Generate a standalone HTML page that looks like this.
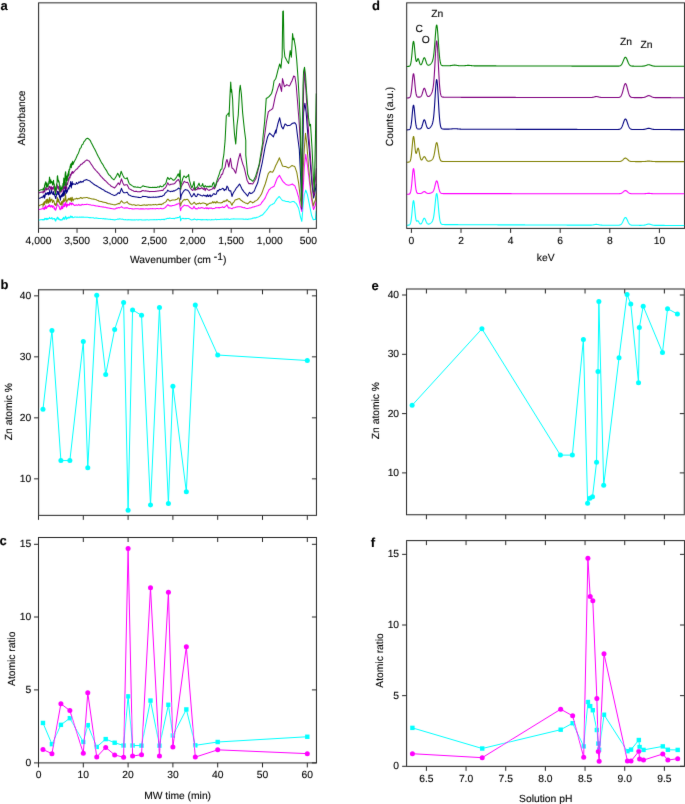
<!DOCTYPE html>
<html><head><meta charset="utf-8"><title>Figure</title>
<style>
html,body{margin:0;padding:0;background:#fff;}
svg{display:block;will-change:transform;font-family:"Liberation Sans",sans-serif;fill:#000;text-rendering:geometricPrecision;}
text{stroke:#000;stroke-width:0.12px;}
</style></head><body>
<svg width="685" height="804" viewBox="0 0 685 804">
<defs><filter id="blur" x="0" y="0" width="685" height="804" filterUnits="userSpaceOnUse"><feConvolveMatrix order="3" kernelMatrix="0.0052 0.0619 0.0052 0.0619 0.7314 0.0619 0.0052 0.0619 0.0052" divisor="1" edgeMode="none" preserveAlpha="false"/></filter></defs>
<rect x="0" y="0" width="685" height="804" fill="#ffffff"/>
<g filter="url(#blur)">
<clipPath id="ca"><rect x="38.5" y="2.5" width="278.3" height="226"/></clipPath>
<path d="M38.50,220.23 L39.40,220.08 L40.30,219.79 L41.20,219.76 L42.10,219.59 L43.00,219.55 L43.00,220.17 L43.27,219.50 L43.54,219.77 L43.81,219.70 L44.08,219.18 L44.35,219.10 L44.62,219.77 L44.89,218.19 L45.16,218.97 L45.43,218.45 L45.70,218.88 L45.97,218.57 L46.24,219.65 L46.51,218.53 L46.78,218.32 L47.05,219.32 L47.32,219.18 L47.59,219.48 L47.86,218.32 L48.13,219.07 L48.40,218.95 L48.67,218.83 L48.94,218.38 L49.21,218.42 L49.48,217.33 L49.75,218.14 L50.02,218.49 L50.29,218.59 L50.56,218.38 L50.83,218.51 L51.10,218.77 L51.37,218.12 L51.64,218.32 L51.91,217.47 L52.18,218.30 L52.45,219.20 L52.72,218.95 L52.99,219.07 L53.26,218.81 L53.53,218.58 L53.80,218.42 L54.07,218.77 L54.34,218.87 L54.61,218.46 L54.88,220.14 L55.15,220.11 L55.42,219.18 L55.69,221.24 L55.96,220.21 L56.23,219.71 L56.50,219.28 L56.77,218.52 L57.04,218.32 L57.31,217.22 L57.58,217.23 L57.85,217.28 L58.12,219.47 L58.39,218.87 L58.66,218.29 L58.93,218.60 L59.20,219.09 L59.47,219.08 L59.74,219.94 L60.01,219.68 L60.28,219.97 L60.55,220.18 L60.82,219.60 L61.09,219.43 L61.36,220.02 L61.63,219.97 L61.90,220.14 L62.17,219.85 L62.44,219.11 L62.71,218.38 L62.98,219.16 L63.25,218.80 L63.52,217.38 L63.79,217.94 L64.06,218.57 L64.33,219.34 L64.60,218.08 L64.87,218.17 L65.14,217.00 L65.41,216.86 L65.68,216.32 L65.95,217.65 L66.22,219.49 L66.49,218.04 L66.76,217.78 L67.03,218.71 L67.30,217.88 L67.57,218.24 L67.84,217.75 L68.11,217.37 L68.38,218.00 L68.65,217.41 L68.92,217.03 L69.19,217.90 L69.46,217.96 L69.73,217.75 L70.00,217.54 L70.27,216.88 L70.54,216.00 L70.81,216.83 L71.08,217.21 L71.35,216.32 L71.62,217.27 L71.89,216.83 L72.16,216.46 L72.43,216.72 L72.70,217.58 L72.97,217.70 L73.78,217.51 L74.61,217.03 L75.43,217.05 L76.25,217.23 L77.08,216.99 L77.90,217.25 L78.73,217.27 L79.55,217.14 L80.37,217.28 L81.20,216.95 L82.02,217.33 L82.84,216.97 L83.67,217.11 L84.49,217.18 L85.32,217.20 L86.14,217.33 L86.96,217.26 L87.78,217.29 L88.59,217.46 L89.40,217.64 L90.21,217.55 L91.03,217.66 L91.84,217.82 L92.65,217.80 L93.46,217.72 L94.28,218.17 L95.09,218.22 L95.90,217.87 L96.71,218.14 L97.53,218.26 L98.34,218.39 L99.15,218.43 L99.96,218.41 L100.77,218.41 L101.59,218.60 L102.40,218.76 L103.21,218.62 L104.02,218.70 L104.84,218.88 L105.65,218.76 L106.46,219.00 L107.27,219.06 L108.09,219.22 L108.90,219.18 L109.71,219.24 L110.52,219.36 L111.34,219.47 L112.15,219.48 L112.96,219.62 L113.77,219.77 L114.59,219.89 L115.42,219.79 L116.26,219.40 L117.10,219.29 L117.93,218.93 L118.77,219.23 L119.61,218.82 L120.65,219.01 L121.70,219.19 L122.75,219.13 L124.00,219.81 L124.81,219.77 L125.62,219.59 L126.43,219.81 L127.24,219.90 L128.05,219.60 L128.86,219.87 L129.67,219.82 L130.48,219.85 L131.29,219.85 L132.10,219.94 L132.91,219.79 L133.72,219.90 L134.53,219.78 L135.34,219.90 L136.15,219.75 L136.96,219.82 L137.77,220.01 L138.58,219.89 L139.39,219.83 L140.20,219.73 L141.01,219.77 L141.82,219.88 L142.63,219.95 L143.44,219.91 L144.25,219.92 L145.06,219.87 L145.87,220.01 L146.68,219.84 L147.49,219.83 L148.30,219.98 L149.11,219.90 L149.95,219.84 L150.78,219.78 L151.62,219.78 L152.46,219.84 L153.29,219.79 L154.13,219.60 L154.97,219.74 L155.81,219.69 L156.64,219.54 L157.48,219.69 L158.32,219.56 L159.15,219.52 L159.99,219.61 L160.83,219.69 L161.66,219.38 L162.50,219.51 L163.34,219.29 L164.18,219.72 L165.12,219.04 L166.06,219.00 L167.00,218.45 L167.94,218.38 L168.84,218.61 L169.74,217.97 L170.63,218.31 L171.53,218.48 L172.43,218.43 L173.32,218.38 L174.22,218.82 L175.06,218.31 L175.89,217.86 L176.73,218.01 L177.57,217.43 L178.40,217.63 L179.24,217.17 L180.12,216.02 L180.62,220.83 L181.25,218.91 L182.13,218.50 L183.01,218.27 L183.85,218.68 L184.68,218.62 L185.52,218.40 L186.36,218.63 L187.19,218.58 L188.03,218.60 L189.08,218.61 L190.12,219.31 L191.17,219.90 L192.22,219.75 L193.26,219.64 L194.31,218.85 L195.14,219.46 L195.98,219.56 L196.82,220.05 L197.66,219.31 L198.49,219.48 L199.33,219.59 L200.17,219.81 L201.00,219.54 L201.84,219.93 L202.68,219.53 L203.51,219.80 L204.35,219.65 L205.16,219.80 L205.97,219.62 L206.77,219.42 L207.58,220.01 L208.39,219.83 L209.19,219.64 L210.00,219.81 L210.82,219.96 L211.64,219.50 L212.46,219.66 L213.28,219.78 L214.09,219.75 L214.91,219.53 L215.73,219.11 L216.55,219.82 L217.37,219.59 L218.19,219.50 L219.01,219.41 L219.83,219.50 L220.64,219.32 L221.46,219.16 L222.28,219.20 L223.10,219.20 L223.92,219.17 L224.74,219.02 L225.56,219.39 L226.38,218.93 L227.19,219.34 L228.01,218.94 L228.83,219.22 L229.67,219.42 L230.51,219.14 L231.34,218.92 L232.18,219.06 L233.02,219.05 L233.85,218.84 L234.69,218.93 L235.53,218.99 L236.37,218.90 L237.20,218.94 L238.04,218.98 L238.88,218.97 L239.76,219.03 L240.63,219.05 L241.51,219.01 L242.39,219.09 L243.27,219.11 L244.15,219.16 L245.03,219.22 L245.91,219.12 L246.79,219.31 L247.66,219.39 L248.50,219.12 L249.34,219.03 L250.18,218.91 L251.01,218.66 L251.85,218.71 L252.69,218.06 L253.52,218.13 L254.36,217.79 L255.20,217.89 L256.03,217.88 L256.87,217.18 L257.71,217.27 L258.55,216.89 L259.38,216.39 L260.22,216.06 L261.06,215.36 L261.89,215.25 L262.73,214.78 L263.67,213.65 L264.61,212.49 L265.56,211.51 L266.50,210.30 L267.44,209.12 L268.38,207.79 L269.32,206.36 L270.26,205.33 L271.21,204.88 L272.15,204.46 L273.09,203.83 L274.03,203.44 L275.08,201.83 L276.12,200.11 L277.17,198.55 L278.11,197.68 L279.05,196.45 L279.91,197.29 L280.78,198.51 L281.64,199.51 L282.50,200.39 L283.43,200.68 L284.35,200.84 L285.27,201.13 L286.20,201.59 L287.15,201.56 L288.10,201.62 L289.05,201.85 L290.00,202.35 L290.93,202.14 L291.85,201.73 L292.77,201.58 L293.70,201.52 L294.53,202.06 L295.37,202.90 L296.20,203.39 L297.03,204.96 L297.87,206.86 L298.70,208.34 L299.60,212.77 L300.50,217.10 L301.80,221.37 L303.00,207.13 L304.30,194.63 L305.70,190.12 L306.55,192.28 L307.40,194.57 L308.23,198.76 L309.07,202.96 L309.90,207.11 L310.80,211.51 L311.70,215.81 L312.50,217.72 L313.30,219.73 L314.35,219.49 L315.40,219.58 L316.30,210.85" fill="none" stroke="#00ffff" stroke-width="1.05" stroke-linejoin="round" clip-path="url(#ca)"/>
<path d="M38.50,209.66 L39.40,209.39 L40.30,209.18 L41.20,209.11 L42.10,208.80 L43.00,208.69 L43.00,207.57 L43.27,208.40 L43.54,207.96 L43.81,209.12 L44.08,208.48 L44.35,209.55 L44.62,207.27 L44.89,206.94 L45.16,208.65 L45.43,206.53 L45.70,205.60 L45.97,207.74 L46.24,208.39 L46.51,208.45 L46.78,207.40 L47.05,207.65 L47.32,206.32 L47.59,206.55 L47.86,206.37 L48.13,206.48 L48.40,205.64 L48.67,205.39 L48.94,206.73 L49.21,205.46 L49.48,204.69 L49.75,205.20 L50.02,206.19 L50.29,206.86 L50.56,205.95 L50.83,207.01 L51.10,206.66 L51.37,205.67 L51.64,205.48 L51.91,205.82 L52.18,206.22 L52.45,207.53 L52.72,206.03 L52.99,205.84 L53.26,206.18 L53.53,206.21 L53.80,206.18 L54.07,208.82 L54.34,208.04 L54.61,207.86 L54.88,209.63 L55.15,208.93 L55.42,209.26 L55.69,210.25 L55.96,208.76 L56.23,208.82 L56.50,207.08 L56.77,205.84 L57.04,205.11 L57.31,204.83 L57.58,203.80 L57.85,205.08 L58.12,205.72 L58.39,205.91 L58.66,206.08 L58.93,206.00 L59.20,206.82 L59.47,208.15 L59.74,208.96 L60.01,208.97 L60.28,209.77 L60.55,209.11 L60.82,208.08 L61.09,208.10 L61.36,205.97 L61.63,208.91 L61.90,208.79 L62.17,208.29 L62.44,206.27 L62.71,208.45 L62.98,207.56 L63.25,206.84 L63.52,205.18 L63.79,203.22 L64.06,205.82 L64.33,206.71 L64.60,206.35 L64.87,205.06 L65.14,203.78 L65.41,202.82 L65.68,202.21 L65.95,205.58 L66.22,206.15 L66.49,207.16 L66.76,205.35 L67.03,203.72 L67.30,206.06 L67.57,205.80 L67.84,204.20 L68.11,204.55 L68.38,205.12 L68.65,204.43 L68.92,204.53 L69.19,204.33 L69.46,205.25 L69.73,203.08 L70.00,202.73 L70.27,203.58 L70.54,203.19 L70.81,204.32 L71.08,203.26 L71.35,204.90 L71.62,203.38 L71.89,203.69 L72.16,203.93 L72.43,203.36 L72.70,203.16 L72.97,204.25 L73.78,204.79 L74.61,205.48 L75.43,205.24 L76.25,204.71 L77.08,205.36 L77.90,205.17 L78.73,204.36 L79.55,205.32 L80.37,204.98 L81.20,205.27 L82.02,204.32 L82.84,204.74 L83.67,204.66 L84.49,204.51 L85.32,204.46 L86.14,204.51 L86.96,204.15 L87.78,204.31 L88.59,204.42 L89.40,204.66 L90.21,204.78 L91.03,205.03 L91.84,205.15 L92.65,205.26 L93.46,205.31 L94.28,205.47 L95.09,205.77 L95.90,205.88 L96.71,205.93 L97.53,206.01 L98.34,206.37 L99.15,206.25 L99.96,206.53 L100.77,206.72 L101.59,206.70 L102.40,206.98 L103.21,206.89 L104.02,207.30 L104.84,207.35 L105.65,207.28 L106.46,207.70 L107.27,207.66 L108.09,208.07 L108.90,207.98 L109.71,208.19 L110.52,208.39 L111.34,208.47 L112.15,208.68 L112.96,208.73 L113.77,209.03 L114.59,209.10 L115.53,208.74 L116.47,208.01 L117.41,208.11 L118.35,207.59 L119.61,207.88 L120.55,207.35 L121.49,206.64 L122.75,207.72 L124.00,207.96 L125.05,208.11 L126.09,207.74 L127.14,207.88 L128.08,208.07 L129.02,208.68 L129.86,208.59 L130.70,208.54 L131.53,208.85 L132.37,208.87 L133.21,208.99 L134.04,208.95 L134.88,208.78 L135.72,208.65 L136.55,208.77 L137.39,208.76 L138.23,208.75 L139.07,208.91 L139.90,208.88 L140.74,208.81 L141.58,208.87 L142.41,208.83 L143.25,208.87 L144.09,208.94 L144.92,208.96 L145.76,208.76 L146.60,208.66 L147.44,209.02 L148.27,208.86 L149.11,208.98 L149.95,208.63 L150.78,208.76 L151.62,208.79 L152.46,208.59 L153.29,208.68 L154.13,208.81 L154.97,208.83 L155.81,208.87 L156.64,208.55 L157.48,208.47 L158.32,208.68 L159.15,208.71 L159.99,208.60 L160.83,208.26 L161.66,208.71 L162.50,208.69 L163.34,208.61 L164.18,208.36 L165.12,207.60 L166.06,206.76 L167.00,205.71 L167.94,204.66 L168.88,205.59 L169.83,206.07 L170.70,205.83 L171.58,205.91 L172.46,205.45 L173.34,205.44 L174.22,205.26 L175.06,205.04 L175.89,204.85 L176.73,204.02 L177.57,204.12 L178.40,203.58 L179.24,203.00 L180.62,210.73 L181.12,208.49 L182.00,207.17 L183.13,206.25 L184.26,205.09 L185.21,205.50 L186.15,205.76 L187.09,205.64 L188.03,205.68 L188.87,206.37 L189.70,207.29 L190.54,207.77 L191.67,208.70 L192.80,208.75 L194.06,206.37 L195.31,208.78 L196.12,208.50 L196.92,208.95 L197.72,208.79 L198.53,207.52 L199.33,208.23 L200.17,208.32 L201.00,207.81 L201.84,207.53 L202.68,207.95 L203.51,208.10 L204.35,208.61 L205.16,208.32 L205.97,207.62 L206.77,208.57 L207.58,207.82 L208.39,208.85 L209.19,207.96 L210.00,208.18 L210.84,208.05 L211.67,208.12 L212.51,208.84 L213.35,208.59 L214.18,208.43 L215.02,208.25 L215.86,207.41 L216.70,207.78 L217.53,207.71 L218.37,207.47 L219.21,208.04 L220.04,207.45 L220.88,207.41 L221.72,207.21 L222.55,206.73 L223.43,207.51 L224.31,207.50 L225.19,206.68 L226.07,205.87 L226.95,204.82 L227.89,206.85 L228.83,208.10 L229.88,207.88 L230.92,208.31 L231.97,208.71 L232.81,208.06 L233.65,207.70 L234.48,207.72 L235.32,207.52 L236.16,207.07 L236.99,207.04 L237.83,206.75 L238.67,206.74 L239.50,206.65 L240.32,206.65 L241.14,206.72 L241.95,207.31 L242.77,207.38 L243.58,207.70 L244.40,207.56 L245.22,208.03 L246.03,208.34 L246.85,208.52 L247.66,208.44 L248.56,208.27 L249.46,207.98 L250.36,207.89 L251.25,207.66 L252.15,207.31 L253.05,206.91 L253.94,206.93 L254.84,206.47 L255.74,206.30 L256.63,205.95 L257.53,205.81 L258.43,205.45 L259.32,204.95 L260.22,204.74 L261.06,203.76 L261.89,202.34 L262.73,201.30 L263.57,200.24 L264.40,199.10 L265.24,197.86 L266.18,195.60 L267.12,193.56 L268.07,191.71 L269.01,189.68 L269.85,189.23 L270.68,188.11 L271.52,187.64 L272.36,187.26 L273.19,186.63 L274.03,186.40 L275.08,183.80 L276.12,181.00 L277.17,178.32 L278.30,176.95 L279.43,175.35 L280.45,177.36 L281.48,179.07 L282.50,180.93 L283.53,182.10 L284.57,183.00 L285.60,184.13 L286.63,184.69 L287.67,184.90 L288.70,185.28 L289.62,185.09 L290.55,184.66 L291.47,184.53 L292.40,183.95 L293.23,184.81 L294.07,185.31 L294.90,185.90 L295.85,188.66 L296.80,190.80 L297.75,194.26 L298.70,197.28 L299.60,202.32 L300.50,206.98 L301.80,211.64 L303.00,192.37 L304.30,167.29 L305.70,154.28 L306.55,159.84 L307.40,164.82 L308.23,171.82 L309.07,178.86 L309.90,186.05 L310.80,193.49 L311.70,200.92 L312.65,205.46 L313.60,209.56 L314.50,207.16 L315.40,204.78 L316.30,199.58" fill="none" stroke="#ff00ff" stroke-width="1.05" stroke-linejoin="round" clip-path="url(#ca)"/>
<path d="M38.50,205.86 L39.40,205.67 L40.30,204.90 L41.20,204.64 L42.10,204.34 L43.00,203.92 L43.00,206.81 L43.27,203.01 L43.54,203.98 L43.81,205.09 L44.08,202.22 L44.35,201.72 L44.62,204.62 L44.89,203.53 L45.16,201.56 L45.43,201.06 L45.70,201.08 L45.97,202.13 L46.24,199.50 L46.51,201.62 L46.78,203.40 L47.05,203.07 L47.32,199.00 L47.59,200.37 L47.86,199.56 L48.13,201.29 L48.40,203.12 L48.67,200.91 L48.94,202.61 L49.21,199.94 L49.48,197.65 L49.75,197.51 L50.02,201.19 L50.29,201.98 L50.56,200.65 L50.83,200.08 L51.10,199.37 L51.37,199.53 L51.64,200.20 L51.91,199.06 L52.18,200.75 L52.45,202.60 L52.72,202.06 L52.99,201.19 L53.26,200.62 L53.53,200.36 L53.80,200.84 L54.07,201.52 L54.34,202.78 L54.61,204.68 L54.88,203.53 L55.15,203.90 L55.42,204.87 L55.69,205.59 L55.96,203.93 L56.23,205.12 L56.50,204.90 L56.77,201.26 L57.04,200.45 L57.31,197.38 L57.58,198.83 L57.85,202.10 L58.12,202.26 L58.39,199.03 L58.66,200.28 L58.93,200.87 L59.20,201.66 L59.47,202.50 L59.74,203.34 L60.01,204.45 L60.28,204.00 L60.55,204.80 L60.82,204.33 L61.09,202.81 L61.36,201.51 L61.63,203.40 L61.90,204.92 L62.17,205.43 L62.44,202.84 L62.71,200.87 L62.98,202.82 L63.25,201.31 L63.52,199.80 L63.79,198.62 L64.06,201.98 L64.33,200.61 L64.60,201.10 L64.87,200.72 L65.14,198.71 L65.41,193.44 L65.68,196.17 L65.95,198.52 L66.22,201.82 L66.49,201.88 L66.76,202.32 L67.03,200.45 L67.30,200.69 L67.57,199.88 L67.84,199.63 L68.11,199.60 L68.38,198.35 L68.65,199.18 L68.92,200.02 L69.19,199.59 L69.46,199.70 L69.73,198.21 L70.00,199.94 L70.27,198.69 L70.54,197.84 L70.81,200.10 L71.08,199.55 L71.35,201.81 L71.62,199.35 L71.89,197.40 L72.16,197.20 L72.43,198.66 L72.70,199.82 L72.97,200.94 L73.78,199.12 L74.72,198.91 L75.66,198.99 L76.47,198.22 L77.28,199.00 L78.09,198.32 L78.89,198.84 L79.70,198.39 L80.51,197.47 L81.31,197.66 L82.12,198.53 L82.93,197.94 L83.74,197.75 L84.54,197.85 L85.35,197.66 L86.16,197.55 L86.96,197.56 L87.80,197.76 L88.64,198.16 L89.48,198.14 L90.31,198.61 L91.15,198.79 L91.99,198.97 L92.82,199.07 L93.66,199.13 L94.50,199.32 L95.39,199.60 L96.29,199.84 L97.19,200.26 L98.08,200.50 L98.98,201.16 L99.88,201.32 L100.77,201.50 L101.61,201.48 L102.45,201.97 L103.29,202.13 L104.12,202.24 L104.96,202.44 L105.80,202.48 L106.63,203.11 L107.47,203.23 L108.31,203.83 L109.20,203.66 L110.10,203.85 L111.00,204.31 L111.89,204.33 L112.79,204.55 L113.69,204.68 L114.59,204.86 L115.53,204.80 L116.47,204.35 L117.41,204.08 L118.35,203.39 L119.61,203.83 L120.55,202.06 L121.49,200.70 L122.75,202.36 L124.00,203.15 L125.05,202.82 L126.09,202.44 L127.14,201.67 L128.08,203.11 L129.02,203.97 L129.86,204.11 L130.70,204.17 L131.53,204.69 L132.37,204.91 L133.21,204.72 L134.04,204.84 L134.94,204.96 L135.84,205.44 L136.73,205.26 L137.63,205.09 L138.53,204.95 L139.42,205.17 L140.32,205.51 L141.20,205.57 L142.08,205.21 L142.96,205.11 L143.84,205.10 L144.72,204.86 L145.59,205.24 L146.47,204.90 L147.35,205.19 L148.23,204.73 L149.11,204.76 L149.92,204.96 L150.73,204.76 L151.55,204.96 L152.36,204.81 L153.17,204.59 L153.98,204.82 L154.80,204.82 L155.61,204.37 L156.42,204.89 L157.23,204.66 L158.05,204.66 L158.86,204.23 L159.67,204.36 L160.48,204.32 L161.30,204.75 L162.11,203.89 L162.92,204.04 L163.97,202.74 L165.01,202.41 L166.06,201.68 L167.00,199.89 L167.94,199.11 L168.88,200.10 L169.83,201.07 L170.70,200.72 L171.58,200.36 L172.46,200.03 L173.34,200.05 L174.22,200.09 L175.06,199.94 L175.89,199.45 L176.73,199.59 L177.57,198.73 L178.40,197.87 L179.24,198.30 L180.62,205.89 L181.12,203.48 L182.00,201.96 L183.13,200.33 L184.26,199.35 L185.21,199.98 L186.15,199.42 L187.09,199.25 L188.03,199.74 L188.87,201.01 L189.70,202.39 L190.54,203.66 L191.67,204.22 L192.80,203.80 L194.06,202.20 L195.31,203.68 L196.12,204.47 L196.92,203.84 L197.72,203.58 L198.53,203.75 L199.33,202.81 L200.17,203.67 L201.00,203.64 L201.84,203.28 L202.68,202.95 L203.51,202.96 L204.35,203.23 L205.16,203.48 L205.97,203.63 L206.77,205.62 L207.58,204.13 L208.39,204.25 L209.19,203.23 L210.00,203.36 L210.94,203.11 L211.88,202.94 L212.82,201.64 L213.77,202.86 L214.81,201.78 L215.86,203.18 L216.91,201.30 L217.95,202.73 L219.00,202.83 L220.04,202.69 L220.88,202.90 L221.72,202.62 L222.55,202.48 L223.39,201.09 L224.23,201.79 L225.07,200.67 L226.01,201.16 L226.95,199.50 L227.89,200.62 L228.83,201.66 L229.77,201.50 L230.72,202.76 L231.97,205.20 L233.02,202.81 L234.06,201.76 L235.11,200.07 L235.99,199.64 L236.87,199.48 L237.75,199.05 L238.63,198.72 L239.50,198.45 L240.55,199.92 L241.60,200.42 L242.64,201.57 L243.48,201.98 L244.32,202.31 L245.15,202.83 L245.99,203.34 L246.83,203.26 L247.66,203.85 L248.50,203.03 L249.34,202.37 L250.18,201.33 L251.01,201.72 L251.85,202.05 L252.69,202.90 L253.52,202.32 L254.36,201.78 L255.20,200.89 L256.03,200.67 L256.87,200.09 L257.71,199.47 L258.65,198.13 L259.59,196.96 L260.53,195.52 L261.48,194.03 L262.42,191.60 L263.36,188.92 L264.30,186.51 L265.24,183.99 L266.29,180.51 L267.33,176.86 L268.38,173.29 L269.32,172.35 L270.26,171.33 L271.10,171.98 L271.94,171.93 L272.77,172.12 L273.72,170.36 L274.66,168.19 L275.60,165.71 L276.54,164.00 L277.50,161.93 L278.47,160.00 L279.43,157.82 L280.45,160.56 L281.48,163.10 L282.50,165.97 L283.53,166.34 L284.57,166.58 L285.60,166.55 L286.63,167.04 L287.67,167.44 L288.70,167.91 L289.62,167.33 L290.55,166.61 L291.47,165.84 L292.40,165.59 L293.23,166.07 L294.07,166.25 L294.90,166.85 L295.85,169.57 L296.80,172.40 L297.75,177.97 L298.70,183.39 L299.60,191.69 L300.50,199.85 L301.50,206.97 L303.00,173.79 L304.30,149.01 L305.50,133.37 L306.70,142.70 L307.65,154.96 L308.60,167.25 L309.43,175.51 L310.27,183.78 L311.10,192.22 L312.20,199.05 L313.30,206.00 L314.35,202.50 L315.40,200.05 L316.30,192.54" fill="none" stroke="#808000" stroke-width="1.05" stroke-linejoin="round" clip-path="url(#ca)"/>
<path d="M38.50,198.60 L39.40,198.32 L40.30,197.91 L41.20,197.50 L42.10,197.05 L43.00,196.68 L43.00,197.66 L43.27,195.79 L43.54,196.55 L43.81,196.43 L44.08,194.72 L44.35,196.47 L44.62,198.24 L44.89,195.65 L45.16,196.28 L45.43,193.02 L45.70,193.00 L45.97,194.23 L46.24,194.32 L46.51,194.23 L46.78,194.48 L47.05,192.73 L47.32,193.81 L47.59,192.77 L47.86,192.59 L48.13,192.99 L48.40,194.99 L48.67,192.52 L48.94,194.71 L49.21,192.67 L49.48,192.42 L49.75,189.51 L50.02,194.02 L50.29,194.13 L50.56,193.44 L50.83,192.89 L51.10,193.23 L51.37,192.00 L51.64,189.93 L51.91,192.16 L52.18,192.60 L52.45,193.20 L52.72,193.87 L52.99,194.55 L53.26,193.25 L53.53,191.63 L53.80,194.79 L54.07,194.73 L54.34,193.69 L54.61,194.88 L54.88,196.18 L55.15,196.16 L55.42,197.62 L55.69,198.52 L55.96,198.50 L56.23,196.77 L56.50,194.13 L56.77,194.22 L57.04,192.90 L57.31,191.16 L57.58,191.69 L57.85,191.97 L58.12,194.75 L58.39,192.95 L58.66,194.54 L58.93,191.29 L59.20,194.42 L59.47,197.18 L59.74,195.63 L60.01,197.60 L60.28,200.29 L60.55,198.66 L60.82,196.11 L61.09,195.67 L61.36,194.70 L61.63,195.76 L61.90,196.92 L62.17,195.76 L62.44,192.95 L62.71,192.95 L62.98,193.70 L63.25,196.33 L63.52,191.40 L63.79,189.99 L64.06,193.44 L64.33,195.39 L64.60,191.86 L64.87,194.18 L65.14,189.61 L65.41,185.18 L65.68,188.30 L65.95,190.12 L66.22,191.95 L66.49,193.28 L66.76,190.90 L67.03,190.12 L67.30,192.02 L67.57,190.69 L67.84,189.36 L68.11,187.66 L68.38,187.89 L68.65,188.00 L68.92,189.06 L69.19,187.49 L69.46,185.56 L69.73,186.09 L70.00,186.55 L70.27,185.80 L70.54,181.56 L70.81,183.81 L71.08,184.24 L71.35,187.98 L71.62,183.89 L71.89,183.11 L72.16,181.56 L72.43,183.47 L72.70,184.97 L72.97,184.08 L73.78,183.83 L74.72,184.14 L75.66,184.39 L76.50,182.51 L77.34,183.86 L78.18,183.38 L79.01,181.79 L79.85,182.76 L80.69,181.30 L81.49,182.26 L82.30,181.56 L83.11,182.04 L83.92,180.39 L84.72,180.31 L85.53,180.11 L86.34,179.50 L87.38,179.90 L88.43,180.37 L89.48,180.84 L90.31,181.31 L91.15,182.18 L91.99,182.81 L92.82,183.37 L93.66,184.24 L94.50,184.56 L95.30,185.30 L96.11,185.52 L96.92,186.21 L97.73,186.30 L98.53,187.11 L99.34,187.55 L100.15,187.99 L100.95,188.47 L101.76,189.00 L102.57,189.44 L103.38,189.71 L104.18,190.44 L104.99,190.94 L105.80,191.44 L106.68,191.76 L107.55,192.30 L108.43,192.84 L109.31,193.09 L110.19,193.45 L111.07,194.13 L111.95,194.48 L112.83,194.87 L113.71,195.31 L114.59,195.49 L115.53,195.08 L116.47,194.82 L117.41,193.63 L118.35,192.76 L119.61,193.46 L120.55,190.95 L121.49,188.34 L122.75,191.67 L124.00,192.75 L125.05,192.67 L126.09,192.52 L127.14,192.25 L128.08,193.83 L129.02,195.11 L129.86,195.34 L130.70,195.70 L131.53,196.11 L132.37,196.52 L133.21,196.36 L134.04,196.84 L134.94,196.77 L135.84,196.90 L136.73,197.07 L137.63,197.33 L138.53,197.36 L139.42,197.61 L140.32,197.40 L141.16,197.26 L142.00,196.85 L142.83,196.30 L143.73,196.49 L144.63,196.46 L145.52,196.50 L146.42,196.73 L147.32,196.82 L148.21,197.48 L149.11,197.10 L149.95,197.42 L150.78,197.20 L151.62,197.22 L152.46,197.28 L153.29,197.05 L154.13,197.31 L154.97,197.23 L155.81,196.94 L156.64,197.26 L157.54,197.07 L158.44,196.88 L159.33,196.87 L160.23,196.30 L161.13,196.46 L162.02,196.36 L162.92,195.59 L163.97,195.30 L165.01,193.30 L166.06,192.31 L166.88,191.83 L167.69,190.12 L168.76,191.10 L169.83,191.18 L170.77,191.67 L171.71,191.11 L172.65,191.52 L173.59,190.72 L174.64,190.89 L175.68,190.08 L176.73,189.66 L177.80,188.80 L178.87,188.05 L180.12,189.16 L180.62,199.38 L181.12,195.93 L182.00,193.69 L183.13,191.98 L184.26,190.42 L185.31,189.55 L186.36,189.99 L187.40,190.04 L188.34,190.82 L189.29,192.26 L190.42,194.61 L191.55,196.87 L192.80,195.56 L194.06,193.38 L195.31,196.05 L196.12,196.60 L196.92,196.12 L197.72,193.99 L198.53,194.22 L199.33,194.66 L200.17,195.06 L201.00,195.54 L201.84,195.70 L202.68,196.02 L203.51,195.11 L204.35,195.38 L205.16,196.23 L205.97,195.43 L206.77,196.65 L207.58,194.78 L208.39,196.56 L209.19,196.05 L210.00,194.81 L210.84,196.69 L211.67,195.85 L212.51,195.30 L213.35,193.85 L214.18,193.68 L215.02,194.54 L216.28,194.04 L217.32,190.59 L218.37,191.09 L219.42,189.36 L220.46,189.75 L221.51,189.13 L222.55,188.32 L223.39,188.80 L224.23,190.63 L225.07,189.18 L226.01,189.85 L226.95,186.09 L227.89,187.25 L228.83,190.23 L229.77,191.00 L230.72,190.74 L231.97,196.47 L232.91,193.75 L233.85,192.01 L234.80,190.75 L235.74,188.97 L236.68,187.56 L237.62,186.57 L238.56,185.38 L239.50,183.98 L240.34,185.39 L241.18,187.28 L242.02,189.07 L242.96,190.38 L243.90,191.80 L244.84,192.74 L245.78,193.96 L246.72,194.97 L247.66,196.09 L248.61,193.89 L249.55,192.34 L250.80,193.62 L251.85,193.31 L252.90,192.25 L253.94,191.59 L254.88,189.43 L255.83,186.95 L256.77,184.91 L257.71,182.77 L258.65,178.74 L259.59,174.43 L260.53,170.34 L261.48,166.12 L262.42,161.77 L263.36,156.34 L264.30,151.31 L265.24,146.10 L266.08,143.11 L266.92,139.55 L267.75,136.49 L268.69,134.84 L269.64,133.14 L270.58,134.19 L271.52,134.86 L272.46,135.91 L273.40,136.82 L274.24,134.41 L275.08,132.30 L275.91,129.98 L275.96,133.12 L276.88,128.01 L277.80,124.02 L278.74,120.84 L279.68,117.77 L280.62,122.30 L281.56,126.69 L281.90,127.10 L283.10,128.93 L284.05,126.57 L285.00,124.05 L285.83,124.36 L286.67,125.23 L287.50,125.69 L288.33,125.49 L289.17,125.46 L290.00,125.21 L291.20,124.32 L292.40,123.27 L293.23,123.17 L294.07,122.86 L294.90,122.86 L296.20,124.70 L297.40,134.86 L298.35,142.24 L299.30,149.38 L300.15,167.18 L301.00,184.86 L301.70,209.05 L302.60,160.30 L303.60,112.31 L304.90,103.17 L306.10,112.01 L307.05,124.46 L308.00,137.18 L309.20,149.50 L310.13,161.38 L311.07,173.43 L312.00,184.88 L312.80,191.27 L313.60,198.09 L315.00,192.05 L316.30,183.88" fill="none" stroke="#000080" stroke-width="1.05" stroke-linejoin="round" clip-path="url(#ca)"/>
<path d="M38.50,193.10 L39.40,192.81 L40.30,192.31 L41.20,192.33 L42.10,191.97 L43.00,191.75 L43.00,193.04 L43.27,191.67 L43.54,191.53 L43.81,191.92 L44.08,189.67 L44.35,192.03 L44.62,189.59 L44.89,191.41 L45.16,190.24 L45.43,188.51 L45.70,187.54 L45.97,187.91 L46.24,189.08 L46.51,190.00 L46.78,189.38 L47.05,188.60 L47.32,188.83 L47.59,188.81 L47.86,189.03 L48.13,189.87 L48.40,188.57 L48.67,188.34 L48.94,186.32 L49.21,186.81 L49.48,186.26 L49.75,186.74 L50.02,188.07 L50.29,188.18 L50.56,189.04 L50.83,187.94 L51.10,186.27 L51.37,190.00 L51.64,188.41 L51.91,187.25 L52.18,187.77 L52.45,189.14 L52.72,189.32 L52.99,187.58 L53.26,187.73 L53.53,188.70 L53.80,185.77 L54.07,188.97 L54.34,190.41 L54.61,190.94 L54.88,191.14 L55.15,191.64 L55.42,194.54 L55.69,192.43 L55.96,190.53 L56.23,191.97 L56.50,190.14 L56.77,187.62 L57.04,186.45 L57.31,184.81 L57.58,187.12 L57.85,187.34 L58.12,188.88 L58.39,187.79 L58.66,186.46 L58.93,189.57 L59.20,187.66 L59.47,191.81 L59.74,190.23 L60.01,193.22 L60.28,192.12 L60.55,191.01 L60.82,191.24 L61.09,190.02 L61.36,189.65 L61.63,191.24 L61.90,191.95 L62.17,189.31 L62.44,188.24 L62.71,188.73 L62.98,186.10 L63.25,189.87 L63.52,186.01 L63.79,186.44 L64.06,187.50 L64.33,188.63 L64.60,188.29 L64.87,186.24 L65.14,186.21 L65.41,184.44 L65.68,182.09 L65.95,186.11 L66.22,189.20 L66.49,188.15 L66.76,184.44 L67.03,183.99 L67.30,183.14 L67.57,184.57 L67.84,182.28 L68.11,181.96 L68.38,179.14 L68.65,178.40 L68.92,180.22 L69.19,177.06 L69.46,176.88 L69.73,177.00 L70.00,177.93 L70.27,174.09 L70.54,175.15 L70.81,175.67 L71.08,174.59 L71.35,174.25 L71.62,172.49 L71.89,173.71 L72.16,171.52 L72.43,171.61 L72.70,171.73 L72.97,173.13 L73.78,172.06 L74.72,171.02 L75.66,169.99 L76.56,169.06 L77.46,168.69 L78.36,166.99 L79.25,166.52 L80.15,165.35 L81.05,164.17 L81.94,164.17 L82.78,163.20 L83.62,162.53 L84.45,161.96 L85.29,160.91 L86.13,160.44 L86.96,159.80 L87.80,160.42 L88.64,160.68 L89.48,161.49 L90.31,162.68 L91.15,164.10 L91.99,165.32 L92.82,166.49 L93.66,167.99 L94.50,168.92 L95.33,169.80 L96.17,170.75 L97.01,171.60 L97.85,172.68 L98.68,173.35 L99.52,174.56 L100.36,175.58 L101.19,176.60 L102.03,177.34 L102.87,178.54 L103.70,179.18 L104.54,180.20 L105.44,180.75 L106.33,181.72 L107.23,182.52 L108.13,183.67 L109.03,184.33 L109.92,184.90 L110.82,185.95 L111.76,186.47 L112.70,186.90 L113.64,187.47 L114.59,187.96 L115.53,186.86 L116.47,185.61 L117.41,184.29 L118.35,182.92 L119.61,184.82 L120.55,181.75 L121.49,178.85 L122.75,182.70 L124.00,185.12 L125.05,184.92 L126.09,184.65 L127.14,184.67 L128.08,186.66 L129.02,188.83 L129.86,189.12 L130.70,189.38 L131.53,190.02 L132.37,190.54 L133.21,190.69 L134.04,191.25 L134.94,191.47 L135.84,191.36 L136.73,191.39 L137.63,191.85 L138.53,191.75 L139.42,191.85 L140.32,191.63 L141.16,191.59 L142.00,190.69 L142.83,190.44 L143.73,190.77 L144.63,191.00 L145.52,190.81 L146.42,190.99 L147.32,191.26 L148.21,191.09 L149.11,191.61 L149.95,191.57 L150.78,191.40 L151.62,191.51 L152.46,191.52 L153.29,191.42 L154.13,191.43 L154.97,191.54 L155.81,191.23 L156.64,191.29 L157.54,191.01 L158.44,191.06 L159.33,190.67 L160.23,190.72 L161.13,190.42 L162.02,190.22 L162.92,190.61 L163.97,188.81 L165.01,188.16 L166.06,186.79 L166.88,185.07 L167.69,182.67 L169.20,184.94 L170.08,184.75 L170.96,184.15 L171.83,184.33 L172.71,184.07 L173.59,183.97 L174.64,183.60 L175.68,182.06 L176.73,180.89 L177.67,179.93 L178.61,179.43 L179.87,182.51 L180.62,189.64 L181.12,186.69 L181.75,185.85 L182.59,184.09 L183.43,182.89 L184.26,181.22 L185.10,181.89 L185.94,182.37 L186.77,182.57 L187.72,182.37 L188.66,184.30 L189.49,186.42 L190.33,188.04 L191.17,189.12 L191.98,189.84 L192.80,190.47 L194.06,187.43 L194.94,190.30 L195.98,189.29 L197.03,189.66 L198.07,187.04 L198.97,189.18 L199.87,188.31 L200.76,188.65 L201.66,187.61 L202.56,188.29 L203.45,189.36 L204.35,187.95 L205.16,190.65 L205.97,188.28 L206.77,188.56 L207.58,189.61 L208.39,190.07 L209.19,190.40 L210.00,189.74 L210.84,189.61 L211.67,189.34 L212.51,188.84 L213.35,186.90 L214.18,188.95 L215.02,187.93 L215.96,185.36 L216.91,182.28 L217.74,181.45 L218.58,179.79 L219.42,178.28 L220.46,177.67 L221.51,174.17 L222.55,174.12 L223.39,170.66 L224.23,168.69 L225.07,167.49 L226.01,162.18 L226.95,159.43 L227.89,162.53 L228.83,167.09 L229.65,162.25 L230.46,158.29 L231.97,168.04 L232.91,168.56 L233.85,169.50 L234.80,171.59 L235.74,173.19 L236.57,168.87 L237.41,164.55 L238.25,160.19 L239.19,156.60 L240.13,153.38 L241.07,157.63 L242.02,161.33 L242.85,164.17 L243.69,166.11 L244.53,169.12 L245.36,172.64 L246.20,176.47 L247.04,180.17 L247.98,182.01 L248.92,183.80 L249.86,183.62 L250.80,183.55 L251.75,183.84 L252.69,183.94 L253.73,182.24 L254.78,180.54 L255.83,178.79 L256.70,175.71 L257.58,172.03 L258.46,168.43 L259.34,164.83 L260.22,161.24 L261.16,156.24 L262.10,150.83 L263.04,145.24 L263.99,140.19 L263.99,139.90 L264.82,134.00 L265.66,127.62 L266.50,121.55 L267.44,116.66 L268.38,111.63 L269.22,111.08 L270.05,110.19 L270.89,109.91 L271.83,109.25 L272.77,108.42 L273.61,104.52 L274.45,100.36 L275.29,96.48 L276.12,93.59 L276.96,91.07 L277.80,88.37 L278.74,86.02 L279.68,83.45 L280.62,87.51 L281.56,91.42 L282.50,78.57 L283.45,82.60 L284.40,86.73 L285.20,85.79 L286.00,85.54 L286.80,84.57 L287.63,85.16 L288.47,85.67 L289.30,86.03 L290.13,84.67 L290.97,82.75 L291.80,81.33 L292.75,78.77 L293.70,76.03 L294.90,76.76 L296.20,84.99 L297.40,99.70 L298.35,112.19 L299.30,124.52 L300.20,142.31 L301.10,159.95 L301.70,208.01 L302.60,140.14 L303.60,90.20 L304.50,71.12 L305.30,82.33 L306.10,93.62 L307.05,109.01 L308.00,124.45 L308.95,137.21 L309.90,149.37 L310.77,161.47 L311.63,173.03 L312.50,185.26 L313.80,195.85 L315.00,185.12 L316.30,168.22" fill="none" stroke="#800080" stroke-width="1.05" stroke-linejoin="round" clip-path="url(#ca)"/>
<path d="M38.50,190.43 L39.40,190.64 L40.30,190.02 L41.20,189.64 L42.10,189.84 L43.00,189.62 L43.00,190.24 L43.27,188.04 L43.54,189.44 L43.81,189.18 L44.08,189.92 L44.35,188.23 L44.62,184.76 L44.89,184.99 L45.16,183.11 L45.43,183.43 L45.70,181.74 L45.97,182.62 L46.24,187.75 L46.51,184.67 L46.78,184.26 L47.05,182.96 L47.32,186.35 L47.59,187.12 L47.86,186.44 L48.13,186.30 L48.40,184.09 L48.67,183.73 L48.94,181.12 L49.21,181.36 L49.48,177.03 L49.75,178.02 L50.02,183.66 L50.29,181.02 L50.56,182.14 L50.83,179.78 L51.10,182.98 L51.37,182.67 L51.64,181.41 L51.91,181.55 L52.18,181.49 L52.45,184.31 L52.72,184.91 L52.99,184.53 L53.26,183.63 L53.53,180.35 L53.80,184.12 L54.07,183.63 L54.34,184.89 L54.61,189.88 L54.88,188.20 L55.15,186.70 L55.42,194.20 L55.69,190.36 L55.96,189.29 L56.23,189.54 L56.50,184.89 L56.77,183.53 L57.04,183.04 L57.31,176.33 L57.58,175.82 L57.85,178.24 L58.12,179.82 L58.39,181.82 L58.66,180.52 L58.93,182.31 L59.20,182.00 L59.47,187.12 L59.74,188.35 L60.01,191.26 L60.28,191.53 L60.55,190.99 L60.82,185.84 L61.09,190.12 L61.36,189.42 L61.63,188.21 L61.90,188.07 L62.17,187.13 L62.44,188.62 L62.71,188.68 L62.98,183.58 L63.25,185.99 L63.52,183.24 L63.79,177.99 L64.06,180.63 L64.33,185.69 L64.60,184.25 L64.87,180.19 L65.14,174.56 L65.41,172.54 L65.68,171.70 L65.95,177.10 L66.22,185.68 L66.49,177.68 L66.76,176.59 L67.03,175.89 L67.30,180.81 L67.57,178.53 L67.84,173.82 L68.11,176.82 L68.38,172.85 L68.65,170.92 L68.92,175.39 L69.19,169.22 L69.46,169.98 L69.73,169.79 L70.00,167.22 L70.27,165.95 L70.54,165.16 L70.81,163.98 L71.08,167.81 L71.35,167.57 L71.62,162.95 L71.89,163.20 L72.16,164.97 L72.43,162.17 L72.70,161.34 L72.97,164.45 L73.78,162.45 L74.72,160.68 L75.66,158.98 L76.56,157.09 L77.46,154.77 L78.36,153.43 L79.25,150.88 L80.15,148.29 L81.05,147.53 L81.94,144.86 L82.88,144.33 L83.83,141.88 L84.77,140.93 L85.71,139.47 L86.65,138.51 L87.59,138.28 L88.53,138.78 L89.48,139.66 L90.31,140.55 L91.15,142.50 L91.99,144.00 L92.87,145.65 L93.74,147.44 L94.62,149.00 L95.50,150.84 L96.38,152.64 L97.26,154.43 L98.14,156.24 L99.02,157.84 L99.90,159.51 L100.77,161.29 L101.61,162.85 L102.45,163.89 L103.29,165.36 L104.12,166.90 L104.96,168.27 L105.80,169.71 L106.63,170.69 L107.47,172.49 L108.31,173.90 L109.25,175.17 L110.19,175.80 L111.13,177.19 L112.07,178.42 L113.02,179.05 L113.96,179.80 L114.90,178.52 L115.84,176.90 L116.78,175.31 L117.72,173.26 L118.67,175.06 L119.61,177.35 L121.11,171.32 L121.93,173.17 L122.75,175.13 L124.00,177.56 L124.94,178.39 L125.88,178.78 L127.14,177.70 L128.08,180.48 L129.02,183.25 L129.86,184.25 L130.70,184.67 L131.53,185.41 L132.37,185.88 L133.21,186.34 L134.04,186.96 L134.94,186.79 L135.84,187.10 L136.73,187.17 L137.63,187.10 L138.53,187.28 L139.42,187.57 L140.32,187.82 L141.16,187.18 L142.00,186.58 L142.83,185.88 L143.67,186.08 L144.51,186.53 L145.34,186.57 L146.28,186.70 L147.23,187.07 L148.17,187.07 L149.11,187.41 L149.95,187.37 L150.78,187.41 L151.62,187.49 L152.46,187.36 L153.29,187.43 L154.13,187.20 L154.97,187.53 L155.81,187.35 L156.64,187.57 L157.54,186.87 L158.44,187.08 L159.33,187.11 L160.23,185.85 L161.13,186.62 L162.02,186.68 L162.92,186.54 L163.86,184.89 L164.80,184.72 L166.06,182.80 L166.88,179.47 L167.69,177.41 L169.20,179.57 L170.45,177.97 L171.50,178.51 L172.55,179.71 L173.59,180.26 L174.64,179.68 L175.68,178.33 L176.73,176.81 L178.24,173.84 L179.24,176.86 L180.12,170.01 L180.62,189.18 L181.12,184.22 L181.75,182.65 L182.88,178.24 L184.01,175.88 L185.08,176.86 L186.15,177.77 L186.98,176.32 L187.82,176.15 L188.66,174.51 L189.29,179.94 L190.12,182.62 L190.96,185.82 L191.80,187.90 L192.80,186.05 L194.06,181.49 L194.94,189.62 L196.19,187.50 L197.13,186.85 L198.07,185.18 L199.02,183.17 L199.96,186.06 L200.90,186.26 L201.84,185.71 L202.68,183.60 L203.51,186.84 L204.35,187.16 L205.19,185.61 L206.03,186.41 L206.86,187.23 L207.91,186.21 L208.95,187.12 L210.00,185.95 L210.94,186.84 L211.88,186.58 L212.82,183.52 L213.77,182.41 L214.71,187.31 L215.65,185.51 L216.91,180.84 L217.85,177.85 L218.79,175.57 L220.04,171.33 L220.99,169.30 L221.93,168.94 L222.87,160.19 L223.81,154.93 L225.07,140.92 L226.32,115.79 L227.58,114.26 L228.58,112.97 L229.08,116.59 L229.84,98.13 L230.72,82.07 L231.34,92.20 L231.59,89.25 L232.60,99.10 L233.23,115.69 L234.48,133.96 L235.74,144.07 L236.99,125.45 L238.25,115.24 L239.50,90.60 L240.26,85.38 L241.39,93.97 L242.64,112.86 L243.58,121.98 L244.53,130.71 L245.78,140.46 L245.78,155.13 L246.72,164.70 L247.66,174.18 L248.61,176.54 L249.55,179.03 L250.80,179.56 L251.75,180.46 L252.69,181.26 L253.52,180.56 L254.36,178.89 L255.20,177.34 L256.14,174.62 L257.08,171.43 L258.02,168.32 L258.96,165.47 L259.91,159.49 L260.85,153.81 L261.79,148.07 L262.73,142.55 L262.73,139.99 L263.67,130.87 L264.61,122.15 L265.43,110.06 L266.25,98.23 L267.17,98.09 L268.09,97.28 L269.01,96.64 L269.85,95.58 L270.68,94.55 L271.52,93.48 L272.77,89.21 L274.03,80.98 L274.97,79.78 L275.91,78.20 L276.85,74.53 L277.80,70.63 L278.74,67.47 L279.68,64.00 L280.94,68.17 L281.81,58.93 L282.14,57.67 L282.76,11.41 L283.38,11.00 L284.00,48.49 L284.88,56.70 L285.81,58.45 L286.74,60.39 L287.67,62.08 L288.61,63.49 L289.42,56.71 L290.22,50.50 L291.34,57.20 L292.59,33.60 L293.33,39.70 L293.96,38.31 L295.45,47.05 L296.69,59.64 L297.94,76.93 L299.18,99.03 L300.20,120.20 L301.00,159.80 L301.60,206.87 L302.40,124.69 L303.00,86.88 L303.60,71.34 L304.50,67.27 L305.50,75.02 L306.70,93.42 L307.65,106.00 L308.60,118.42 L309.60,125.90 L310.50,124.28 L311.30,136.84 L312.10,149.49 L313.40,178.25 L314.20,191.90 L315.00,160.09 L316.30,93.53" fill="none" stroke="#008000" stroke-width="1.05" stroke-linejoin="round" clip-path="url(#ca)"/>
<rect x="38.60" y="2.85" width="277.75" height="225.50" fill="none" stroke="#262626" stroke-width="1"/>
<line x1="38.50" y1="228.35" x2="38.50" y2="232.85" stroke="#262626" stroke-width="1"/>
<text x="38.50" y="243.70" font-size="10.3" text-anchor="middle" font-weight="normal" >4,000</text>
<line x1="77.04" y1="228.35" x2="77.04" y2="232.85" stroke="#262626" stroke-width="1"/>
<text x="77.04" y="243.70" font-size="10.3" text-anchor="middle" font-weight="normal" >3,500</text>
<line x1="115.59" y1="228.35" x2="115.59" y2="232.85" stroke="#262626" stroke-width="1"/>
<text x="115.59" y="243.70" font-size="10.3" text-anchor="middle" font-weight="normal" >3,000</text>
<line x1="154.13" y1="228.35" x2="154.13" y2="232.85" stroke="#262626" stroke-width="1"/>
<text x="154.13" y="243.70" font-size="10.3" text-anchor="middle" font-weight="normal" >2,500</text>
<line x1="192.67" y1="228.35" x2="192.67" y2="232.85" stroke="#262626" stroke-width="1"/>
<text x="192.67" y="243.70" font-size="10.3" text-anchor="middle" font-weight="normal" >2,000</text>
<line x1="231.21" y1="228.35" x2="231.21" y2="232.85" stroke="#262626" stroke-width="1"/>
<text x="231.21" y="243.70" font-size="10.3" text-anchor="middle" font-weight="normal" >1,500</text>
<line x1="269.76" y1="228.35" x2="269.76" y2="232.85" stroke="#262626" stroke-width="1"/>
<text x="269.76" y="243.70" font-size="10.3" text-anchor="middle" font-weight="normal" >1,000</text>
<line x1="308.30" y1="228.35" x2="308.30" y2="232.85" stroke="#262626" stroke-width="1"/>
<text x="308.30" y="243.70" font-size="10.3" text-anchor="middle" font-weight="normal" >500</text>
<text transform="translate(24.60,117.90) rotate(-90)" font-size="10.3" text-anchor="middle">Absorbance</text>
<text x="130.0" y="263" font-size="10.3">Wavenumber (cm <tspan dy="-3.2">-1</tspan><tspan dy="3.2">)</tspan></text>
<text x="0.60" y="9.80" font-size="13" text-anchor="start" font-weight="bold" >a</text>
<path d="M406.70,225.20 L407.00,225.20 L407.30,225.19 L407.60,225.19 L407.90,225.18 L408.20,225.16 L408.50,225.14 L408.80,225.10 L409.10,225.03 L409.40,224.91 L409.70,224.71 L410.00,224.36 L410.30,223.79 L410.60,222.90 L410.90,221.60 L411.20,219.80 L411.50,217.44 L411.80,214.56 L412.10,211.31 L412.40,207.95 L412.70,204.83 L413.00,202.34 L413.30,200.85 L413.60,200.59 L413.90,201.59 L414.20,203.70 L414.50,206.57 L414.80,209.80 L415.10,213.00 L415.40,215.84 L415.70,218.11 L416.00,219.72 L416.30,220.69 L416.60,221.11 L416.90,221.14 L417.20,220.98 L417.50,220.79 L417.80,220.74 L418.10,220.89 L418.40,221.26 L418.70,221.78 L419.00,222.37 L419.30,222.93 L419.60,223.40 L419.90,223.74 L420.20,223.94 L420.50,224.01 L420.80,223.95 L421.10,223.77 L421.40,223.48 L421.70,223.07 L422.00,222.54 L422.30,221.90 L422.60,221.19 L422.90,220.43 L423.20,219.70 L423.50,219.05 L423.80,218.55 L424.10,218.27 L424.40,218.23 L424.70,218.44 L425.00,218.88 L425.30,219.49 L425.60,220.20 L425.90,220.96 L426.20,221.69 L426.50,222.35 L426.80,222.90 L427.10,223.35 L427.40,223.68 L427.70,223.91 L428.00,224.05 L428.30,224.12 L428.60,224.13 L428.90,224.09 L429.20,224.01 L429.50,223.90 L429.80,223.76 L430.10,223.59 L430.40,223.39 L430.70,223.16 L431.00,222.91 L431.30,222.62 L431.60,222.30 L431.90,221.92 L432.20,221.47 L432.50,220.91 L432.80,220.20 L433.10,219.28 L433.40,218.08 L433.70,216.55 L434.00,214.63 L434.30,212.30 L434.60,209.60 L434.90,206.60 L435.20,203.45 L435.50,200.37 L435.80,197.59 L436.10,195.38 L436.40,193.96 L436.70,193.51 L437.00,194.09 L437.30,195.66 L437.60,198.07 L437.90,201.09 L438.20,204.47 L438.50,207.93 L438.80,211.25 L439.10,214.27 L439.40,216.86 L439.70,218.99 L440.00,220.65 L440.30,221.91 L440.60,222.81 L440.90,223.44 L441.20,223.86 L441.50,224.13 L441.80,224.30 L442.10,224.40 L442.40,224.47 L442.70,224.51 L443.00,224.53 L443.30,224.55 L443.60,224.56 L443.90,224.56 L444.20,224.57 L444.50,224.58 L444.80,224.58 L445.10,224.59 L445.40,224.59 L445.70,224.59 L446.00,224.60 L446.30,224.60 L446.60,224.60 L446.90,224.61 L447.20,224.61 L447.50,224.61 L447.80,224.62 L448.10,224.62 L448.40,224.62 L448.70,224.62 L449.00,224.63 L449.30,224.63 L449.60,224.63 L449.90,224.63 L450.20,224.63 L450.50,224.64 L450.80,224.64 L451.10,224.64 L451.40,224.64 L451.70,224.64 L452.00,224.65 L452.30,224.65 L452.60,224.65 L452.90,224.65 L453.20,224.65 L453.50,224.65 L453.80,224.66 L454.10,224.66 L454.40,224.66 L454.70,224.66 L455.00,224.66 L455.30,224.66 L455.60,224.66 L455.90,224.67 L456.20,224.67 L456.50,224.67 L456.80,224.67 L457.10,224.67 L457.40,224.67 L457.70,224.67 L458.00,224.67 L458.30,224.68 L458.60,224.68 L458.90,224.68 L459.20,224.68 L459.50,224.68 L459.80,224.68 L460.10,224.68 L460.40,224.69 L460.70,224.69 L461.00,224.69 L461.30,224.69 L461.60,224.69 L461.90,224.69 L462.20,224.69 L462.50,224.69 L462.80,224.70 L463.10,224.70 L463.40,224.70 L463.70,224.70 L464.00,224.70 L464.30,224.70 L464.60,224.70 L464.90,224.70 L465.20,224.70 L465.50,224.71 L465.80,224.71 L466.10,224.71 L466.40,224.71 L466.70,224.71 L467.00,224.71 L467.30,224.71 L467.60,224.71 L467.90,224.72 L468.20,224.72 L468.50,224.72 L468.80,224.72 L469.10,224.72 L469.40,224.72 L469.70,224.72 L470.00,224.72 L470.30,224.72 L470.60,224.73 L470.90,224.73 L471.20,224.73 L471.50,224.73 L471.80,224.73 L472.10,224.73 L472.40,224.73 L472.70,224.73 L473.00,224.73 L473.30,224.74 L473.60,224.74 L473.90,224.74 L474.20,224.74 L474.50,224.74 L474.80,224.74 L475.10,224.74 L475.40,224.74 L475.70,224.74 L476.00,224.75 L476.30,224.75 L476.60,224.75 L476.90,224.75 L477.20,224.75 L477.50,224.75 L477.80,224.75 L478.10,224.75 L478.40,224.76 L478.70,224.76 L479.00,224.76 L479.30,224.76 L479.60,224.76 L479.90,224.76 L480.20,224.76 L480.50,224.76 L480.80,224.76 L481.10,224.77 L481.40,224.77 L481.70,224.77 L482.00,224.77 L482.30,224.77 L482.60,224.77 L482.90,224.77 L483.20,224.77 L483.50,224.77 L483.80,224.77 L484.10,224.78 L484.40,224.78 L484.70,224.78 L485.00,224.78 L485.30,224.78 L485.60,224.78 L485.90,224.78 L486.20,224.78 L486.50,224.78 L486.80,224.79 L487.10,224.79 L487.40,224.79 L487.70,224.79 L488.00,224.79 L488.30,224.79 L488.60,224.79 L488.90,224.79 L489.20,224.79 L489.50,224.80 L489.80,224.80 L490.10,224.80 L490.40,224.80 L490.70,224.80 L491.00,224.80 L491.30,224.80 L491.60,224.80 L491.90,224.80 L492.20,224.81 L492.50,224.81 L492.80,224.81 L493.10,224.81 L493.40,224.81 L493.70,224.81 L494.00,224.81 L494.30,224.81 L494.60,224.81 L494.90,224.82 L495.20,224.82 L495.50,224.82 L495.80,224.82 L496.10,224.82 L496.40,224.82 L496.70,224.82 L497.00,224.82 L497.30,224.82 L497.60,224.83 L497.90,224.83 L498.20,224.83 L498.50,224.83 L498.80,224.83 L499.10,224.83 L499.40,224.83 L499.70,224.83 L500.00,224.83 L500.30,224.84 L500.60,224.84 L500.90,224.84 L501.20,224.84 L501.50,224.84 L501.80,224.84 L502.10,224.84 L502.40,224.84 L502.70,224.84 L503.00,224.85 L503.30,224.85 L503.60,224.85 L503.90,224.85 L504.20,224.85 L504.50,224.85 L504.80,224.85 L505.10,224.85 L505.40,224.85 L505.70,224.85 L506.00,224.86 L506.30,224.86 L506.60,224.86 L506.90,224.86 L507.20,224.86 L507.50,224.86 L507.80,224.86 L508.10,224.86 L508.40,224.86 L508.70,224.87 L509.00,224.87 L509.30,224.87 L509.60,224.87 L509.90,224.87 L510.20,224.87 L510.50,224.87 L510.80,224.87 L511.10,224.87 L511.40,224.88 L511.70,224.88 L512.00,224.88 L512.30,224.88 L512.60,224.88 L512.90,224.88 L513.20,224.88 L513.50,224.88 L513.80,224.88 L514.10,224.89 L514.40,224.89 L514.70,224.89 L515.00,224.89 L515.30,224.89 L515.60,224.89 L515.90,224.89 L516.20,224.89 L516.50,224.89 L516.80,224.90 L517.10,224.90 L517.40,224.90 L517.70,224.90 L518.00,224.90 L518.30,224.90 L518.60,224.90 L518.90,224.90 L519.20,224.90 L519.50,224.90 L519.80,224.91 L520.10,224.91 L520.40,224.91 L520.70,224.91 L521.00,224.91 L521.30,224.91 L521.60,224.91 L521.90,224.91 L522.20,224.91 L522.50,224.92 L522.80,224.92 L523.10,224.92 L523.40,224.92 L523.70,224.92 L524.00,224.92 L524.30,224.92 L524.60,224.92 L524.90,224.92 L525.20,224.93 L525.50,224.93 L525.80,224.93 L526.10,224.93 L526.40,224.93 L526.70,224.93 L527.00,224.93 L527.30,224.93 L527.60,224.93 L527.90,224.94 L528.20,224.94 L528.50,224.94 L528.80,224.94 L529.10,224.94 L529.40,224.94 L529.70,224.94 L530.00,224.94 L530.30,224.94 L530.60,224.94 L530.90,224.95 L531.20,224.95 L531.50,224.95 L531.80,224.95 L532.10,224.95 L532.40,224.95 L532.70,224.95 L533.00,224.95 L533.30,224.95 L533.60,224.96 L533.90,224.96 L534.20,224.96 L534.50,224.96 L534.80,224.96 L535.10,224.96 L535.40,224.96 L535.70,224.96 L536.00,224.96 L536.30,224.97 L536.60,224.97 L536.90,224.97 L537.20,224.97 L537.50,224.97 L537.80,224.97 L538.10,224.97 L538.40,224.97 L538.70,224.97 L539.00,224.98 L539.30,224.98 L539.60,224.98 L539.90,224.98 L540.20,224.98 L540.50,224.98 L540.80,224.98 L541.10,224.98 L541.40,224.98 L541.70,224.98 L542.00,224.99 L542.30,224.99 L542.60,224.99 L542.90,224.99 L543.20,224.99 L543.50,224.99 L543.80,224.99 L544.10,224.99 L544.40,224.99 L544.70,225.00 L545.00,225.00 L545.30,225.00 L545.60,225.00 L545.90,225.00 L546.20,225.00 L546.50,225.00 L546.80,225.00 L547.10,225.00 L547.40,225.01 L547.70,225.01 L548.00,225.01 L548.30,225.01 L548.60,225.01 L548.90,225.01 L549.20,225.01 L549.50,225.01 L549.80,225.01 L550.10,225.02 L550.40,225.02 L550.70,225.02 L551.00,225.02 L551.30,225.02 L551.60,225.02 L551.90,225.02 L552.20,225.02 L552.50,225.02 L552.80,225.02 L553.10,225.03 L553.40,225.03 L553.70,225.03 L554.00,225.03 L554.30,225.03 L554.60,225.03 L554.90,225.03 L555.20,225.03 L555.50,225.03 L555.80,225.04 L556.10,225.04 L556.40,225.04 L556.70,225.04 L557.00,225.04 L557.30,225.04 L557.60,225.04 L557.90,225.04 L558.20,225.04 L558.50,225.05 L558.80,225.05 L559.10,225.05 L559.40,225.05 L559.70,225.05 L560.00,225.05 L560.30,225.05 L560.60,225.05 L560.90,225.05 L561.20,225.05 L561.50,225.06 L561.80,225.06 L562.10,225.06 L562.40,225.06 L562.70,225.06 L563.00,225.06 L563.30,225.06 L563.60,225.06 L563.90,225.06 L564.20,225.07 L564.50,225.07 L564.80,225.07 L565.10,225.07 L565.40,225.07 L565.70,225.07 L566.00,225.07 L566.30,225.07 L566.60,225.07 L566.90,225.08 L567.20,225.08 L567.50,225.08 L567.80,225.08 L568.10,225.08 L568.40,225.08 L568.70,225.08 L569.00,225.08 L569.30,225.08 L569.60,225.08 L569.90,225.09 L570.20,225.09 L570.50,225.09 L570.80,225.09 L571.10,225.09 L571.40,225.09 L571.70,225.09 L572.00,225.09 L572.30,225.09 L572.60,225.10 L572.90,225.10 L573.20,225.10 L573.50,225.10 L573.80,225.10 L574.10,225.10 L574.40,225.10 L574.70,225.10 L575.00,225.10 L575.30,225.11 L575.60,225.11 L575.90,225.11 L576.20,225.11 L576.50,225.11 L576.80,225.11 L577.10,225.11 L577.40,225.11 L577.70,225.11 L578.00,225.11 L578.30,225.12 L578.60,225.12 L578.90,225.12 L579.20,225.12 L579.50,225.12 L579.80,225.12 L580.10,225.12 L580.40,225.12 L580.70,225.12 L581.00,225.13 L581.30,225.13 L581.60,225.13 L581.90,225.13 L582.20,225.13 L582.50,225.13 L582.80,225.13 L583.10,225.13 L583.40,225.13 L583.70,225.13 L584.00,225.14 L584.30,225.14 L584.60,225.14 L584.90,225.14 L585.20,225.14 L585.50,225.14 L585.80,225.14 L586.10,225.14 L586.40,225.14 L586.70,225.14 L587.00,225.15 L587.30,225.15 L587.60,225.15 L587.90,225.15 L588.20,225.15 L588.50,225.15 L588.80,225.15 L589.10,225.15 L589.40,225.15 L589.70,225.15 L590.00,225.14 L590.30,225.14 L590.60,225.13 L590.90,225.12 L591.20,225.11 L591.50,225.09 L591.80,225.07 L592.10,225.04 L592.40,225.01 L592.70,224.97 L593.00,224.93 L593.30,224.87 L593.60,224.82 L593.90,224.75 L594.20,224.69 L594.50,224.63 L594.80,224.56 L595.10,224.51 L595.40,224.46 L595.70,224.42 L596.00,224.39 L596.30,224.38 L596.60,224.38 L596.90,224.40 L597.20,224.43 L597.50,224.48 L597.80,224.53 L598.10,224.59 L598.40,224.66 L598.70,224.72 L599.00,224.79 L599.30,224.85 L599.60,224.91 L599.90,224.96 L600.20,225.01 L600.50,225.05 L600.80,225.08 L601.10,225.11 L601.40,225.13 L601.70,225.15 L602.00,225.16 L602.30,225.18 L602.60,225.18 L602.90,225.19 L603.20,225.19 L603.50,225.20 L603.80,225.20 L604.10,225.20 L604.40,225.20 L604.70,225.21 L605.00,225.21 L605.30,225.21 L605.60,225.21 L605.90,225.21 L606.20,225.21 L606.50,225.21 L606.80,225.21 L607.10,225.21 L607.40,225.22 L607.70,225.22 L608.00,225.22 L608.30,225.22 L608.60,225.22 L608.90,225.22 L609.20,225.22 L609.50,225.22 L609.80,225.22 L610.10,225.22 L610.40,225.23 L610.70,225.23 L611.00,225.23 L611.30,225.23 L611.60,225.23 L611.90,225.23 L612.20,225.23 L612.50,225.23 L612.80,225.23 L613.10,225.23 L613.40,225.23 L613.70,225.23 L614.00,225.23 L614.30,225.23 L614.60,225.24 L614.90,225.24 L615.20,225.24 L615.50,225.24 L615.80,225.24 L616.10,225.24 L616.40,225.24 L616.70,225.24 L617.00,225.23 L617.30,225.23 L617.60,225.23 L617.90,225.22 L618.20,225.21 L618.50,225.20 L618.80,225.18 L619.10,225.15 L619.40,225.11 L619.70,225.04 L620.00,224.96 L620.30,224.84 L620.60,224.68 L620.90,224.47 L621.20,224.21 L621.50,223.88 L621.80,223.49 L622.10,223.03 L622.40,222.50 L622.70,221.91 L623.00,221.27 L623.30,220.61 L623.60,219.94 L623.90,219.30 L624.20,218.71 L624.50,218.21 L624.80,217.82 L625.10,217.58 L625.40,217.49 L625.70,217.55 L626.00,217.78 L626.30,218.15 L626.60,218.63 L626.90,219.21 L627.20,219.85 L627.50,220.51 L627.80,221.18 L628.10,221.83 L628.40,222.43 L628.70,222.97 L629.00,223.45 L629.30,223.85 L629.60,224.19 L629.90,224.47 L630.20,224.68 L630.50,224.85 L630.80,224.98 L631.10,225.07 L631.40,225.14 L631.70,225.19 L632.00,225.22 L632.30,225.25 L632.60,225.26 L632.90,225.28 L633.20,225.28 L633.50,225.29 L633.80,225.29 L634.10,225.30 L634.40,225.30 L634.70,225.30 L635.00,225.30 L635.30,225.31 L635.60,225.31 L635.90,225.31 L636.20,225.31 L636.50,225.31 L636.80,225.31 L637.10,225.32 L637.40,225.32 L637.70,225.32 L638.00,225.32 L638.30,225.32 L638.60,225.32 L638.90,225.32 L639.20,225.33 L639.50,225.33 L639.80,225.33 L640.10,225.33 L640.40,225.33 L640.70,225.33 L641.00,225.33 L641.30,225.33 L641.60,225.32 L641.90,225.32 L642.20,225.31 L642.50,225.31 L642.80,225.29 L643.10,225.28 L643.40,225.25 L643.70,225.22 L644.00,225.19 L644.30,225.14 L644.60,225.09 L644.90,225.03 L645.20,224.95 L645.50,224.87 L645.80,224.78 L646.10,224.68 L646.40,224.58 L646.70,224.48 L647.00,224.39 L647.30,224.29 L647.60,224.21 L647.90,224.15 L648.20,224.10 L648.50,224.07 L648.80,224.07 L649.10,224.09 L649.40,224.12 L649.70,224.18 L650.00,224.26 L650.30,224.34 L650.60,224.44 L650.90,224.54 L651.20,224.65 L651.50,224.75 L651.80,224.84 L652.10,224.93 L652.40,225.01 L652.70,225.08 L653.00,225.15 L653.30,225.20 L653.60,225.24 L653.90,225.28 L654.20,225.31 L654.50,225.33 L654.80,225.35 L655.10,225.36 L655.40,225.37 L655.70,225.38 L656.00,225.38 L656.30,225.39 L656.60,225.39 L656.90,225.39 L657.20,225.39 L657.50,225.40 L657.80,225.40 L658.10,225.40 L658.40,225.40 L658.70,225.40 L659.00,225.40 L659.30,225.40 L659.60,225.41 L659.90,225.41 L660.20,225.41 L660.50,225.41 L660.80,225.41 L661.10,225.41 L661.40,225.41 L661.70,225.41 L662.00,225.42 L662.30,225.42 L662.60,225.42 L662.90,225.42 L663.20,225.42 L663.50,225.42 L663.80,225.42 L664.10,225.42 L664.40,225.42 L664.70,225.43 L665.00,225.43 L665.30,225.43 L665.60,225.43 L665.90,225.43 L666.20,225.43 L666.50,225.43 L666.80,225.43 L667.10,225.43 L667.40,225.44 L667.70,225.44 L668.00,225.44 L668.30,225.44 L668.60,225.44 L668.90,225.44 L669.20,225.44 L669.50,225.44 L669.80,225.44 L670.10,225.45 L670.40,225.45 L670.70,225.45 L671.00,225.45 L671.30,225.45 L671.60,225.45 L671.90,225.45 L672.20,225.45 L672.50,225.45 L672.80,225.46 L673.10,225.46 L673.40,225.46 L673.70,225.46 L674.00,225.46 L674.30,225.46 L674.60,225.46 L674.90,225.46 L675.20,225.46 L675.50,225.47 L675.80,225.47 L676.10,225.47 L676.40,225.47 L676.70,225.47 L677.00,225.47 L677.30,225.47 L677.60,225.47 L677.90,225.47 L678.20,225.48 L678.50,225.48 L678.80,225.48 L679.10,225.48 L679.40,225.48 L679.70,225.48 L680.00,225.48 L680.30,225.48 L680.60,225.48 L680.90,225.49 L681.20,225.49 L681.50,225.49 L681.80,225.49 L682.10,225.49 L682.40,225.49 L682.70,225.49 L683.00,225.49 L683.30,225.49 L683.60,225.50 L683.90,225.50 L684.20,225.50 L684.50,225.50" fill="none" stroke="#00ffff" stroke-width="1.1" stroke-linejoin="round" />
<path d="M406.70,194.31 L407.00,194.30 L407.30,194.30 L407.60,194.29 L407.90,194.28 L408.20,194.26 L408.50,194.24 L408.80,194.20 L409.10,194.13 L409.40,194.00 L409.70,193.79 L410.00,193.43 L410.30,192.83 L410.60,191.92 L410.90,190.56 L411.20,188.68 L411.50,186.23 L411.80,183.24 L412.10,179.86 L412.40,176.35 L412.70,173.10 L413.00,170.51 L413.30,168.96 L413.60,168.69 L413.90,169.74 L414.20,171.94 L414.50,174.96 L414.80,178.37 L415.10,181.79 L415.40,184.90 L415.70,187.50 L416.00,189.53 L416.30,191.01 L416.60,192.02 L416.90,192.67 L417.20,193.06 L417.50,193.29 L417.80,193.41 L418.10,193.48 L418.40,193.51 L418.70,193.53 L419.00,193.54 L419.30,193.54 L419.60,193.54 L419.90,193.53 L420.20,193.51 L420.50,193.48 L420.80,193.43 L421.10,193.36 L421.40,193.26 L421.70,193.12 L422.00,192.96 L422.30,192.75 L422.60,192.53 L422.90,192.29 L423.20,192.06 L423.50,191.85 L423.80,191.69 L424.10,191.60 L424.40,191.59 L424.70,191.66 L425.00,191.80 L425.30,191.99 L425.60,192.22 L425.90,192.46 L426.20,192.69 L426.50,192.90 L426.80,193.07 L427.10,193.21 L427.40,193.31 L427.70,193.38 L428.00,193.43 L428.30,193.44 L428.60,193.44 L428.90,193.42 L429.20,193.38 L429.50,193.34 L429.80,193.28 L430.10,193.21 L430.40,193.13 L430.70,193.03 L431.00,192.93 L431.30,192.81 L431.60,192.68 L431.90,192.52 L432.20,192.34 L432.50,192.11 L432.80,191.81 L433.10,191.44 L433.40,190.94 L433.70,190.31 L434.00,189.53 L434.30,188.57 L434.60,187.46 L434.90,186.23 L435.20,184.94 L435.50,183.67 L435.80,182.53 L436.10,181.62 L436.40,181.04 L436.70,180.86 L437.00,181.09 L437.30,181.74 L437.60,182.73 L437.90,183.97 L438.20,185.35 L438.50,186.77 L438.80,188.14 L439.10,189.37 L439.40,190.44 L439.70,191.31 L440.00,191.99 L440.30,192.51 L440.60,192.88 L440.90,193.14 L441.20,193.31 L441.50,193.42 L441.80,193.49 L442.10,193.53 L442.40,193.56 L442.70,193.57 L443.00,193.58 L443.30,193.59 L443.60,193.59 L443.90,193.60 L444.20,193.60 L444.50,193.60 L444.80,193.60 L445.10,193.61 L445.40,193.61 L445.70,193.61 L446.00,193.61 L446.30,193.61 L446.60,193.61 L446.90,193.61 L447.20,193.61 L447.50,193.62 L447.80,193.62 L448.10,193.62 L448.40,193.62 L448.70,193.62 L449.00,193.62 L449.30,193.62 L449.60,193.62 L449.90,193.62 L450.20,193.62 L450.50,193.62 L450.80,193.62 L451.10,193.62 L451.40,193.62 L451.70,193.62 L452.00,193.62 L452.30,193.63 L452.60,193.63 L452.90,193.63 L453.20,193.63 L453.50,193.63 L453.80,193.63 L454.10,193.63 L454.40,193.63 L454.70,193.63 L455.00,193.63 L455.30,193.63 L455.60,193.63 L455.90,193.63 L456.20,193.63 L456.50,193.63 L456.80,193.63 L457.10,193.63 L457.40,193.63 L457.70,193.63 L458.00,193.63 L458.30,193.63 L458.60,193.63 L458.90,193.63 L459.20,193.63 L459.50,193.63 L459.80,193.63 L460.10,193.63 L460.40,193.63 L460.70,193.64 L461.00,193.64 L461.30,193.64 L461.60,193.64 L461.90,193.64 L462.20,193.64 L462.50,193.64 L462.80,193.64 L463.10,193.64 L463.40,193.64 L463.70,193.64 L464.00,193.64 L464.30,193.64 L464.60,193.64 L464.90,193.64 L465.20,193.64 L465.50,193.64 L465.80,193.64 L466.10,193.64 L466.40,193.64 L466.70,193.64 L467.00,193.64 L467.30,193.64 L467.60,193.64 L467.90,193.64 L468.20,193.64 L468.50,193.64 L468.80,193.64 L469.10,193.64 L469.40,193.64 L469.70,193.64 L470.00,193.64 L470.30,193.64 L470.60,193.64 L470.90,193.64 L471.20,193.64 L471.50,193.64 L471.80,193.64 L472.10,193.65 L472.40,193.65 L472.70,193.65 L473.00,193.65 L473.30,193.65 L473.60,193.65 L473.90,193.65 L474.20,193.65 L474.50,193.65 L474.80,193.65 L475.10,193.65 L475.40,193.65 L475.70,193.65 L476.00,193.65 L476.30,193.65 L476.60,193.65 L476.90,193.65 L477.20,193.65 L477.50,193.65 L477.80,193.65 L478.10,193.65 L478.40,193.65 L478.70,193.65 L479.00,193.65 L479.30,193.65 L479.60,193.65 L479.90,193.65 L480.20,193.65 L480.50,193.65 L480.80,193.65 L481.10,193.65 L481.40,193.65 L481.70,193.65 L482.00,193.65 L482.30,193.65 L482.60,193.65 L482.90,193.65 L483.20,193.65 L483.50,193.65 L483.80,193.65 L484.10,193.65 L484.40,193.65 L484.70,193.66 L485.00,193.66 L485.30,193.66 L485.60,193.66 L485.90,193.66 L486.20,193.66 L486.50,193.66 L486.80,193.66 L487.10,193.66 L487.40,193.66 L487.70,193.66 L488.00,193.66 L488.30,193.66 L488.60,193.66 L488.90,193.66 L489.20,193.66 L489.50,193.66 L489.80,193.66 L490.10,193.66 L490.40,193.66 L490.70,193.66 L491.00,193.66 L491.30,193.66 L491.60,193.66 L491.90,193.66 L492.20,193.66 L492.50,193.66 L492.80,193.66 L493.10,193.66 L493.40,193.66 L493.70,193.66 L494.00,193.66 L494.30,193.66 L494.60,193.66 L494.90,193.66 L495.20,193.66 L495.50,193.66 L495.80,193.66 L496.10,193.66 L496.40,193.66 L496.70,193.66 L497.00,193.66 L497.30,193.66 L497.60,193.66 L497.90,193.66 L498.20,193.67 L498.50,193.67 L498.80,193.67 L499.10,193.67 L499.40,193.67 L499.70,193.67 L500.00,193.67 L500.30,193.67 L500.60,193.67 L500.90,193.67 L501.20,193.67 L501.50,193.67 L501.80,193.67 L502.10,193.67 L502.40,193.67 L502.70,193.67 L503.00,193.67 L503.30,193.67 L503.60,193.67 L503.90,193.67 L504.20,193.67 L504.50,193.67 L504.80,193.67 L505.10,193.67 L505.40,193.67 L505.70,193.67 L506.00,193.67 L506.30,193.67 L506.60,193.67 L506.90,193.67 L507.20,193.67 L507.50,193.67 L507.80,193.67 L508.10,193.67 L508.40,193.67 L508.70,193.67 L509.00,193.67 L509.30,193.67 L509.60,193.67 L509.90,193.67 L510.20,193.67 L510.50,193.67 L510.80,193.67 L511.10,193.67 L511.40,193.67 L511.70,193.68 L512.00,193.68 L512.30,193.68 L512.60,193.68 L512.90,193.68 L513.20,193.68 L513.50,193.68 L513.80,193.68 L514.10,193.68 L514.40,193.68 L514.70,193.68 L515.00,193.68 L515.30,193.68 L515.60,193.68 L515.90,193.68 L516.20,193.68 L516.50,193.68 L516.80,193.68 L517.10,193.68 L517.40,193.68 L517.70,193.68 L518.00,193.68 L518.30,193.68 L518.60,193.68 L518.90,193.68 L519.20,193.68 L519.50,193.68 L519.80,193.68 L520.10,193.68 L520.40,193.68 L520.70,193.68 L521.00,193.68 L521.30,193.68 L521.60,193.68 L521.90,193.68 L522.20,193.68 L522.50,193.68 L522.80,193.68 L523.10,193.68 L523.40,193.68 L523.70,193.68 L524.00,193.68 L524.30,193.68 L524.60,193.68 L524.90,193.68 L525.20,193.68 L525.50,193.69 L525.80,193.69 L526.10,193.69 L526.40,193.69 L526.70,193.69 L527.00,193.69 L527.30,193.69 L527.60,193.69 L527.90,193.69 L528.20,193.69 L528.50,193.69 L528.80,193.69 L529.10,193.69 L529.40,193.69 L529.70,193.69 L530.00,193.69 L530.30,193.69 L530.60,193.69 L530.90,193.69 L531.20,193.69 L531.50,193.69 L531.80,193.69 L532.10,193.69 L532.40,193.69 L532.70,193.69 L533.00,193.69 L533.30,193.69 L533.60,193.69 L533.90,193.69 L534.20,193.69 L534.50,193.69 L534.80,193.69 L535.10,193.69 L535.40,193.69 L535.70,193.69 L536.00,193.69 L536.30,193.69 L536.60,193.69 L536.90,193.69 L537.20,193.69 L537.50,193.69 L537.80,193.69 L538.10,193.69 L538.40,193.69 L538.70,193.69 L539.00,193.69 L539.30,193.70 L539.60,193.70 L539.90,193.70 L540.20,193.70 L540.50,193.70 L540.80,193.70 L541.10,193.70 L541.40,193.70 L541.70,193.70 L542.00,193.70 L542.30,193.70 L542.60,193.70 L542.90,193.70 L543.20,193.70 L543.50,193.70 L543.80,193.70 L544.10,193.70 L544.40,193.70 L544.70,193.70 L545.00,193.70 L545.30,193.70 L545.60,193.70 L545.90,193.70 L546.20,193.70 L546.50,193.70 L546.80,193.70 L547.10,193.70 L547.40,193.70 L547.70,193.70 L548.00,193.70 L548.30,193.70 L548.60,193.70 L548.90,193.70 L549.20,193.70 L549.50,193.70 L549.80,193.70 L550.10,193.70 L550.40,193.70 L550.70,193.70 L551.00,193.70 L551.30,193.70 L551.60,193.70 L551.90,193.70 L552.20,193.70 L552.50,193.70 L552.80,193.70 L553.10,193.70 L553.40,193.71 L553.70,193.71 L554.00,193.71 L554.30,193.71 L554.60,193.71 L554.90,193.71 L555.20,193.71 L555.50,193.71 L555.80,193.71 L556.10,193.71 L556.40,193.71 L556.70,193.71 L557.00,193.71 L557.30,193.71 L557.60,193.71 L557.90,193.71 L558.20,193.71 L558.50,193.71 L558.80,193.71 L559.10,193.71 L559.40,193.71 L559.70,193.71 L560.00,193.71 L560.30,193.71 L560.60,193.71 L560.90,193.71 L561.20,193.71 L561.50,193.71 L561.80,193.71 L562.10,193.71 L562.40,193.71 L562.70,193.71 L563.00,193.71 L563.30,193.71 L563.60,193.71 L563.90,193.71 L564.20,193.71 L564.50,193.71 L564.80,193.71 L565.10,193.71 L565.40,193.71 L565.70,193.71 L566.00,193.71 L566.30,193.71 L566.60,193.71 L566.90,193.71 L567.20,193.72 L567.50,193.72 L567.80,193.72 L568.10,193.72 L568.40,193.72 L568.70,193.72 L569.00,193.72 L569.30,193.72 L569.60,193.72 L569.90,193.72 L570.20,193.72 L570.50,193.72 L570.80,193.72 L571.10,193.72 L571.40,193.72 L571.70,193.72 L572.00,193.72 L572.30,193.72 L572.60,193.72 L572.90,193.72 L573.20,193.72 L573.50,193.72 L573.80,193.72 L574.10,193.72 L574.40,193.72 L574.70,193.72 L575.00,193.72 L575.30,193.72 L575.60,193.72 L575.90,193.72 L576.20,193.72 L576.50,193.72 L576.80,193.72 L577.10,193.72 L577.40,193.72 L577.70,193.72 L578.00,193.72 L578.30,193.72 L578.60,193.72 L578.90,193.72 L579.20,193.72 L579.50,193.72 L579.80,193.72 L580.10,193.72 L580.40,193.72 L580.70,193.72 L581.00,193.72 L581.30,193.73 L581.60,193.73 L581.90,193.73 L582.20,193.73 L582.50,193.73 L582.80,193.73 L583.10,193.73 L583.40,193.73 L583.70,193.73 L584.00,193.73 L584.30,193.73 L584.60,193.73 L584.90,193.73 L585.20,193.73 L585.50,193.73 L585.80,193.73 L586.10,193.73 L586.40,193.73 L586.70,193.73 L587.00,193.73 L587.30,193.73 L587.60,193.73 L587.90,193.73 L588.20,193.73 L588.50,193.73 L588.80,193.73 L589.10,193.73 L589.40,193.73 L589.70,193.73 L590.00,193.73 L590.30,193.73 L590.60,193.73 L590.90,193.73 L591.20,193.73 L591.50,193.73 L591.80,193.73 L592.10,193.73 L592.40,193.73 L592.70,193.73 L593.00,193.73 L593.30,193.73 L593.60,193.73 L593.90,193.73 L594.20,193.73 L594.50,193.73 L594.80,193.73 L595.10,193.73 L595.40,193.73 L595.70,193.74 L596.00,193.74 L596.30,193.74 L596.60,193.74 L596.90,193.74 L597.20,193.74 L597.50,193.74 L597.80,193.74 L598.10,193.74 L598.40,193.74 L598.70,193.74 L599.00,193.74 L599.30,193.74 L599.60,193.74 L599.90,193.74 L600.20,193.74 L600.50,193.74 L600.80,193.74 L601.10,193.74 L601.40,193.74 L601.70,193.74 L602.00,193.74 L602.30,193.74 L602.60,193.74 L602.90,193.74 L603.20,193.74 L603.50,193.74 L603.80,193.74 L604.10,193.74 L604.40,193.74 L604.70,193.74 L605.00,193.74 L605.30,193.74 L605.60,193.74 L605.90,193.74 L606.20,193.74 L606.50,193.74 L606.80,193.74 L607.10,193.74 L607.40,193.74 L607.70,193.74 L608.00,193.74 L608.30,193.74 L608.60,193.74 L608.90,193.74 L609.20,193.74 L609.50,193.74 L609.80,193.74 L610.10,193.74 L610.40,193.74 L610.70,193.74 L611.00,193.74 L611.30,193.74 L611.60,193.74 L611.90,193.74 L612.20,193.74 L612.50,193.74 L612.80,193.74 L613.10,193.74 L613.40,193.74 L613.70,193.74 L614.00,193.74 L614.30,193.74 L614.60,193.74 L614.90,193.74 L615.20,193.74 L615.50,193.74 L615.80,193.74 L616.10,193.74 L616.40,193.74 L616.70,193.74 L617.00,193.74 L617.30,193.74 L617.60,193.74 L617.90,193.74 L618.20,193.73 L618.50,193.73 L618.80,193.72 L619.10,193.71 L619.40,193.69 L619.70,193.66 L620.00,193.63 L620.30,193.58 L620.60,193.51 L620.90,193.43 L621.20,193.32 L621.50,193.19 L621.80,193.02 L622.10,192.83 L622.40,192.62 L622.70,192.37 L623.00,192.11 L623.30,191.84 L623.60,191.56 L623.90,191.30 L624.20,191.06 L624.50,190.85 L624.80,190.70 L625.10,190.60 L625.40,190.56 L625.70,190.59 L626.00,190.68 L626.30,190.83 L626.60,191.03 L626.90,191.26 L627.20,191.52 L627.50,191.80 L627.80,192.07 L628.10,192.34 L628.40,192.58 L628.70,192.81 L629.00,193.00 L629.30,193.17 L629.60,193.31 L629.90,193.42 L630.20,193.51 L630.50,193.57 L630.80,193.63 L631.10,193.67 L631.40,193.69 L631.70,193.71 L632.00,193.73 L632.30,193.74 L632.60,193.74 L632.90,193.75 L633.20,193.75 L633.50,193.75 L633.80,193.75 L634.10,193.76 L634.40,193.76 L634.70,193.76 L635.00,193.76 L635.30,193.76 L635.60,193.76 L635.90,193.76 L636.20,193.76 L636.50,193.76 L636.80,193.76 L637.10,193.76 L637.40,193.76 L637.70,193.76 L638.00,193.76 L638.30,193.76 L638.60,193.76 L638.90,193.76 L639.20,193.76 L639.50,193.76 L639.80,193.76 L640.10,193.76 L640.40,193.76 L640.70,193.76 L641.00,193.76 L641.30,193.76 L641.60,193.76 L641.90,193.76 L642.20,193.76 L642.50,193.76 L642.80,193.75 L643.10,193.75 L643.40,193.74 L643.70,193.73 L644.00,193.72 L644.30,193.71 L644.60,193.69 L644.90,193.67 L645.20,193.65 L645.50,193.62 L645.80,193.59 L646.10,193.56 L646.40,193.53 L646.70,193.50 L647.00,193.47 L647.30,193.44 L647.60,193.42 L647.90,193.40 L648.20,193.38 L648.50,193.37 L648.80,193.37 L649.10,193.38 L649.40,193.39 L649.70,193.41 L650.00,193.43 L650.30,193.46 L650.60,193.49 L650.90,193.52 L651.20,193.55 L651.50,193.58 L651.80,193.61 L652.10,193.64 L652.40,193.66 L652.70,193.68 L653.00,193.70 L653.30,193.72 L653.60,193.73 L653.90,193.74 L654.20,193.75 L654.50,193.76 L654.80,193.76 L655.10,193.77 L655.40,193.77 L655.70,193.77 L656.00,193.77 L656.30,193.78 L656.60,193.78 L656.90,193.78 L657.20,193.78 L657.50,193.78 L657.80,193.78 L658.10,193.78 L658.40,193.78 L658.70,193.78 L659.00,193.78 L659.30,193.78 L659.60,193.78 L659.90,193.78 L660.20,193.78 L660.50,193.78 L660.80,193.78 L661.10,193.78 L661.40,193.78 L661.70,193.78 L662.00,193.78 L662.30,193.78 L662.60,193.78 L662.90,193.78 L663.20,193.78 L663.50,193.78 L663.80,193.78 L664.10,193.78 L664.40,193.78 L664.70,193.78 L665.00,193.79 L665.30,193.79 L665.60,193.79 L665.90,193.79 L666.20,193.79 L666.50,193.79 L666.80,193.79 L667.10,193.79 L667.40,193.79 L667.70,193.79 L668.00,193.79 L668.30,193.79 L668.60,193.79 L668.90,193.79 L669.20,193.79 L669.50,193.79 L669.80,193.79 L670.10,193.79 L670.40,193.79 L670.70,193.79 L671.00,193.79 L671.30,193.79 L671.60,193.79 L671.90,193.79 L672.20,193.79 L672.50,193.79 L672.80,193.79 L673.10,193.79 L673.40,193.79 L673.70,193.79 L674.00,193.79 L674.30,193.79 L674.60,193.79 L674.90,193.79 L675.20,193.79 L675.50,193.79 L675.80,193.79 L676.10,193.79 L676.40,193.79 L676.70,193.79 L677.00,193.79 L677.30,193.79 L677.60,193.79 L677.90,193.79 L678.20,193.79 L678.50,193.80 L678.80,193.80 L679.10,193.80 L679.40,193.80 L679.70,193.80 L680.00,193.80 L680.30,193.80 L680.60,193.80 L680.90,193.80 L681.20,193.80 L681.50,193.80 L681.80,193.80 L682.10,193.80 L682.40,193.80 L682.70,193.80 L683.00,193.80 L683.30,193.80 L683.60,193.80 L683.90,193.80 L684.20,193.80 L684.50,193.80" fill="none" stroke="#ff00ff" stroke-width="1.1" stroke-linejoin="round" />
<path d="M406.70,162.20 L407.00,162.19 L407.30,162.19 L407.60,162.18 L407.90,162.17 L408.20,162.15 L408.50,162.12 L408.80,162.08 L409.10,162.01 L409.40,161.89 L409.70,161.67 L410.00,161.31 L410.30,160.71 L410.60,159.80 L410.90,158.44 L411.20,156.56 L411.50,154.10 L411.80,151.11 L412.10,147.72 L412.40,144.22 L412.70,140.96 L413.00,138.36 L413.30,136.79 L413.60,136.49 L413.90,137.48 L414.20,139.58 L414.50,142.41 L414.80,145.53 L415.10,148.49 L415.40,150.93 L415.70,152.60 L416.00,153.41 L416.30,153.40 L416.60,152.72 L416.90,151.59 L417.20,150.30 L417.50,149.12 L417.80,148.32 L418.10,148.06 L418.40,148.43 L418.70,149.39 L419.00,150.80 L419.30,152.49 L419.60,154.25 L419.90,155.91 L420.20,157.35 L420.50,158.48 L420.80,159.29 L421.10,159.78 L421.40,159.99 L421.70,159.95 L422.00,159.72 L422.30,159.34 L422.60,158.85 L422.90,158.30 L423.20,157.76 L423.50,157.27 L423.80,156.90 L424.10,156.69 L424.40,156.66 L424.70,156.83 L425.00,157.16 L425.30,157.62 L425.60,158.17 L425.90,158.74 L426.20,159.30 L426.50,159.81 L426.80,160.23 L427.10,160.58 L427.40,160.83 L427.70,161.01 L428.00,161.12 L428.30,161.18 L428.60,161.20 L428.90,161.19 L429.20,161.14 L429.50,161.08 L429.80,160.99 L430.10,160.89 L430.40,160.77 L430.70,160.63 L431.00,160.48 L431.30,160.30 L431.60,160.10 L431.90,159.88 L432.20,159.60 L432.50,159.26 L432.80,158.83 L433.10,158.26 L433.40,157.54 L433.70,156.60 L434.00,155.43 L434.30,154.01 L434.60,152.36 L434.90,150.54 L435.20,148.62 L435.50,146.74 L435.80,145.05 L436.10,143.70 L436.40,142.84 L436.70,142.56 L437.00,142.91 L437.30,143.87 L437.60,145.34 L437.90,147.18 L438.20,149.23 L438.50,151.34 L438.80,153.37 L439.10,155.20 L439.40,156.78 L439.70,158.08 L440.00,159.09 L440.30,159.86 L440.60,160.41 L440.90,160.79 L441.20,161.04 L441.50,161.21 L441.80,161.31 L442.10,161.37 L442.40,161.41 L442.70,161.44 L443.00,161.45 L443.30,161.46 L443.60,161.46 L443.90,161.47 L444.20,161.47 L444.50,161.48 L444.80,161.48 L445.10,161.48 L445.40,161.48 L445.70,161.48 L446.00,161.49 L446.30,161.49 L446.60,161.49 L446.90,161.49 L447.20,161.49 L447.50,161.49 L447.80,161.49 L448.10,161.49 L448.40,161.50 L448.70,161.50 L449.00,161.50 L449.30,161.50 L449.60,161.50 L449.90,161.50 L450.20,161.50 L450.50,161.50 L450.80,161.50 L451.10,161.50 L451.40,161.50 L451.70,161.50 L452.00,161.50 L452.30,161.50 L452.60,161.51 L452.90,161.51 L453.20,161.51 L453.50,161.51 L453.80,161.51 L454.10,161.51 L454.40,161.51 L454.70,161.51 L455.00,161.51 L455.30,161.51 L455.60,161.51 L455.90,161.51 L456.20,161.51 L456.50,161.51 L456.80,161.51 L457.10,161.51 L457.40,161.51 L457.70,161.51 L458.00,161.51 L458.30,161.51 L458.60,161.51 L458.90,161.51 L459.20,161.51 L459.50,161.51 L459.80,161.51 L460.10,161.51 L460.40,161.51 L460.70,161.51 L461.00,161.51 L461.30,161.51 L461.60,161.51 L461.90,161.51 L462.20,161.51 L462.50,161.52 L462.80,161.52 L463.10,161.52 L463.40,161.52 L463.70,161.52 L464.00,161.52 L464.30,161.52 L464.60,161.52 L464.90,161.52 L465.20,161.52 L465.50,161.52 L465.80,161.52 L466.10,161.52 L466.40,161.52 L466.70,161.52 L467.00,161.52 L467.30,161.52 L467.60,161.52 L467.90,161.52 L468.20,161.52 L468.50,161.52 L468.80,161.52 L469.10,161.52 L469.40,161.52 L469.70,161.52 L470.00,161.52 L470.30,161.52 L470.60,161.52 L470.90,161.52 L471.20,161.52 L471.50,161.52 L471.80,161.52 L472.10,161.52 L472.40,161.52 L472.70,161.52 L473.00,161.52 L473.30,161.52 L473.60,161.52 L473.90,161.52 L474.20,161.52 L474.50,161.52 L474.80,161.52 L475.10,161.52 L475.40,161.52 L475.70,161.52 L476.00,161.52 L476.30,161.52 L476.60,161.52 L476.90,161.52 L477.20,161.52 L477.50,161.52 L477.80,161.52 L478.10,161.52 L478.40,161.52 L478.70,161.52 L479.00,161.52 L479.30,161.52 L479.60,161.52 L479.90,161.52 L480.20,161.52 L480.50,161.52 L480.80,161.52 L481.10,161.52 L481.40,161.52 L481.70,161.53 L482.00,161.53 L482.30,161.53 L482.60,161.53 L482.90,161.53 L483.20,161.53 L483.50,161.53 L483.80,161.53 L484.10,161.53 L484.40,161.53 L484.70,161.53 L485.00,161.53 L485.30,161.53 L485.60,161.53 L485.90,161.53 L486.20,161.53 L486.50,161.53 L486.80,161.53 L487.10,161.53 L487.40,161.53 L487.70,161.53 L488.00,161.53 L488.30,161.53 L488.60,161.53 L488.90,161.53 L489.20,161.53 L489.50,161.53 L489.80,161.53 L490.10,161.53 L490.40,161.53 L490.70,161.53 L491.00,161.53 L491.30,161.53 L491.60,161.53 L491.90,161.53 L492.20,161.53 L492.50,161.53 L492.80,161.53 L493.10,161.53 L493.40,161.53 L493.70,161.53 L494.00,161.53 L494.30,161.53 L494.60,161.53 L494.90,161.53 L495.20,161.53 L495.50,161.53 L495.80,161.53 L496.10,161.53 L496.40,161.53 L496.70,161.53 L497.00,161.53 L497.30,161.53 L497.60,161.53 L497.90,161.53 L498.20,161.53 L498.50,161.53 L498.80,161.53 L499.10,161.53 L499.40,161.53 L499.70,161.53 L500.00,161.53 L500.30,161.53 L500.60,161.53 L500.90,161.53 L501.20,161.53 L501.50,161.53 L501.80,161.53 L502.10,161.53 L502.40,161.53 L502.70,161.53 L503.00,161.53 L503.30,161.53 L503.60,161.53 L503.90,161.53 L504.20,161.53 L504.50,161.53 L504.80,161.53 L505.10,161.53 L505.40,161.53 L505.70,161.53 L506.00,161.53 L506.30,161.53 L506.60,161.54 L506.90,161.54 L507.20,161.54 L507.50,161.54 L507.80,161.54 L508.10,161.54 L508.40,161.54 L508.70,161.54 L509.00,161.54 L509.30,161.54 L509.60,161.54 L509.90,161.54 L510.20,161.54 L510.50,161.54 L510.80,161.54 L511.10,161.54 L511.40,161.54 L511.70,161.54 L512.00,161.54 L512.30,161.54 L512.60,161.54 L512.90,161.54 L513.20,161.54 L513.50,161.54 L513.80,161.54 L514.10,161.54 L514.40,161.54 L514.70,161.54 L515.00,161.54 L515.30,161.54 L515.60,161.54 L515.90,161.54 L516.20,161.54 L516.50,161.54 L516.80,161.54 L517.10,161.54 L517.40,161.54 L517.70,161.54 L518.00,161.54 L518.30,161.54 L518.60,161.54 L518.90,161.54 L519.20,161.54 L519.50,161.54 L519.80,161.54 L520.10,161.54 L520.40,161.54 L520.70,161.54 L521.00,161.54 L521.30,161.54 L521.60,161.54 L521.90,161.54 L522.20,161.54 L522.50,161.54 L522.80,161.54 L523.10,161.54 L523.40,161.54 L523.70,161.54 L524.00,161.54 L524.30,161.54 L524.60,161.54 L524.90,161.54 L525.20,161.54 L525.50,161.54 L525.80,161.54 L526.10,161.54 L526.40,161.54 L526.70,161.54 L527.00,161.54 L527.30,161.54 L527.60,161.54 L527.90,161.54 L528.20,161.54 L528.50,161.54 L528.80,161.54 L529.10,161.54 L529.40,161.54 L529.70,161.54 L530.00,161.54 L530.30,161.54 L530.60,161.54 L530.90,161.54 L531.20,161.54 L531.50,161.54 L531.80,161.54 L532.10,161.54 L532.40,161.54 L532.70,161.54 L533.00,161.54 L533.30,161.54 L533.60,161.55 L533.90,161.55 L534.20,161.55 L534.50,161.55 L534.80,161.55 L535.10,161.55 L535.40,161.55 L535.70,161.55 L536.00,161.55 L536.30,161.55 L536.60,161.55 L536.90,161.55 L537.20,161.55 L537.50,161.55 L537.80,161.55 L538.10,161.55 L538.40,161.55 L538.70,161.55 L539.00,161.55 L539.30,161.55 L539.60,161.55 L539.90,161.55 L540.20,161.55 L540.50,161.55 L540.80,161.55 L541.10,161.55 L541.40,161.55 L541.70,161.55 L542.00,161.55 L542.30,161.55 L542.60,161.55 L542.90,161.55 L543.20,161.55 L543.50,161.55 L543.80,161.55 L544.10,161.55 L544.40,161.55 L544.70,161.55 L545.00,161.55 L545.30,161.55 L545.60,161.55 L545.90,161.55 L546.20,161.55 L546.50,161.55 L546.80,161.55 L547.10,161.55 L547.40,161.55 L547.70,161.55 L548.00,161.55 L548.30,161.55 L548.60,161.55 L548.90,161.55 L549.20,161.55 L549.50,161.55 L549.80,161.55 L550.10,161.55 L550.40,161.55 L550.70,161.55 L551.00,161.55 L551.30,161.55 L551.60,161.55 L551.90,161.55 L552.20,161.55 L552.50,161.55 L552.80,161.55 L553.10,161.55 L553.40,161.55 L553.70,161.55 L554.00,161.55 L554.30,161.55 L554.60,161.55 L554.90,161.55 L555.20,161.55 L555.50,161.55 L555.80,161.55 L556.10,161.55 L556.40,161.55 L556.70,161.55 L557.00,161.55 L557.30,161.55 L557.60,161.55 L557.90,161.55 L558.20,161.55 L558.50,161.55 L558.80,161.55 L559.10,161.55 L559.40,161.55 L559.70,161.55 L560.00,161.55 L560.30,161.55 L560.60,161.55 L560.90,161.55 L561.20,161.56 L561.50,161.56 L561.80,161.56 L562.10,161.56 L562.40,161.56 L562.70,161.56 L563.00,161.56 L563.30,161.56 L563.60,161.56 L563.90,161.56 L564.20,161.56 L564.50,161.56 L564.80,161.56 L565.10,161.56 L565.40,161.56 L565.70,161.56 L566.00,161.56 L566.30,161.56 L566.60,161.56 L566.90,161.56 L567.20,161.56 L567.50,161.56 L567.80,161.56 L568.10,161.56 L568.40,161.56 L568.70,161.56 L569.00,161.56 L569.30,161.56 L569.60,161.56 L569.90,161.56 L570.20,161.56 L570.50,161.56 L570.80,161.56 L571.10,161.56 L571.40,161.56 L571.70,161.56 L572.00,161.56 L572.30,161.56 L572.60,161.56 L572.90,161.56 L573.20,161.56 L573.50,161.56 L573.80,161.56 L574.10,161.56 L574.40,161.56 L574.70,161.56 L575.00,161.56 L575.30,161.56 L575.60,161.56 L575.90,161.56 L576.20,161.56 L576.50,161.56 L576.80,161.56 L577.10,161.56 L577.40,161.56 L577.70,161.56 L578.00,161.56 L578.30,161.56 L578.60,161.56 L578.90,161.56 L579.20,161.56 L579.50,161.56 L579.80,161.56 L580.10,161.56 L580.40,161.56 L580.70,161.56 L581.00,161.56 L581.30,161.56 L581.60,161.56 L581.90,161.56 L582.20,161.56 L582.50,161.56 L582.80,161.56 L583.10,161.56 L583.40,161.56 L583.70,161.56 L584.00,161.56 L584.30,161.56 L584.60,161.56 L584.90,161.56 L585.20,161.56 L585.50,161.56 L585.80,161.56 L586.10,161.56 L586.40,161.56 L586.70,161.56 L587.00,161.56 L587.30,161.56 L587.60,161.56 L587.90,161.56 L588.20,161.56 L588.50,161.56 L588.80,161.56 L589.10,161.56 L589.40,161.56 L589.70,161.57 L590.00,161.57 L590.30,161.57 L590.60,161.57 L590.90,161.57 L591.20,161.57 L591.50,161.57 L591.80,161.57 L592.10,161.57 L592.40,161.57 L592.70,161.57 L593.00,161.57 L593.30,161.57 L593.60,161.57 L593.90,161.57 L594.20,161.57 L594.50,161.57 L594.80,161.57 L595.10,161.57 L595.40,161.57 L595.70,161.57 L596.00,161.57 L596.30,161.57 L596.60,161.57 L596.90,161.57 L597.20,161.57 L597.50,161.57 L597.80,161.57 L598.10,161.57 L598.40,161.57 L598.70,161.57 L599.00,161.57 L599.30,161.57 L599.60,161.57 L599.90,161.57 L600.20,161.57 L600.50,161.57 L600.80,161.57 L601.10,161.57 L601.40,161.57 L601.70,161.57 L602.00,161.57 L602.30,161.57 L602.60,161.57 L602.90,161.57 L603.20,161.57 L603.50,161.57 L603.80,161.57 L604.10,161.57 L604.40,161.57 L604.70,161.57 L605.00,161.57 L605.30,161.57 L605.60,161.57 L605.90,161.57 L606.20,161.57 L606.50,161.57 L606.80,161.57 L607.10,161.57 L607.40,161.57 L607.70,161.57 L608.00,161.57 L608.30,161.57 L608.60,161.57 L608.90,161.57 L609.20,161.57 L609.50,161.57 L609.80,161.57 L610.10,161.57 L610.40,161.57 L610.70,161.57 L611.00,161.57 L611.30,161.57 L611.60,161.57 L611.90,161.57 L612.20,161.57 L612.50,161.57 L612.80,161.57 L613.10,161.57 L613.40,161.57 L613.70,161.57 L614.00,161.57 L614.30,161.57 L614.60,161.57 L614.90,161.57 L615.20,161.57 L615.50,161.57 L615.80,161.57 L616.10,161.57 L616.40,161.57 L616.70,161.57 L617.00,161.57 L617.30,161.56 L617.60,161.56 L617.90,161.56 L618.20,161.56 L618.50,161.55 L618.80,161.54 L619.10,161.53 L619.40,161.51 L619.70,161.48 L620.00,161.44 L620.30,161.38 L620.60,161.31 L620.90,161.22 L621.20,161.10 L621.50,160.95 L621.80,160.78 L622.10,160.57 L622.40,160.33 L622.70,160.07 L623.00,159.78 L623.30,159.48 L623.60,159.18 L623.90,158.89 L624.20,158.63 L624.50,158.40 L624.80,158.23 L625.10,158.12 L625.40,158.08 L625.70,158.11 L626.00,158.21 L626.30,158.37 L626.60,158.59 L626.90,158.85 L627.20,159.14 L627.50,159.43 L627.80,159.73 L628.10,160.02 L628.40,160.29 L628.70,160.54 L629.00,160.75 L629.30,160.93 L629.60,161.08 L629.90,161.20 L630.20,161.30 L630.50,161.38 L630.80,161.43 L631.10,161.48 L631.40,161.51 L631.70,161.53 L632.00,161.54 L632.30,161.55 L632.60,161.56 L632.90,161.56 L633.20,161.57 L633.50,161.57 L633.80,161.57 L634.10,161.57 L634.40,161.57 L634.70,161.57 L635.00,161.57 L635.30,161.58 L635.60,161.58 L635.90,161.58 L636.20,161.58 L636.50,161.58 L636.80,161.58 L637.10,161.58 L637.40,161.58 L637.70,161.58 L638.00,161.58 L638.30,161.58 L638.60,161.58 L638.90,161.58 L639.20,161.58 L639.50,161.58 L639.80,161.58 L640.10,161.58 L640.40,161.58 L640.70,161.58 L641.00,161.58 L641.30,161.58 L641.60,161.58 L641.90,161.57 L642.20,161.57 L642.50,161.57 L642.80,161.56 L643.10,161.56 L643.40,161.55 L643.70,161.54 L644.00,161.52 L644.30,161.50 L644.60,161.48 L644.90,161.46 L645.20,161.43 L645.50,161.40 L645.80,161.36 L646.10,161.33 L646.40,161.29 L646.70,161.25 L647.00,161.21 L647.30,161.17 L647.60,161.14 L647.90,161.12 L648.20,161.10 L648.50,161.09 L648.80,161.09 L649.10,161.09 L649.40,161.11 L649.70,161.13 L650.00,161.16 L650.30,161.19 L650.60,161.23 L650.90,161.27 L651.20,161.31 L651.50,161.34 L651.80,161.38 L652.10,161.41 L652.40,161.45 L652.70,161.47 L653.00,161.50 L653.30,161.52 L653.60,161.53 L653.90,161.55 L654.20,161.56 L654.50,161.56 L654.80,161.57 L655.10,161.58 L655.40,161.58 L655.70,161.58 L656.00,161.58 L656.30,161.59 L656.60,161.59 L656.90,161.59 L657.20,161.59 L657.50,161.59 L657.80,161.59 L658.10,161.59 L658.40,161.59 L658.70,161.59 L659.00,161.59 L659.30,161.59 L659.60,161.59 L659.90,161.59 L660.20,161.59 L660.50,161.59 L660.80,161.59 L661.10,161.59 L661.40,161.59 L661.70,161.59 L662.00,161.59 L662.30,161.59 L662.60,161.59 L662.90,161.59 L663.20,161.59 L663.50,161.59 L663.80,161.59 L664.10,161.59 L664.40,161.59 L664.70,161.59 L665.00,161.59 L665.30,161.59 L665.60,161.59 L665.90,161.59 L666.20,161.59 L666.50,161.59 L666.80,161.59 L667.10,161.59 L667.40,161.59 L667.70,161.59 L668.00,161.59 L668.30,161.59 L668.60,161.59 L668.90,161.59 L669.20,161.59 L669.50,161.59 L669.80,161.59 L670.10,161.59 L670.40,161.59 L670.70,161.59 L671.00,161.59 L671.30,161.59 L671.60,161.59 L671.90,161.59 L672.20,161.59 L672.50,161.60 L672.80,161.60 L673.10,161.60 L673.40,161.60 L673.70,161.60 L674.00,161.60 L674.30,161.60 L674.60,161.60 L674.90,161.60 L675.20,161.60 L675.50,161.60 L675.80,161.60 L676.10,161.60 L676.40,161.60 L676.70,161.60 L677.00,161.60 L677.30,161.60 L677.60,161.60 L677.90,161.60 L678.20,161.60 L678.50,161.60 L678.80,161.60 L679.10,161.60 L679.40,161.60 L679.70,161.60 L680.00,161.60 L680.30,161.60 L680.60,161.60 L680.90,161.60 L681.20,161.60 L681.50,161.60 L681.80,161.60 L682.10,161.60 L682.40,161.60 L682.70,161.60 L683.00,161.60 L683.30,161.60 L683.60,161.60 L683.90,161.60 L684.20,161.60 L684.50,161.60" fill="none" stroke="#808000" stroke-width="1.1" stroke-linejoin="round" />
<path d="M406.70,129.85 L407.00,129.85 L407.30,129.84 L407.60,129.83 L407.90,129.82 L408.20,129.81 L408.50,129.78 L408.80,129.74 L409.10,129.68 L409.40,129.56 L409.70,129.35 L410.00,129.00 L410.30,128.43 L410.60,127.55 L410.90,126.24 L411.20,124.44 L411.50,122.08 L411.80,119.20 L412.10,115.95 L412.40,112.59 L412.70,109.47 L413.00,106.98 L413.30,105.49 L413.60,105.23 L413.90,106.24 L414.20,108.35 L414.50,111.24 L414.80,114.52 L415.10,117.80 L415.40,120.78 L415.70,123.29 L416.00,125.23 L416.30,126.65 L416.60,127.62 L416.90,128.24 L417.20,128.61 L417.50,128.83 L417.80,128.95 L418.10,129.01 L418.40,129.04 L418.70,129.05 L419.00,129.05 L419.30,129.03 L419.60,129.00 L419.90,128.95 L420.20,128.85 L420.50,128.70 L420.80,128.46 L421.10,128.12 L421.40,127.64 L421.70,127.01 L422.00,126.22 L422.30,125.28 L422.60,124.22 L422.90,123.10 L423.20,122.01 L423.50,121.05 L423.80,120.32 L424.10,119.90 L424.40,119.84 L424.70,120.15 L425.00,120.79 L425.30,121.69 L425.60,122.74 L425.90,123.85 L426.20,124.93 L426.50,125.90 L426.80,126.72 L427.10,127.37 L427.40,127.86 L427.70,128.19 L428.00,128.39 L428.30,128.48 L428.60,128.49 L428.90,128.42 L429.20,128.29 L429.50,128.11 L429.80,127.88 L430.10,127.61 L430.40,127.29 L430.70,126.93 L431.00,126.52 L431.30,126.06 L431.60,125.54 L431.90,124.94 L432.20,124.22 L432.50,123.32 L432.80,122.19 L433.10,120.71 L433.40,118.80 L433.70,116.35 L434.00,113.28 L434.30,109.57 L434.60,105.25 L434.90,100.46 L435.20,95.44 L435.50,90.52 L435.80,86.08 L436.10,82.55 L436.40,80.28 L436.70,79.56 L437.00,80.49 L437.30,82.99 L437.60,86.84 L437.90,91.66 L438.20,97.04 L438.50,102.57 L438.80,107.88 L439.10,112.68 L439.40,116.82 L439.70,120.21 L440.00,122.87 L440.30,124.87 L440.60,126.32 L440.90,127.32 L441.20,127.98 L441.50,128.42 L441.80,128.69 L442.10,128.85 L442.40,128.95 L442.70,129.01 L443.00,129.05 L443.30,129.07 L443.60,129.09 L443.90,129.10 L444.20,129.11 L444.50,129.12 L444.80,129.12 L445.10,129.13 L445.40,129.13 L445.70,129.13 L446.00,129.14 L446.30,129.14 L446.60,129.14 L446.90,129.14 L447.20,129.14 L447.50,129.14 L447.80,129.13 L448.10,129.13 L448.40,129.12 L448.70,129.11 L449.00,129.10 L449.30,129.09 L449.60,129.07 L449.90,129.05 L450.20,129.03 L450.50,129.01 L450.80,128.98 L451.10,128.96 L451.40,128.93 L451.70,128.90 L452.00,128.87 L452.30,128.85 L452.60,128.82 L452.90,128.79 L453.20,128.77 L453.50,128.75 L453.80,128.73 L454.10,128.72 L454.40,128.71 L454.70,128.71 L455.00,128.71 L455.30,128.72 L455.60,128.73 L455.90,128.74 L456.20,128.76 L456.50,128.79 L456.80,128.82 L457.10,128.84 L457.40,128.87 L457.70,128.90 L458.00,128.94 L458.30,128.97 L458.60,129.00 L458.90,129.02 L459.20,129.05 L459.50,129.07 L459.80,129.10 L460.10,129.12 L460.40,129.14 L460.70,129.15 L461.00,129.17 L461.30,129.18 L461.60,129.19 L461.90,129.20 L462.20,129.20 L462.50,129.21 L462.80,129.21 L463.10,129.22 L463.40,129.22 L463.70,129.22 L464.00,129.23 L464.30,129.23 L464.60,129.23 L464.90,129.23 L465.20,129.23 L465.50,129.23 L465.80,129.24 L466.10,129.24 L466.40,129.24 L466.70,129.24 L467.00,129.24 L467.30,129.24 L467.60,129.24 L467.90,129.24 L468.20,129.24 L468.50,129.24 L468.80,129.24 L469.10,129.24 L469.40,129.24 L469.70,129.24 L470.00,129.25 L470.30,129.25 L470.60,129.25 L470.90,129.25 L471.20,129.25 L471.50,129.25 L471.80,129.25 L472.10,129.25 L472.40,129.25 L472.70,129.25 L473.00,129.25 L473.30,129.25 L473.60,129.25 L473.90,129.25 L474.20,129.25 L474.50,129.25 L474.80,129.25 L475.10,129.26 L475.40,129.26 L475.70,129.26 L476.00,129.26 L476.30,129.26 L476.60,129.26 L476.90,129.26 L477.20,129.26 L477.50,129.26 L477.80,129.26 L478.10,129.26 L478.40,129.26 L478.70,129.26 L479.00,129.26 L479.30,129.26 L479.60,129.26 L479.90,129.26 L480.20,129.26 L480.50,129.27 L480.80,129.27 L481.10,129.27 L481.40,129.27 L481.70,129.27 L482.00,129.27 L482.30,129.27 L482.60,129.27 L482.90,129.27 L483.20,129.27 L483.50,129.27 L483.80,129.27 L484.10,129.27 L484.40,129.27 L484.70,129.27 L485.00,129.27 L485.30,129.27 L485.60,129.27 L485.90,129.27 L486.20,129.28 L486.50,129.28 L486.80,129.28 L487.10,129.28 L487.40,129.28 L487.70,129.28 L488.00,129.28 L488.30,129.28 L488.60,129.28 L488.90,129.28 L489.20,129.28 L489.50,129.28 L489.80,129.28 L490.10,129.28 L490.40,129.28 L490.70,129.28 L491.00,129.28 L491.30,129.28 L491.60,129.28 L491.90,129.29 L492.20,129.29 L492.50,129.29 L492.80,129.29 L493.10,129.29 L493.40,129.29 L493.70,129.29 L494.00,129.29 L494.30,129.29 L494.60,129.29 L494.90,129.29 L495.20,129.29 L495.50,129.29 L495.80,129.29 L496.10,129.29 L496.40,129.29 L496.70,129.29 L497.00,129.29 L497.30,129.29 L497.60,129.29 L497.90,129.30 L498.20,129.30 L498.50,129.30 L498.80,129.30 L499.10,129.30 L499.40,129.30 L499.70,129.30 L500.00,129.30 L500.30,129.30 L500.60,129.30 L500.90,129.30 L501.20,129.30 L501.50,129.30 L501.80,129.30 L502.10,129.30 L502.40,129.30 L502.70,129.30 L503.00,129.30 L503.30,129.30 L503.60,129.30 L503.90,129.31 L504.20,129.31 L504.50,129.31 L504.80,129.31 L505.10,129.31 L505.40,129.31 L505.70,129.31 L506.00,129.31 L506.30,129.31 L506.60,129.31 L506.90,129.31 L507.20,129.31 L507.50,129.31 L507.80,129.31 L508.10,129.31 L508.40,129.31 L508.70,129.31 L509.00,129.31 L509.30,129.31 L509.60,129.31 L509.90,129.32 L510.20,129.32 L510.50,129.32 L510.80,129.32 L511.10,129.32 L511.40,129.32 L511.70,129.32 L512.00,129.32 L512.30,129.32 L512.60,129.32 L512.90,129.32 L513.20,129.32 L513.50,129.32 L513.80,129.32 L514.10,129.32 L514.40,129.32 L514.70,129.32 L515.00,129.32 L515.30,129.32 L515.60,129.32 L515.90,129.33 L516.20,129.33 L516.50,129.33 L516.80,129.33 L517.10,129.33 L517.40,129.33 L517.70,129.33 L518.00,129.33 L518.30,129.33 L518.60,129.33 L518.90,129.33 L519.20,129.33 L519.50,129.33 L519.80,129.33 L520.10,129.33 L520.40,129.33 L520.70,129.33 L521.00,129.33 L521.30,129.33 L521.60,129.33 L521.90,129.34 L522.20,129.34 L522.50,129.34 L522.80,129.34 L523.10,129.34 L523.40,129.34 L523.70,129.34 L524.00,129.34 L524.30,129.34 L524.60,129.34 L524.90,129.34 L525.20,129.34 L525.50,129.34 L525.80,129.34 L526.10,129.34 L526.40,129.34 L526.70,129.34 L527.00,129.34 L527.30,129.34 L527.60,129.34 L527.90,129.34 L528.20,129.35 L528.50,129.35 L528.80,129.35 L529.10,129.35 L529.40,129.35 L529.70,129.35 L530.00,129.35 L530.30,129.35 L530.60,129.35 L530.90,129.35 L531.20,129.35 L531.50,129.35 L531.80,129.35 L532.10,129.35 L532.40,129.35 L532.70,129.35 L533.00,129.35 L533.30,129.35 L533.60,129.35 L533.90,129.35 L534.20,129.36 L534.50,129.36 L534.80,129.36 L535.10,129.36 L535.40,129.36 L535.70,129.36 L536.00,129.36 L536.30,129.36 L536.60,129.36 L536.90,129.36 L537.20,129.36 L537.50,129.36 L537.80,129.36 L538.10,129.36 L538.40,129.36 L538.70,129.36 L539.00,129.36 L539.30,129.36 L539.60,129.36 L539.90,129.36 L540.20,129.37 L540.50,129.37 L540.80,129.37 L541.10,129.37 L541.40,129.37 L541.70,129.37 L542.00,129.37 L542.30,129.37 L542.60,129.37 L542.90,129.37 L543.20,129.37 L543.50,129.37 L543.80,129.37 L544.10,129.37 L544.40,129.37 L544.70,129.37 L545.00,129.37 L545.30,129.37 L545.60,129.37 L545.90,129.37 L546.20,129.37 L546.50,129.38 L546.80,129.38 L547.10,129.38 L547.40,129.38 L547.70,129.38 L548.00,129.38 L548.30,129.38 L548.60,129.38 L548.90,129.38 L549.20,129.38 L549.50,129.38 L549.80,129.38 L550.10,129.38 L550.40,129.38 L550.70,129.38 L551.00,129.38 L551.30,129.38 L551.60,129.38 L551.90,129.38 L552.20,129.38 L552.50,129.38 L552.80,129.39 L553.10,129.39 L553.40,129.39 L553.70,129.39 L554.00,129.39 L554.30,129.39 L554.60,129.39 L554.90,129.39 L555.20,129.39 L555.50,129.39 L555.80,129.39 L556.10,129.39 L556.40,129.39 L556.70,129.39 L557.00,129.39 L557.30,129.39 L557.60,129.39 L557.90,129.39 L558.20,129.39 L558.50,129.39 L558.80,129.40 L559.10,129.40 L559.40,129.40 L559.70,129.40 L560.00,129.40 L560.30,129.40 L560.60,129.40 L560.90,129.40 L561.20,129.40 L561.50,129.40 L561.80,129.40 L562.10,129.40 L562.40,129.40 L562.70,129.40 L563.00,129.40 L563.30,129.40 L563.60,129.40 L563.90,129.40 L564.20,129.40 L564.50,129.40 L564.80,129.40 L565.10,129.41 L565.40,129.41 L565.70,129.41 L566.00,129.41 L566.30,129.41 L566.60,129.41 L566.90,129.41 L567.20,129.41 L567.50,129.41 L567.80,129.41 L568.10,129.41 L568.40,129.41 L568.70,129.41 L569.00,129.41 L569.30,129.41 L569.60,129.41 L569.90,129.41 L570.20,129.41 L570.50,129.41 L570.80,129.41 L571.10,129.41 L571.40,129.42 L571.70,129.42 L572.00,129.42 L572.30,129.42 L572.60,129.42 L572.90,129.42 L573.20,129.42 L573.50,129.42 L573.80,129.42 L574.10,129.42 L574.40,129.42 L574.70,129.42 L575.00,129.42 L575.30,129.42 L575.60,129.42 L575.90,129.42 L576.20,129.42 L576.50,129.42 L576.80,129.42 L577.10,129.42 L577.40,129.43 L577.70,129.43 L578.00,129.43 L578.30,129.43 L578.60,129.43 L578.90,129.43 L579.20,129.43 L579.50,129.43 L579.80,129.43 L580.10,129.43 L580.40,129.43 L580.70,129.43 L581.00,129.43 L581.30,129.43 L581.60,129.43 L581.90,129.43 L582.20,129.43 L582.50,129.43 L582.80,129.43 L583.10,129.43 L583.40,129.43 L583.70,129.43 L584.00,129.44 L584.30,129.44 L584.60,129.44 L584.90,129.44 L585.20,129.44 L585.50,129.44 L585.80,129.44 L586.10,129.44 L586.40,129.44 L586.70,129.44 L587.00,129.44 L587.30,129.44 L587.60,129.44 L587.90,129.44 L588.20,129.44 L588.50,129.44 L588.80,129.44 L589.10,129.44 L589.40,129.44 L589.70,129.44 L590.00,129.44 L590.30,129.45 L590.60,129.45 L590.90,129.45 L591.20,129.45 L591.50,129.45 L591.80,129.45 L592.10,129.45 L592.40,129.45 L592.70,129.45 L593.00,129.45 L593.30,129.45 L593.60,129.45 L593.90,129.45 L594.20,129.45 L594.50,129.45 L594.80,129.45 L595.10,129.45 L595.40,129.45 L595.70,129.45 L596.00,129.45 L596.30,129.45 L596.60,129.45 L596.90,129.46 L597.20,129.46 L597.50,129.46 L597.80,129.46 L598.10,129.46 L598.40,129.46 L598.70,129.46 L599.00,129.46 L599.30,129.46 L599.60,129.46 L599.90,129.46 L600.20,129.46 L600.50,129.46 L600.80,129.46 L601.10,129.46 L601.40,129.46 L601.70,129.46 L602.00,129.46 L602.30,129.46 L602.60,129.46 L602.90,129.46 L603.20,129.46 L603.50,129.46 L603.80,129.46 L604.10,129.46 L604.40,129.47 L604.70,129.47 L605.00,129.47 L605.30,129.47 L605.60,129.47 L605.90,129.47 L606.20,129.47 L606.50,129.47 L606.80,129.47 L607.10,129.47 L607.40,129.47 L607.70,129.47 L608.00,129.47 L608.30,129.47 L608.60,129.47 L608.90,129.47 L609.20,129.47 L609.50,129.47 L609.80,129.47 L610.10,129.47 L610.40,129.47 L610.70,129.47 L611.00,129.47 L611.30,129.47 L611.60,129.47 L611.90,129.47 L612.20,129.47 L612.50,129.47 L612.80,129.47 L613.10,129.47 L613.40,129.47 L613.70,129.47 L614.00,129.47 L614.30,129.47 L614.60,129.47 L614.90,129.47 L615.20,129.47 L615.50,129.47 L615.80,129.47 L616.10,129.47 L616.40,129.47 L616.70,129.46 L617.00,129.46 L617.30,129.46 L617.60,129.45 L617.90,129.44 L618.20,129.43 L618.50,129.41 L618.80,129.38 L619.10,129.34 L619.40,129.28 L619.70,129.20 L620.00,129.08 L620.30,128.92 L620.60,128.70 L620.90,128.42 L621.20,128.07 L621.50,127.63 L621.80,127.10 L622.10,126.48 L622.40,125.76 L622.70,124.97 L623.00,124.11 L623.30,123.21 L623.60,122.31 L623.90,121.45 L624.20,120.65 L624.50,119.98 L624.80,119.46 L625.10,119.13 L625.40,119.00 L625.70,119.10 L626.00,119.40 L626.30,119.89 L626.60,120.54 L626.90,121.32 L627.20,122.18 L627.50,123.07 L627.80,123.97 L628.10,124.84 L628.40,125.65 L628.70,126.38 L629.00,127.02 L629.30,127.56 L629.60,128.02 L629.90,128.39 L630.20,128.68 L630.50,128.90 L630.80,129.07 L631.10,129.20 L631.40,129.29 L631.70,129.35 L632.00,129.40 L632.30,129.43 L632.60,129.45 L632.90,129.47 L633.20,129.48 L633.50,129.48 L633.80,129.49 L634.10,129.49 L634.40,129.49 L634.70,129.50 L635.00,129.50 L635.30,129.50 L635.60,129.50 L635.90,129.50 L636.20,129.50 L636.50,129.51 L636.80,129.51 L637.10,129.51 L637.40,129.51 L637.70,129.51 L638.00,129.51 L638.30,129.51 L638.60,129.51 L638.90,129.51 L639.20,129.51 L639.50,129.51 L639.80,129.51 L640.10,129.51 L640.40,129.51 L640.70,129.51 L641.00,129.51 L641.30,129.51 L641.60,129.51 L641.90,129.50 L642.20,129.50 L642.50,129.49 L642.80,129.48 L643.10,129.46 L643.40,129.44 L643.70,129.41 L644.00,129.38 L644.30,129.34 L644.60,129.29 L644.90,129.23 L645.20,129.16 L645.50,129.08 L645.80,129.00 L646.10,128.91 L646.40,128.82 L646.70,128.72 L647.00,128.63 L647.30,128.55 L647.60,128.47 L647.90,128.41 L648.20,128.37 L648.50,128.34 L648.80,128.34 L649.10,128.35 L649.40,128.39 L649.70,128.44 L650.00,128.51 L650.30,128.59 L650.60,128.68 L650.90,128.77 L651.20,128.87 L651.50,128.96 L651.80,129.05 L652.10,129.13 L652.40,129.20 L652.70,129.27 L653.00,129.33 L653.30,129.37 L653.60,129.41 L653.90,129.45 L654.20,129.47 L654.50,129.49 L654.80,129.51 L655.10,129.52 L655.40,129.53 L655.70,129.53 L656.00,129.54 L656.30,129.54 L656.60,129.55 L656.90,129.55 L657.20,129.55 L657.50,129.55 L657.80,129.55 L658.10,129.55 L658.40,129.55 L658.70,129.55 L659.00,129.55 L659.30,129.55 L659.60,129.56 L659.90,129.56 L660.20,129.56 L660.50,129.56 L660.80,129.56 L661.10,129.56 L661.40,129.56 L661.70,129.56 L662.00,129.56 L662.30,129.56 L662.60,129.56 L662.90,129.56 L663.20,129.56 L663.50,129.56 L663.80,129.56 L664.10,129.56 L664.40,129.56 L664.70,129.57 L665.00,129.57 L665.30,129.57 L665.60,129.57 L665.90,129.57 L666.20,129.57 L666.50,129.57 L666.80,129.57 L667.10,129.57 L667.40,129.57 L667.70,129.57 L668.00,129.57 L668.30,129.57 L668.60,129.57 L668.90,129.57 L669.20,129.57 L669.50,129.57 L669.80,129.57 L670.10,129.57 L670.40,129.58 L670.70,129.58 L671.00,129.58 L671.30,129.58 L671.60,129.58 L671.90,129.58 L672.20,129.58 L672.50,129.58 L672.80,129.58 L673.10,129.58 L673.40,129.58 L673.70,129.58 L674.00,129.58 L674.30,129.58 L674.60,129.58 L674.90,129.58 L675.20,129.58 L675.50,129.58 L675.80,129.58 L676.10,129.58 L676.40,129.59 L676.70,129.59 L677.00,129.59 L677.30,129.59 L677.60,129.59 L677.90,129.59 L678.20,129.59 L678.50,129.59 L678.80,129.59 L679.10,129.59 L679.40,129.59 L679.70,129.59 L680.00,129.59 L680.30,129.59 L680.60,129.59 L680.90,129.59 L681.20,129.59 L681.50,129.59 L681.80,129.59 L682.10,129.59 L682.40,129.60 L682.70,129.60 L683.00,129.60 L683.30,129.60 L683.60,129.60 L683.90,129.60 L684.20,129.60 L684.50,129.60" fill="none" stroke="#000080" stroke-width="1.1" stroke-linejoin="round" />
<path d="M406.70,97.95 L407.00,97.95 L407.30,97.94 L407.60,97.93 L407.90,97.92 L408.20,97.91 L408.50,97.88 L408.80,97.85 L409.10,97.78 L409.40,97.66 L409.70,97.45 L410.00,97.11 L410.30,96.55 L410.60,95.68 L410.90,94.40 L411.20,92.62 L411.50,90.30 L411.80,87.47 L412.10,84.27 L412.40,80.97 L412.70,77.90 L413.00,75.45 L413.30,73.98 L413.60,73.73 L413.90,74.72 L414.20,76.80 L414.50,79.64 L414.80,82.86 L415.10,86.09 L415.40,89.02 L415.70,91.48 L416.00,93.40 L416.30,94.79 L416.60,95.74 L416.90,96.35 L417.20,96.72 L417.50,96.93 L417.80,97.05 L418.10,97.11 L418.40,97.14 L418.70,97.15 L419.00,97.15 L419.30,97.13 L419.60,97.10 L419.90,97.05 L420.20,96.96 L420.50,96.81 L420.80,96.58 L421.10,96.25 L421.40,95.79 L421.70,95.18 L422.00,94.41 L422.30,93.50 L422.60,92.47 L422.90,91.39 L423.20,90.34 L423.50,89.41 L423.80,88.70 L424.10,88.29 L424.40,88.24 L424.70,88.54 L425.00,89.15 L425.30,90.02 L425.60,91.04 L425.90,92.11 L426.20,93.15 L426.50,94.09 L426.80,94.88 L427.10,95.51 L427.40,95.97 L427.70,96.28 L428.00,96.46 L428.30,96.54 L428.60,96.52 L428.90,96.44 L429.20,96.28 L429.50,96.07 L429.80,95.81 L430.10,95.50 L430.40,95.13 L430.70,94.72 L431.00,94.26 L431.30,93.73 L431.60,93.14 L431.90,92.46 L432.20,91.64 L432.50,90.62 L432.80,89.33 L433.10,87.66 L433.40,85.48 L433.70,82.70 L434.00,79.21 L434.30,74.99 L434.60,70.08 L434.90,64.63 L435.20,58.93 L435.50,53.33 L435.80,48.29 L436.10,44.27 L436.40,41.70 L436.70,40.87 L437.00,41.93 L437.30,44.77 L437.60,49.15 L437.90,54.63 L438.20,60.75 L438.50,67.03 L438.80,73.06 L439.10,78.53 L439.40,83.23 L439.70,87.09 L440.00,90.11 L440.30,92.38 L440.60,94.02 L440.90,95.16 L441.20,95.92 L441.50,96.41 L441.80,96.72 L442.10,96.91 L442.40,97.02 L442.70,97.09 L443.00,97.13 L443.30,97.16 L443.60,97.17 L443.90,97.19 L444.20,97.20 L444.50,97.21 L444.80,97.21 L445.10,97.22 L445.40,97.23 L445.70,97.23 L446.00,97.24 L446.30,97.24 L446.60,97.25 L446.90,97.25 L447.20,97.25 L447.50,97.26 L447.80,97.26 L448.10,97.26 L448.40,97.27 L448.70,97.27 L449.00,97.27 L449.30,97.28 L449.60,97.28 L449.90,97.28 L450.20,97.28 L450.50,97.28 L450.80,97.29 L451.10,97.29 L451.40,97.29 L451.70,97.29 L452.00,97.29 L452.30,97.29 L452.60,97.30 L452.90,97.30 L453.20,97.30 L453.50,97.30 L453.80,97.30 L454.10,97.30 L454.40,97.30 L454.70,97.31 L455.00,97.31 L455.30,97.31 L455.60,97.31 L455.90,97.31 L456.20,97.31 L456.50,97.31 L456.80,97.31 L457.10,97.31 L457.40,97.31 L457.70,97.32 L458.00,97.32 L458.30,97.32 L458.60,97.32 L458.90,97.32 L459.20,97.32 L459.50,97.32 L459.80,97.32 L460.10,97.32 L460.40,97.32 L460.70,97.32 L461.00,97.33 L461.30,97.33 L461.60,97.33 L461.90,97.33 L462.20,97.33 L462.50,97.33 L462.80,97.33 L463.10,97.33 L463.40,97.33 L463.70,97.33 L464.00,97.33 L464.30,97.33 L464.60,97.33 L464.90,97.33 L465.20,97.34 L465.50,97.34 L465.80,97.34 L466.10,97.34 L466.40,97.34 L466.70,97.34 L467.00,97.34 L467.30,97.34 L467.60,97.34 L467.90,97.34 L468.20,97.34 L468.50,97.34 L468.80,97.34 L469.10,97.34 L469.40,97.34 L469.70,97.34 L470.00,97.35 L470.30,97.35 L470.60,97.35 L470.90,97.35 L471.20,97.35 L471.50,97.35 L471.80,97.35 L472.10,97.35 L472.40,97.35 L472.70,97.35 L473.00,97.35 L473.30,97.35 L473.60,97.35 L473.90,97.35 L474.20,97.35 L474.50,97.35 L474.80,97.35 L475.10,97.36 L475.40,97.36 L475.70,97.36 L476.00,97.36 L476.30,97.36 L476.60,97.36 L476.90,97.36 L477.20,97.36 L477.50,97.36 L477.80,97.36 L478.10,97.36 L478.40,97.36 L478.70,97.36 L479.00,97.36 L479.30,97.36 L479.60,97.36 L479.90,97.36 L480.20,97.36 L480.50,97.37 L480.80,97.37 L481.10,97.37 L481.40,97.37 L481.70,97.37 L482.00,97.37 L482.30,97.37 L482.60,97.37 L482.90,97.37 L483.20,97.37 L483.50,97.37 L483.80,97.37 L484.10,97.37 L484.40,97.37 L484.70,97.37 L485.00,97.37 L485.30,97.37 L485.60,97.37 L485.90,97.37 L486.20,97.38 L486.50,97.38 L486.80,97.38 L487.10,97.38 L487.40,97.38 L487.70,97.38 L488.00,97.38 L488.30,97.38 L488.60,97.38 L488.90,97.38 L489.20,97.38 L489.50,97.38 L489.80,97.38 L490.10,97.38 L490.40,97.38 L490.70,97.38 L491.00,97.38 L491.30,97.38 L491.60,97.38 L491.90,97.39 L492.20,97.39 L492.50,97.39 L492.80,97.39 L493.10,97.39 L493.40,97.39 L493.70,97.39 L494.00,97.39 L494.30,97.39 L494.60,97.39 L494.90,97.39 L495.20,97.39 L495.50,97.39 L495.80,97.39 L496.10,97.39 L496.40,97.39 L496.70,97.39 L497.00,97.39 L497.30,97.39 L497.60,97.39 L497.90,97.40 L498.20,97.40 L498.50,97.40 L498.80,97.40 L499.10,97.40 L499.40,97.40 L499.70,97.40 L500.00,97.40 L500.30,97.40 L500.60,97.40 L500.90,97.40 L501.20,97.40 L501.50,97.40 L501.80,97.40 L502.10,97.40 L502.40,97.40 L502.70,97.40 L503.00,97.40 L503.30,97.40 L503.60,97.40 L503.90,97.41 L504.20,97.41 L504.50,97.41 L504.80,97.41 L505.10,97.41 L505.40,97.41 L505.70,97.41 L506.00,97.41 L506.30,97.41 L506.60,97.41 L506.90,97.41 L507.20,97.41 L507.50,97.41 L507.80,97.41 L508.10,97.41 L508.40,97.41 L508.70,97.41 L509.00,97.41 L509.30,97.41 L509.60,97.41 L509.90,97.42 L510.20,97.42 L510.50,97.42 L510.80,97.42 L511.10,97.42 L511.40,97.42 L511.70,97.42 L512.00,97.42 L512.30,97.42 L512.60,97.42 L512.90,97.42 L513.20,97.42 L513.50,97.42 L513.80,97.42 L514.10,97.42 L514.40,97.42 L514.70,97.42 L515.00,97.42 L515.30,97.42 L515.60,97.42 L515.90,97.43 L516.20,97.43 L516.50,97.43 L516.80,97.43 L517.10,97.43 L517.40,97.43 L517.70,97.43 L518.00,97.43 L518.30,97.43 L518.60,97.43 L518.90,97.43 L519.20,97.43 L519.50,97.43 L519.80,97.43 L520.10,97.43 L520.40,97.43 L520.70,97.43 L521.00,97.43 L521.30,97.43 L521.60,97.43 L521.90,97.43 L522.20,97.44 L522.50,97.44 L522.80,97.44 L523.10,97.44 L523.40,97.44 L523.70,97.44 L524.00,97.44 L524.30,97.44 L524.60,97.44 L524.90,97.44 L525.20,97.44 L525.50,97.44 L525.80,97.44 L526.10,97.44 L526.40,97.44 L526.70,97.44 L527.00,97.44 L527.30,97.44 L527.60,97.44 L527.90,97.44 L528.20,97.45 L528.50,97.45 L528.80,97.45 L529.10,97.45 L529.40,97.45 L529.70,97.45 L530.00,97.45 L530.30,97.45 L530.60,97.45 L530.90,97.45 L531.20,97.45 L531.50,97.45 L531.80,97.45 L532.10,97.45 L532.40,97.45 L532.70,97.45 L533.00,97.45 L533.30,97.45 L533.60,97.45 L533.90,97.45 L534.20,97.46 L534.50,97.46 L534.80,97.46 L535.10,97.46 L535.40,97.46 L535.70,97.46 L536.00,97.46 L536.30,97.46 L536.60,97.46 L536.90,97.46 L537.20,97.46 L537.50,97.46 L537.80,97.46 L538.10,97.46 L538.40,97.46 L538.70,97.46 L539.00,97.46 L539.30,97.46 L539.60,97.46 L539.90,97.46 L540.20,97.46 L540.50,97.47 L540.80,97.47 L541.10,97.47 L541.40,97.47 L541.70,97.47 L542.00,97.47 L542.30,97.47 L542.60,97.47 L542.90,97.47 L543.20,97.47 L543.50,97.47 L543.80,97.47 L544.10,97.47 L544.40,97.47 L544.70,97.47 L545.00,97.47 L545.30,97.47 L545.60,97.47 L545.90,97.47 L546.20,97.47 L546.50,97.48 L546.80,97.48 L547.10,97.48 L547.40,97.48 L547.70,97.48 L548.00,97.48 L548.30,97.48 L548.60,97.48 L548.90,97.48 L549.20,97.48 L549.50,97.48 L549.80,97.48 L550.10,97.48 L550.40,97.48 L550.70,97.48 L551.00,97.48 L551.30,97.48 L551.60,97.48 L551.90,97.48 L552.20,97.48 L552.50,97.48 L552.80,97.49 L553.10,97.49 L553.40,97.49 L553.70,97.49 L554.00,97.49 L554.30,97.49 L554.60,97.49 L554.90,97.49 L555.20,97.49 L555.50,97.49 L555.80,97.49 L556.10,97.49 L556.40,97.49 L556.70,97.49 L557.00,97.49 L557.30,97.49 L557.60,97.49 L557.90,97.49 L558.20,97.49 L558.50,97.49 L558.80,97.49 L559.10,97.50 L559.40,97.50 L559.70,97.50 L560.00,97.50 L560.30,97.50 L560.60,97.50 L560.90,97.50 L561.20,97.50 L561.50,97.50 L561.80,97.50 L562.10,97.50 L562.40,97.50 L562.70,97.50 L563.00,97.50 L563.30,97.50 L563.60,97.50 L563.90,97.50 L564.20,97.50 L564.50,97.50 L564.80,97.50 L565.10,97.50 L565.40,97.51 L565.70,97.51 L566.00,97.51 L566.30,97.51 L566.60,97.51 L566.90,97.51 L567.20,97.51 L567.50,97.51 L567.80,97.51 L568.10,97.51 L568.40,97.51 L568.70,97.51 L569.00,97.51 L569.30,97.51 L569.60,97.51 L569.90,97.51 L570.20,97.51 L570.50,97.51 L570.80,97.51 L571.10,97.51 L571.40,97.51 L571.70,97.52 L572.00,97.52 L572.30,97.52 L572.60,97.52 L572.90,97.52 L573.20,97.52 L573.50,97.52 L573.80,97.52 L574.10,97.52 L574.40,97.52 L574.70,97.52 L575.00,97.52 L575.30,97.52 L575.60,97.52 L575.90,97.52 L576.20,97.52 L576.50,97.52 L576.80,97.52 L577.10,97.52 L577.40,97.52 L577.70,97.52 L578.00,97.53 L578.30,97.53 L578.60,97.53 L578.90,97.53 L579.20,97.53 L579.50,97.53 L579.80,97.53 L580.10,97.53 L580.40,97.53 L580.70,97.53 L581.00,97.53 L581.30,97.53 L581.60,97.53 L581.90,97.53 L582.20,97.53 L582.50,97.53 L582.80,97.53 L583.10,97.53 L583.40,97.53 L583.70,97.53 L584.00,97.53 L584.30,97.53 L584.60,97.53 L584.90,97.53 L585.20,97.54 L585.50,97.54 L585.80,97.54 L586.10,97.54 L586.40,97.54 L586.70,97.54 L587.00,97.54 L587.30,97.54 L587.60,97.54 L587.90,97.54 L588.20,97.54 L588.50,97.54 L588.80,97.54 L589.10,97.54 L589.40,97.53 L589.70,97.53 L590.00,97.53 L590.30,97.52 L590.60,97.51 L590.90,97.50 L591.20,97.48 L591.50,97.46 L591.80,97.43 L592.10,97.40 L592.40,97.35 L592.70,97.30 L593.00,97.25 L593.30,97.18 L593.60,97.11 L593.90,97.03 L594.20,96.95 L594.50,96.87 L594.80,96.79 L595.10,96.71 L595.40,96.65 L595.70,96.60 L596.00,96.57 L596.30,96.55 L596.60,96.56 L596.90,96.58 L597.20,96.62 L597.50,96.67 L597.80,96.74 L598.10,96.81 L598.40,96.89 L598.70,96.98 L599.00,97.06 L599.30,97.14 L599.60,97.21 L599.90,97.27 L600.20,97.33 L600.50,97.38 L600.80,97.42 L601.10,97.45 L601.40,97.48 L601.70,97.50 L602.00,97.52 L602.30,97.53 L602.60,97.54 L602.90,97.55 L603.20,97.55 L603.50,97.55 L603.80,97.56 L604.10,97.56 L604.40,97.56 L604.70,97.56 L605.00,97.56 L605.30,97.56 L605.60,97.56 L605.90,97.56 L606.20,97.56 L606.50,97.56 L606.80,97.56 L607.10,97.56 L607.40,97.56 L607.70,97.57 L608.00,97.57 L608.30,97.57 L608.60,97.57 L608.90,97.57 L609.20,97.57 L609.50,97.57 L609.80,97.57 L610.10,97.57 L610.40,97.57 L610.70,97.57 L611.00,97.57 L611.30,97.57 L611.60,97.57 L611.90,97.57 L612.20,97.57 L612.50,97.57 L612.80,97.57 L613.10,97.57 L613.40,97.57 L613.70,97.57 L614.00,97.57 L614.30,97.56 L614.60,97.56 L614.90,97.56 L615.20,97.56 L615.50,97.56 L615.80,97.56 L616.10,97.56 L616.40,97.56 L616.70,97.55 L617.00,97.55 L617.30,97.55 L617.60,97.54 L617.90,97.53 L618.20,97.51 L618.50,97.48 L618.80,97.45 L619.10,97.39 L619.40,97.31 L619.70,97.20 L620.00,97.04 L620.30,96.82 L620.60,96.54 L620.90,96.16 L621.20,95.69 L621.50,95.11 L621.80,94.40 L622.10,93.57 L622.40,92.61 L622.70,91.55 L623.00,90.41 L623.30,89.21 L623.60,88.01 L623.90,86.86 L624.20,85.80 L624.50,84.91 L624.80,84.21 L625.10,83.77 L625.40,83.60 L625.70,83.73 L626.00,84.13 L626.30,84.78 L626.60,85.65 L626.90,86.69 L627.20,87.83 L627.50,89.03 L627.80,90.23 L628.10,91.38 L628.40,92.46 L628.70,93.43 L629.00,94.29 L629.30,95.01 L629.60,95.62 L629.90,96.11 L630.20,96.50 L630.50,96.80 L630.80,97.02 L631.10,97.19 L631.40,97.31 L631.70,97.40 L632.00,97.46 L632.30,97.50 L632.60,97.53 L632.90,97.55 L633.20,97.56 L633.50,97.57 L633.80,97.58 L634.10,97.58 L634.40,97.58 L634.70,97.59 L635.00,97.59 L635.30,97.59 L635.60,97.59 L635.90,97.60 L636.20,97.60 L636.50,97.60 L636.80,97.60 L637.10,97.60 L637.40,97.60 L637.70,97.60 L638.00,97.60 L638.30,97.61 L638.60,97.61 L638.90,97.61 L639.20,97.61 L639.50,97.61 L639.80,97.61 L640.10,97.61 L640.40,97.61 L640.70,97.61 L641.00,97.61 L641.30,97.60 L641.60,97.60 L641.90,97.59 L642.20,97.58 L642.50,97.56 L642.80,97.54 L643.10,97.52 L643.40,97.48 L643.70,97.44 L644.00,97.38 L644.30,97.31 L644.60,97.22 L644.90,97.13 L645.20,97.01 L645.50,96.88 L645.80,96.74 L646.10,96.59 L646.40,96.44 L646.70,96.28 L647.00,96.13 L647.30,95.99 L647.60,95.87 L647.90,95.76 L648.20,95.69 L648.50,95.65 L648.80,95.64 L649.10,95.66 L649.40,95.72 L649.70,95.81 L650.00,95.92 L650.30,96.06 L650.60,96.20 L650.90,96.36 L651.20,96.52 L651.50,96.67 L651.80,96.82 L652.10,96.95 L652.40,97.08 L652.70,97.19 L653.00,97.28 L653.30,97.36 L653.60,97.42 L653.90,97.48 L654.20,97.52 L654.50,97.55 L654.80,97.58 L655.10,97.60 L655.40,97.61 L655.70,97.62 L656.00,97.63 L656.30,97.64 L656.60,97.64 L656.90,97.64 L657.20,97.64 L657.50,97.65 L657.80,97.65 L658.10,97.65 L658.40,97.65 L658.70,97.65 L659.00,97.65 L659.30,97.65 L659.60,97.65 L659.90,97.65 L660.20,97.65 L660.50,97.66 L660.80,97.66 L661.10,97.66 L661.40,97.66 L661.70,97.66 L662.00,97.66 L662.30,97.66 L662.60,97.66 L662.90,97.66 L663.20,97.66 L663.50,97.66 L663.80,97.66 L664.10,97.66 L664.40,97.66 L664.70,97.66 L665.00,97.66 L665.30,97.67 L665.60,97.67 L665.90,97.67 L666.20,97.67 L666.50,97.67 L666.80,97.67 L667.10,97.67 L667.40,97.67 L667.70,97.67 L668.00,97.67 L668.30,97.67 L668.60,97.67 L668.90,97.67 L669.20,97.67 L669.50,97.67 L669.80,97.67 L670.10,97.67 L670.40,97.67 L670.70,97.67 L671.00,97.68 L671.30,97.68 L671.60,97.68 L671.90,97.68 L672.20,97.68 L672.50,97.68 L672.80,97.68 L673.10,97.68 L673.40,97.68 L673.70,97.68 L674.00,97.68 L674.30,97.68 L674.60,97.68 L674.90,97.68 L675.20,97.68 L675.50,97.68 L675.80,97.68 L676.10,97.68 L676.40,97.68 L676.70,97.69 L677.00,97.69 L677.30,97.69 L677.60,97.69 L677.90,97.69 L678.20,97.69 L678.50,97.69 L678.80,97.69 L679.10,97.69 L679.40,97.69 L679.70,97.69 L680.00,97.69 L680.30,97.69 L680.60,97.69 L680.90,97.69 L681.20,97.69 L681.50,97.69 L681.80,97.69 L682.10,97.69 L682.40,97.69 L682.70,97.70 L683.00,97.70 L683.30,97.70 L683.60,97.70 L683.90,97.70 L684.20,97.70 L684.50,97.70" fill="none" stroke="#800080" stroke-width="1.1" stroke-linejoin="round" />
<path d="M406.70,66.45 L407.00,66.45 L407.30,66.44 L407.60,66.43 L407.90,66.42 L408.20,66.41 L408.50,66.38 L408.80,66.34 L409.10,66.27 L409.40,66.15 L409.70,65.94 L410.00,65.58 L410.30,65.00 L410.60,64.10 L410.90,62.77 L411.20,60.93 L411.50,58.52 L411.80,55.59 L412.10,52.27 L412.40,48.84 L412.70,45.65 L413.00,43.11 L413.30,41.59 L413.60,41.32 L413.90,42.34 L414.20,44.49 L414.50,47.42 L414.80,50.72 L415.10,53.97 L415.40,56.84 L415.70,59.09 L416.00,60.60 L416.30,61.34 L416.60,61.41 L416.90,60.96 L417.20,60.20 L417.50,59.40 L417.80,58.81 L418.10,58.62 L418.40,58.91 L418.70,59.65 L419.00,60.68 L419.30,61.81 L419.60,62.87 L419.90,63.74 L420.20,64.35 L420.50,64.69 L420.80,64.79 L421.10,64.67 L421.40,64.36 L421.70,63.86 L422.00,63.20 L422.30,62.40 L422.60,61.50 L422.90,60.54 L423.20,59.61 L423.50,58.78 L423.80,58.15 L424.10,57.79 L424.40,57.74 L424.70,58.01 L425.00,58.56 L425.30,59.34 L425.60,60.24 L425.90,61.20 L426.20,62.12 L426.50,62.96 L426.80,63.67 L427.10,64.23 L427.40,64.65 L427.70,64.94 L428.00,65.12 L428.30,65.20 L428.60,65.21 L428.90,65.15 L429.20,65.05 L429.50,64.90 L429.80,64.72 L430.10,64.49 L430.40,64.23 L430.70,63.93 L431.00,63.60 L431.30,63.22 L431.60,62.79 L431.90,62.30 L432.20,61.70 L432.50,60.97 L432.80,60.04 L433.10,58.83 L433.40,57.25 L433.70,55.24 L434.00,52.72 L434.30,49.66 L434.60,46.11 L434.90,42.17 L435.20,38.04 L435.50,33.99 L435.80,30.34 L436.10,27.44 L436.40,25.58 L436.70,24.98 L437.00,25.74 L437.30,27.80 L437.60,30.97 L437.90,34.94 L438.20,39.36 L438.50,43.91 L438.80,48.27 L439.10,52.23 L439.40,55.63 L439.70,58.42 L440.00,60.61 L440.30,62.25 L440.60,63.44 L440.90,64.26 L441.20,64.81 L441.50,65.17 L441.80,65.39 L442.10,65.53 L442.40,65.61 L442.70,65.66 L443.00,65.69 L443.30,65.71 L443.60,65.72 L443.90,65.73 L444.20,65.74 L444.50,65.75 L444.80,65.75 L445.10,65.76 L445.40,65.76 L445.70,65.76 L446.00,65.77 L446.30,65.77 L446.60,65.77 L446.90,65.77 L447.20,65.77 L447.50,65.77 L447.80,65.77 L448.10,65.76 L448.40,65.76 L448.70,65.75 L449.00,65.74 L449.30,65.72 L449.60,65.70 L449.90,65.68 L450.20,65.65 L450.50,65.62 L450.80,65.58 L451.10,65.54 L451.40,65.50 L451.70,65.45 L452.00,65.40 L452.30,65.35 L452.60,65.30 L452.90,65.26 L453.20,65.22 L453.50,65.18 L453.80,65.16 L454.10,65.14 L454.40,65.13 L454.70,65.13 L455.00,65.14 L455.30,65.16 L455.60,65.19 L455.90,65.23 L456.20,65.27 L456.50,65.32 L456.80,65.37 L457.10,65.42 L457.40,65.47 L457.70,65.52 L458.00,65.57 L458.30,65.61 L458.60,65.65 L458.90,65.68 L459.20,65.71 L459.50,65.74 L459.80,65.76 L460.10,65.78 L460.40,65.79 L460.70,65.80 L461.00,65.81 L461.30,65.82 L461.60,65.82 L461.90,65.82 L462.20,65.82 L462.50,65.81 L462.80,65.81 L463.10,65.80 L463.40,65.78 L463.70,65.77 L464.00,65.75 L464.30,65.73 L464.60,65.70 L464.90,65.67 L465.20,65.64 L465.50,65.61 L465.80,65.57 L466.10,65.54 L466.40,65.50 L466.70,65.47 L467.00,65.44 L467.30,65.41 L467.60,65.39 L467.90,65.38 L468.20,65.37 L468.50,65.37 L468.80,65.37 L469.10,65.38 L469.40,65.40 L469.70,65.43 L470.00,65.46 L470.30,65.49 L470.60,65.53 L470.90,65.56 L471.20,65.60 L471.50,65.64 L471.80,65.67 L472.10,65.70 L472.40,65.73 L472.70,65.76 L473.00,65.78 L473.30,65.80 L473.60,65.82 L473.90,65.83 L474.20,65.84 L474.50,65.85 L474.80,65.86 L475.10,65.86 L475.40,65.87 L475.70,65.87 L476.00,65.88 L476.30,65.88 L476.60,65.88 L476.90,65.88 L477.20,65.88 L477.50,65.88 L477.80,65.88 L478.10,65.89 L478.40,65.89 L478.70,65.89 L479.00,65.89 L479.30,65.89 L479.60,65.89 L479.90,65.89 L480.20,65.89 L480.50,65.89 L480.80,65.89 L481.10,65.89 L481.40,65.89 L481.70,65.89 L482.00,65.89 L482.30,65.90 L482.60,65.90 L482.90,65.90 L483.20,65.90 L483.50,65.90 L483.80,65.90 L484.10,65.90 L484.40,65.90 L484.70,65.90 L485.00,65.90 L485.30,65.90 L485.60,65.90 L485.90,65.90 L486.20,65.90 L486.50,65.90 L486.80,65.91 L487.10,65.91 L487.40,65.91 L487.70,65.91 L488.00,65.91 L488.30,65.91 L488.60,65.91 L488.90,65.91 L489.20,65.91 L489.50,65.91 L489.80,65.91 L490.10,65.91 L490.40,65.91 L490.70,65.91 L491.00,65.91 L491.30,65.91 L491.60,65.92 L491.90,65.92 L492.20,65.92 L492.50,65.92 L492.80,65.92 L493.10,65.92 L493.40,65.92 L493.70,65.92 L494.00,65.92 L494.30,65.92 L494.60,65.92 L494.90,65.92 L495.20,65.92 L495.50,65.92 L495.80,65.92 L496.10,65.92 L496.40,65.93 L496.70,65.93 L497.00,65.93 L497.30,65.93 L497.60,65.93 L497.90,65.93 L498.20,65.93 L498.50,65.93 L498.80,65.93 L499.10,65.93 L499.40,65.93 L499.70,65.93 L500.00,65.93 L500.30,65.93 L500.60,65.93 L500.90,65.93 L501.20,65.94 L501.50,65.94 L501.80,65.94 L502.10,65.94 L502.40,65.94 L502.70,65.94 L503.00,65.94 L503.30,65.94 L503.60,65.94 L503.90,65.94 L504.20,65.94 L504.50,65.94 L504.80,65.94 L505.10,65.94 L505.40,65.94 L505.70,65.94 L506.00,65.94 L506.30,65.95 L506.60,65.95 L506.90,65.95 L507.20,65.95 L507.50,65.95 L507.80,65.95 L508.10,65.95 L508.40,65.95 L508.70,65.95 L509.00,65.95 L509.30,65.95 L509.60,65.95 L509.90,65.95 L510.20,65.95 L510.50,65.95 L510.80,65.95 L511.10,65.96 L511.40,65.96 L511.70,65.96 L512.00,65.96 L512.30,65.96 L512.60,65.96 L512.90,65.96 L513.20,65.96 L513.50,65.96 L513.80,65.96 L514.10,65.96 L514.40,65.96 L514.70,65.96 L515.00,65.96 L515.30,65.96 L515.60,65.96 L515.90,65.96 L516.20,65.97 L516.50,65.97 L516.80,65.97 L517.10,65.97 L517.40,65.97 L517.70,65.97 L518.00,65.97 L518.30,65.97 L518.60,65.97 L518.90,65.97 L519.20,65.97 L519.50,65.97 L519.80,65.97 L520.10,65.97 L520.40,65.97 L520.70,65.97 L521.00,65.97 L521.30,65.98 L521.60,65.98 L521.90,65.98 L522.20,65.98 L522.50,65.98 L522.80,65.98 L523.10,65.98 L523.40,65.98 L523.70,65.98 L524.00,65.98 L524.30,65.98 L524.60,65.98 L524.90,65.98 L525.20,65.98 L525.50,65.98 L525.80,65.98 L526.10,65.99 L526.40,65.99 L526.70,65.99 L527.00,65.99 L527.30,65.99 L527.60,65.99 L527.90,65.99 L528.20,65.99 L528.50,65.99 L528.80,65.99 L529.10,65.99 L529.40,65.99 L529.70,65.99 L530.00,65.99 L530.30,65.99 L530.60,65.99 L530.90,65.99 L531.20,66.00 L531.50,66.00 L531.80,66.00 L532.10,66.00 L532.40,66.00 L532.70,66.00 L533.00,66.00 L533.30,66.00 L533.60,66.00 L533.90,66.00 L534.20,66.00 L534.50,66.00 L534.80,66.00 L535.10,66.00 L535.40,66.00 L535.70,66.00 L536.00,66.00 L536.30,66.01 L536.60,66.01 L536.90,66.01 L537.20,66.01 L537.50,66.01 L537.80,66.01 L538.10,66.01 L538.40,66.01 L538.70,66.01 L539.00,66.01 L539.30,66.01 L539.60,66.01 L539.90,66.01 L540.20,66.01 L540.50,66.01 L540.80,66.01 L541.10,66.01 L541.40,66.02 L541.70,66.02 L542.00,66.02 L542.30,66.02 L542.60,66.02 L542.90,66.02 L543.20,66.02 L543.50,66.02 L543.80,66.02 L544.10,66.02 L544.40,66.02 L544.70,66.02 L545.00,66.02 L545.30,66.02 L545.60,66.02 L545.90,66.02 L546.20,66.03 L546.50,66.03 L546.80,66.03 L547.10,66.03 L547.40,66.03 L547.70,66.03 L548.00,66.03 L548.30,66.03 L548.60,66.03 L548.90,66.03 L549.20,66.03 L549.50,66.03 L549.80,66.03 L550.10,66.03 L550.40,66.03 L550.70,66.03 L551.00,66.03 L551.30,66.04 L551.60,66.04 L551.90,66.04 L552.20,66.04 L552.50,66.04 L552.80,66.04 L553.10,66.04 L553.40,66.04 L553.70,66.04 L554.00,66.04 L554.30,66.04 L554.60,66.04 L554.90,66.04 L555.20,66.04 L555.50,66.04 L555.80,66.04 L556.10,66.04 L556.40,66.05 L556.70,66.05 L557.00,66.05 L557.30,66.05 L557.60,66.05 L557.90,66.05 L558.20,66.05 L558.50,66.05 L558.80,66.05 L559.10,66.05 L559.40,66.05 L559.70,66.05 L560.00,66.05 L560.30,66.05 L560.60,66.05 L560.90,66.05 L561.20,66.05 L561.50,66.06 L561.80,66.06 L562.10,66.06 L562.40,66.06 L562.70,66.06 L563.00,66.06 L563.30,66.06 L563.60,66.06 L563.90,66.06 L564.20,66.06 L564.50,66.06 L564.80,66.06 L565.10,66.06 L565.40,66.06 L565.70,66.06 L566.00,66.06 L566.30,66.06 L566.60,66.07 L566.90,66.07 L567.20,66.07 L567.50,66.07 L567.80,66.07 L568.10,66.07 L568.40,66.07 L568.70,66.07 L569.00,66.07 L569.30,66.07 L569.60,66.07 L569.90,66.07 L570.20,66.07 L570.50,66.07 L570.80,66.07 L571.10,66.07 L571.40,66.07 L571.70,66.08 L572.00,66.08 L572.30,66.08 L572.60,66.08 L572.90,66.08 L573.20,66.08 L573.50,66.08 L573.80,66.08 L574.10,66.08 L574.40,66.08 L574.70,66.08 L575.00,66.08 L575.30,66.08 L575.60,66.08 L575.90,66.08 L576.20,66.08 L576.50,66.08 L576.80,66.09 L577.10,66.09 L577.40,66.09 L577.70,66.09 L578.00,66.09 L578.30,66.09 L578.60,66.09 L578.90,66.09 L579.20,66.09 L579.50,66.09 L579.80,66.09 L580.10,66.09 L580.40,66.09 L580.70,66.09 L581.00,66.09 L581.30,66.09 L581.60,66.09 L581.90,66.10 L582.20,66.10 L582.50,66.10 L582.80,66.10 L583.10,66.10 L583.40,66.10 L583.70,66.10 L584.00,66.10 L584.30,66.10 L584.60,66.10 L584.90,66.10 L585.20,66.10 L585.50,66.10 L585.80,66.10 L586.10,66.10 L586.40,66.10 L586.70,66.10 L587.00,66.11 L587.30,66.11 L587.60,66.11 L587.90,66.11 L588.20,66.11 L588.50,66.11 L588.80,66.11 L589.10,66.11 L589.40,66.11 L589.70,66.11 L590.00,66.11 L590.30,66.11 L590.60,66.11 L590.90,66.11 L591.20,66.11 L591.50,66.11 L591.80,66.11 L592.10,66.11 L592.40,66.12 L592.70,66.12 L593.00,66.12 L593.30,66.12 L593.60,66.12 L593.90,66.12 L594.20,66.12 L594.50,66.12 L594.80,66.12 L595.10,66.12 L595.40,66.12 L595.70,66.12 L596.00,66.12 L596.30,66.12 L596.60,66.12 L596.90,66.12 L597.20,66.12 L597.50,66.12 L597.80,66.13 L598.10,66.13 L598.40,66.13 L598.70,66.13 L599.00,66.13 L599.30,66.13 L599.60,66.13 L599.90,66.13 L600.20,66.13 L600.50,66.13 L600.80,66.13 L601.10,66.13 L601.40,66.13 L601.70,66.13 L602.00,66.13 L602.30,66.13 L602.60,66.13 L602.90,66.13 L603.20,66.14 L603.50,66.14 L603.80,66.14 L604.10,66.14 L604.40,66.14 L604.70,66.14 L605.00,66.14 L605.30,66.14 L605.60,66.14 L605.90,66.14 L606.20,66.14 L606.50,66.14 L606.80,66.14 L607.10,66.14 L607.40,66.14 L607.70,66.14 L608.00,66.14 L608.30,66.14 L608.60,66.14 L608.90,66.14 L609.20,66.14 L609.50,66.14 L609.80,66.14 L610.10,66.15 L610.40,66.15 L610.70,66.15 L611.00,66.15 L611.30,66.15 L611.60,66.15 L611.90,66.15 L612.20,66.15 L612.50,66.15 L612.80,66.15 L613.10,66.15 L613.40,66.15 L613.70,66.15 L614.00,66.15 L614.30,66.15 L614.60,66.15 L614.90,66.15 L615.20,66.15 L615.50,66.15 L615.80,66.15 L616.10,66.15 L616.40,66.14 L616.70,66.14 L617.00,66.14 L617.30,66.14 L617.60,66.13 L617.90,66.13 L618.20,66.12 L618.50,66.10 L618.80,66.08 L619.10,66.04 L619.40,65.99 L619.70,65.92 L620.00,65.82 L620.30,65.68 L620.60,65.50 L620.90,65.26 L621.20,64.96 L621.50,64.59 L621.80,64.14 L622.10,63.61 L622.40,63.01 L622.70,62.33 L623.00,61.61 L623.30,60.85 L623.60,60.08 L623.90,59.35 L624.20,58.68 L624.50,58.11 L624.80,57.67 L625.10,57.39 L625.40,57.28 L625.70,57.36 L626.00,57.62 L626.30,58.03 L626.60,58.59 L626.90,59.24 L627.20,59.97 L627.50,60.73 L627.80,61.50 L628.10,62.23 L628.40,62.92 L628.70,63.53 L629.00,64.08 L629.30,64.54 L629.60,64.93 L629.90,65.24 L630.20,65.48 L630.50,65.68 L630.80,65.82 L631.10,65.93 L631.40,66.00 L631.70,66.06 L632.00,66.10 L632.30,66.12 L632.60,66.14 L632.90,66.15 L633.20,66.16 L633.50,66.17 L633.80,66.17 L634.10,66.18 L634.40,66.18 L634.70,66.18 L635.00,66.18 L635.30,66.18 L635.60,66.19 L635.90,66.19 L636.20,66.19 L636.50,66.19 L636.80,66.19 L637.10,66.19 L637.40,66.19 L637.70,66.19 L638.00,66.19 L638.30,66.20 L638.60,66.20 L638.90,66.20 L639.20,66.20 L639.50,66.20 L639.80,66.20 L640.10,66.20 L640.40,66.20 L640.70,66.20 L641.00,66.20 L641.30,66.19 L641.60,66.19 L641.90,66.19 L642.20,66.18 L642.50,66.17 L642.80,66.15 L643.10,66.13 L643.40,66.11 L643.70,66.07 L644.00,66.03 L644.30,65.98 L644.60,65.91 L644.90,65.84 L645.20,65.75 L645.50,65.66 L645.80,65.55 L646.10,65.44 L646.40,65.33 L646.70,65.21 L647.00,65.10 L647.30,64.99 L647.60,64.90 L647.90,64.82 L648.20,64.77 L648.50,64.73 L648.80,64.73 L649.10,64.75 L649.40,64.79 L649.70,64.86 L650.00,64.94 L650.30,65.04 L650.60,65.15 L650.90,65.27 L651.20,65.39 L651.50,65.50 L651.80,65.61 L652.10,65.72 L652.40,65.81 L652.70,65.89 L653.00,65.96 L653.30,66.02 L653.60,66.07 L653.90,66.11 L654.20,66.14 L654.50,66.17 L654.80,66.19 L655.10,66.20 L655.40,66.21 L655.70,66.22 L656.00,66.23 L656.30,66.23 L656.60,66.23 L656.90,66.24 L657.20,66.24 L657.50,66.24 L657.80,66.24 L658.10,66.24 L658.40,66.24 L658.70,66.24 L659.00,66.24 L659.30,66.25 L659.60,66.25 L659.90,66.25 L660.20,66.25 L660.50,66.25 L660.80,66.25 L661.10,66.25 L661.40,66.25 L661.70,66.25 L662.00,66.25 L662.30,66.25 L662.60,66.25 L662.90,66.25 L663.20,66.25 L663.50,66.26 L663.80,66.26 L664.10,66.26 L664.40,66.26 L664.70,66.26 L665.00,66.26 L665.30,66.26 L665.60,66.26 L665.90,66.26 L666.20,66.26 L666.50,66.26 L666.80,66.26 L667.10,66.26 L667.40,66.26 L667.70,66.26 L668.00,66.27 L668.30,66.27 L668.60,66.27 L668.90,66.27 L669.20,66.27 L669.50,66.27 L669.80,66.27 L670.10,66.27 L670.40,66.27 L670.70,66.27 L671.00,66.27 L671.30,66.27 L671.60,66.27 L671.90,66.27 L672.20,66.27 L672.50,66.27 L672.80,66.28 L673.10,66.28 L673.40,66.28 L673.70,66.28 L674.00,66.28 L674.30,66.28 L674.60,66.28 L674.90,66.28 L675.20,66.28 L675.50,66.28 L675.80,66.28 L676.10,66.28 L676.40,66.28 L676.70,66.28 L677.00,66.28 L677.30,66.28 L677.60,66.28 L677.90,66.29 L678.20,66.29 L678.50,66.29 L678.80,66.29 L679.10,66.29 L679.40,66.29 L679.70,66.29 L680.00,66.29 L680.30,66.29 L680.60,66.29 L680.90,66.29 L681.20,66.29 L681.50,66.29 L681.80,66.29 L682.10,66.29 L682.40,66.29 L682.70,66.30 L683.00,66.30 L683.30,66.30 L683.60,66.30 L683.90,66.30 L684.20,66.30 L684.50,66.30" fill="none" stroke="#008000" stroke-width="1.1" stroke-linejoin="round" />
<rect x="406.70" y="2.85" width="277.80" height="225.55" fill="none" stroke="#262626" stroke-width="1"/>
<line x1="411.40" y1="228.40" x2="411.40" y2="232.90" stroke="#262626" stroke-width="1"/>
<text x="411.40" y="243.70" font-size="10.3" text-anchor="middle" font-weight="normal" >0</text>
<line x1="461.00" y1="228.40" x2="461.00" y2="232.90" stroke="#262626" stroke-width="1"/>
<text x="461.00" y="243.70" font-size="10.3" text-anchor="middle" font-weight="normal" >2</text>
<line x1="510.60" y1="228.40" x2="510.60" y2="232.90" stroke="#262626" stroke-width="1"/>
<text x="510.60" y="243.70" font-size="10.3" text-anchor="middle" font-weight="normal" >4</text>
<line x1="560.20" y1="228.40" x2="560.20" y2="232.90" stroke="#262626" stroke-width="1"/>
<text x="560.20" y="243.70" font-size="10.3" text-anchor="middle" font-weight="normal" >6</text>
<line x1="609.80" y1="228.40" x2="609.80" y2="232.90" stroke="#262626" stroke-width="1"/>
<text x="609.80" y="243.70" font-size="10.3" text-anchor="middle" font-weight="normal" >8</text>
<line x1="659.40" y1="228.40" x2="659.40" y2="232.90" stroke="#262626" stroke-width="1"/>
<text x="659.40" y="243.70" font-size="10.3" text-anchor="middle" font-weight="normal" >10</text>
<text transform="translate(393.00,116.50) rotate(-90)" font-size="10.3" text-anchor="middle">Counts (a.u.)</text>
<text x="545.70" y="261.40" font-size="10.3" text-anchor="middle" font-weight="normal" >keV</text>
<text x="372.00" y="9.80" font-size="13" text-anchor="start" font-weight="bold" >d</text>
<text x="437.20" y="17.20" font-size="10.3" text-anchor="middle" font-weight="normal" >Zn</text>
<text x="419.30" y="32.40" font-size="10.3" text-anchor="middle" font-weight="normal" >C</text>
<text x="425.80" y="43.30" font-size="10.3" text-anchor="middle" font-weight="normal" >O</text>
<text x="625.90" y="44.70" font-size="10.3" text-anchor="middle" font-weight="normal" >Zn</text>
<text x="646.40" y="47.80" font-size="10.3" text-anchor="middle" font-weight="normal" >Zn</text>
<path d="M42.98,409.31 L51.94,330.62 L60.90,460.55 L69.86,460.55 L83.30,341.60 L87.78,467.87 L96.74,295.24 L105.70,374.54 L114.66,329.40 L123.62,302.56 L128.10,510.14 L132.58,309.88 L141.54,315.37 L150.50,504.96 L159.46,307.44 L168.42,503.43 L172.90,386.13 L186.34,491.66 L195.30,305.00 L217.70,355.02 L307.30,360.51" fill="none" stroke="#00ffff" stroke-width="1.0" stroke-linejoin="round" />
<circle cx="42.98" cy="409.31" r="2.5" fill="#00ffff"/>
<circle cx="51.94" cy="330.62" r="2.5" fill="#00ffff"/>
<circle cx="60.90" cy="460.55" r="2.5" fill="#00ffff"/>
<circle cx="69.86" cy="460.55" r="2.5" fill="#00ffff"/>
<circle cx="83.30" cy="341.60" r="2.5" fill="#00ffff"/>
<circle cx="87.78" cy="467.87" r="2.5" fill="#00ffff"/>
<circle cx="96.74" cy="295.24" r="2.5" fill="#00ffff"/>
<circle cx="105.70" cy="374.54" r="2.5" fill="#00ffff"/>
<circle cx="114.66" cy="329.40" r="2.5" fill="#00ffff"/>
<circle cx="123.62" cy="302.56" r="2.5" fill="#00ffff"/>
<circle cx="128.10" cy="510.14" r="2.5" fill="#00ffff"/>
<circle cx="132.58" cy="309.88" r="2.5" fill="#00ffff"/>
<circle cx="141.54" cy="315.37" r="2.5" fill="#00ffff"/>
<circle cx="150.50" cy="504.96" r="2.5" fill="#00ffff"/>
<circle cx="159.46" cy="307.44" r="2.5" fill="#00ffff"/>
<circle cx="168.42" cy="503.43" r="2.5" fill="#00ffff"/>
<circle cx="172.90" cy="386.13" r="2.5" fill="#00ffff"/>
<circle cx="186.34" cy="491.66" r="2.5" fill="#00ffff"/>
<circle cx="195.30" cy="305.00" r="2.5" fill="#00ffff"/>
<circle cx="217.70" cy="355.02" r="2.5" fill="#00ffff"/>
<circle cx="307.30" cy="360.51" r="2.5" fill="#00ffff"/>
<rect x="38.60" y="289.80" width="277.85" height="225.55" fill="none" stroke="#262626" stroke-width="1"/>
<line x1="38.50" y1="289.80" x2="38.50" y2="294.30" stroke="#262626" stroke-width="1"/>
<line x1="38.50" y1="515.35" x2="38.50" y2="519.85" stroke="#262626" stroke-width="1"/>
<line x1="83.30" y1="289.80" x2="83.30" y2="294.30" stroke="#262626" stroke-width="1"/>
<line x1="83.30" y1="515.35" x2="83.30" y2="519.85" stroke="#262626" stroke-width="1"/>
<line x1="128.10" y1="289.80" x2="128.10" y2="294.30" stroke="#262626" stroke-width="1"/>
<line x1="128.10" y1="515.35" x2="128.10" y2="519.85" stroke="#262626" stroke-width="1"/>
<line x1="172.90" y1="289.80" x2="172.90" y2="294.30" stroke="#262626" stroke-width="1"/>
<line x1="172.90" y1="515.35" x2="172.90" y2="519.85" stroke="#262626" stroke-width="1"/>
<line x1="217.70" y1="289.80" x2="217.70" y2="294.30" stroke="#262626" stroke-width="1"/>
<line x1="217.70" y1="515.35" x2="217.70" y2="519.85" stroke="#262626" stroke-width="1"/>
<line x1="262.50" y1="289.80" x2="262.50" y2="294.30" stroke="#262626" stroke-width="1"/>
<line x1="262.50" y1="515.35" x2="262.50" y2="519.85" stroke="#262626" stroke-width="1"/>
<line x1="307.30" y1="289.80" x2="307.30" y2="294.30" stroke="#262626" stroke-width="1"/>
<line x1="307.30" y1="515.35" x2="307.30" y2="519.85" stroke="#262626" stroke-width="1"/>
<line x1="34.10" y1="478.85" x2="38.60" y2="478.85" stroke="#262626" stroke-width="1"/>
<line x1="311.95" y1="478.85" x2="316.45" y2="478.85" stroke="#262626" stroke-width="1"/>
<line x1="34.10" y1="417.85" x2="38.60" y2="417.85" stroke="#262626" stroke-width="1"/>
<line x1="311.95" y1="417.85" x2="316.45" y2="417.85" stroke="#262626" stroke-width="1"/>
<line x1="34.10" y1="356.85" x2="38.60" y2="356.85" stroke="#262626" stroke-width="1"/>
<line x1="311.95" y1="356.85" x2="316.45" y2="356.85" stroke="#262626" stroke-width="1"/>
<line x1="34.10" y1="295.85" x2="38.60" y2="295.85" stroke="#262626" stroke-width="1"/>
<line x1="311.95" y1="295.85" x2="316.45" y2="295.85" stroke="#262626" stroke-width="1"/>
<text x="31.30" y="481.85" font-size="10.3" text-anchor="end" font-weight="normal" >10</text>
<text x="31.30" y="420.85" font-size="10.3" text-anchor="end" font-weight="normal" >20</text>
<text x="31.30" y="359.85" font-size="10.3" text-anchor="end" font-weight="normal" >30</text>
<text x="31.30" y="298.85" font-size="10.3" text-anchor="end" font-weight="normal" >40</text>
<text transform="translate(11.90,411.60) rotate(-90)" font-size="10.3" text-anchor="middle">Zn atomic %</text>
<text x="0.60" y="288.80" font-size="13" text-anchor="start" font-weight="bold" >b</text>
<path d="M42.98,722.95 L51.94,744.18 L60.90,724.84 L69.86,718.15 L83.30,742.00 L87.78,725.13 L96.74,746.94 L105.70,739.09 L114.66,742.73 L123.62,745.49 L128.10,696.34 L132.58,745.49 L141.54,745.63 L150.50,700.56 L159.46,745.63 L168.42,704.78 L172.90,735.46 L186.34,709.43 L195.30,745.34 L217.70,742.00 L307.30,736.76" fill="none" stroke="#00ffff" stroke-width="1.0" stroke-linejoin="round" />
<rect x="40.78" y="720.75" width="4.4" height="4.4" fill="#00ffff"/>
<rect x="49.74" y="741.98" width="4.4" height="4.4" fill="#00ffff"/>
<rect x="58.70" y="722.64" width="4.4" height="4.4" fill="#00ffff"/>
<rect x="67.66" y="715.95" width="4.4" height="4.4" fill="#00ffff"/>
<rect x="81.10" y="739.80" width="4.4" height="4.4" fill="#00ffff"/>
<rect x="85.58" y="722.93" width="4.4" height="4.4" fill="#00ffff"/>
<rect x="94.54" y="744.74" width="4.4" height="4.4" fill="#00ffff"/>
<rect x="103.50" y="736.89" width="4.4" height="4.4" fill="#00ffff"/>
<rect x="112.46" y="740.53" width="4.4" height="4.4" fill="#00ffff"/>
<rect x="121.42" y="743.29" width="4.4" height="4.4" fill="#00ffff"/>
<rect x="125.90" y="694.14" width="4.4" height="4.4" fill="#00ffff"/>
<rect x="130.38" y="743.29" width="4.4" height="4.4" fill="#00ffff"/>
<rect x="139.34" y="743.43" width="4.4" height="4.4" fill="#00ffff"/>
<rect x="148.30" y="698.36" width="4.4" height="4.4" fill="#00ffff"/>
<rect x="157.26" y="743.43" width="4.4" height="4.4" fill="#00ffff"/>
<rect x="166.22" y="702.58" width="4.4" height="4.4" fill="#00ffff"/>
<rect x="170.70" y="733.26" width="4.4" height="4.4" fill="#00ffff"/>
<rect x="184.14" y="707.23" width="4.4" height="4.4" fill="#00ffff"/>
<rect x="193.10" y="743.14" width="4.4" height="4.4" fill="#00ffff"/>
<rect x="215.50" y="739.80" width="4.4" height="4.4" fill="#00ffff"/>
<rect x="305.10" y="734.56" width="4.4" height="4.4" fill="#00ffff"/>
<path d="M42.98,749.56 L51.94,753.63 L60.90,703.76 L69.86,710.59 L83.30,753.19 L87.78,692.85 L96.74,756.97 L105.70,747.38 L114.66,754.94 L123.62,757.27 L128.10,548.47 L132.58,756.10 L141.54,754.65 L150.50,587.87 L159.46,756.10 L168.42,592.24 L172.90,747.09 L186.34,646.76 L195.30,757.12 L217.70,749.85 L307.30,753.63" fill="none" stroke="#ff00ff" stroke-width="1.0" stroke-linejoin="round" />
<circle cx="42.98" cy="749.56" r="2.5" fill="#ff00ff"/>
<circle cx="51.94" cy="753.63" r="2.5" fill="#ff00ff"/>
<circle cx="60.90" cy="703.76" r="2.5" fill="#ff00ff"/>
<circle cx="69.86" cy="710.59" r="2.5" fill="#ff00ff"/>
<circle cx="83.30" cy="753.19" r="2.5" fill="#ff00ff"/>
<circle cx="87.78" cy="692.85" r="2.5" fill="#ff00ff"/>
<circle cx="96.74" cy="756.97" r="2.5" fill="#ff00ff"/>
<circle cx="105.70" cy="747.38" r="2.5" fill="#ff00ff"/>
<circle cx="114.66" cy="754.94" r="2.5" fill="#ff00ff"/>
<circle cx="123.62" cy="757.27" r="2.5" fill="#ff00ff"/>
<circle cx="128.10" cy="548.47" r="2.5" fill="#ff00ff"/>
<circle cx="132.58" cy="756.10" r="2.5" fill="#ff00ff"/>
<circle cx="141.54" cy="754.65" r="2.5" fill="#ff00ff"/>
<circle cx="150.50" cy="587.87" r="2.5" fill="#ff00ff"/>
<circle cx="159.46" cy="756.10" r="2.5" fill="#ff00ff"/>
<circle cx="168.42" cy="592.24" r="2.5" fill="#ff00ff"/>
<circle cx="172.90" cy="747.09" r="2.5" fill="#ff00ff"/>
<circle cx="186.34" cy="646.76" r="2.5" fill="#ff00ff"/>
<circle cx="195.30" cy="757.12" r="2.5" fill="#ff00ff"/>
<circle cx="217.70" cy="749.85" r="2.5" fill="#ff00ff"/>
<circle cx="307.30" cy="753.63" r="2.5" fill="#ff00ff"/>
<rect x="38.50" y="537.50" width="277.95" height="225.40" fill="none" stroke="#262626" stroke-width="1"/>
<line x1="38.50" y1="537.50" x2="38.50" y2="542.00" stroke="#262626" stroke-width="1"/>
<line x1="38.50" y1="762.90" x2="38.50" y2="767.40" stroke="#262626" stroke-width="1"/>
<line x1="83.30" y1="537.50" x2="83.30" y2="542.00" stroke="#262626" stroke-width="1"/>
<line x1="83.30" y1="762.90" x2="83.30" y2="767.40" stroke="#262626" stroke-width="1"/>
<line x1="128.10" y1="537.50" x2="128.10" y2="542.00" stroke="#262626" stroke-width="1"/>
<line x1="128.10" y1="762.90" x2="128.10" y2="767.40" stroke="#262626" stroke-width="1"/>
<line x1="172.90" y1="537.50" x2="172.90" y2="542.00" stroke="#262626" stroke-width="1"/>
<line x1="172.90" y1="762.90" x2="172.90" y2="767.40" stroke="#262626" stroke-width="1"/>
<line x1="217.70" y1="537.50" x2="217.70" y2="542.00" stroke="#262626" stroke-width="1"/>
<line x1="217.70" y1="762.90" x2="217.70" y2="767.40" stroke="#262626" stroke-width="1"/>
<line x1="262.50" y1="537.50" x2="262.50" y2="542.00" stroke="#262626" stroke-width="1"/>
<line x1="262.50" y1="762.90" x2="262.50" y2="767.40" stroke="#262626" stroke-width="1"/>
<line x1="307.30" y1="537.50" x2="307.30" y2="542.00" stroke="#262626" stroke-width="1"/>
<line x1="307.30" y1="762.90" x2="307.30" y2="767.40" stroke="#262626" stroke-width="1"/>
<line x1="34.00" y1="762.90" x2="38.50" y2="762.90" stroke="#262626" stroke-width="1"/>
<line x1="311.95" y1="762.90" x2="316.45" y2="762.90" stroke="#262626" stroke-width="1"/>
<line x1="34.00" y1="689.90" x2="38.50" y2="689.90" stroke="#262626" stroke-width="1"/>
<line x1="311.95" y1="689.90" x2="316.45" y2="689.90" stroke="#262626" stroke-width="1"/>
<line x1="34.00" y1="617.00" x2="38.50" y2="617.00" stroke="#262626" stroke-width="1"/>
<line x1="311.95" y1="617.00" x2="316.45" y2="617.00" stroke="#262626" stroke-width="1"/>
<line x1="34.00" y1="544.30" x2="38.50" y2="544.30" stroke="#262626" stroke-width="1"/>
<line x1="311.95" y1="544.30" x2="316.45" y2="544.30" stroke="#262626" stroke-width="1"/>
<text x="31.30" y="765.90" font-size="10.3" text-anchor="end" font-weight="normal" >0</text>
<text x="31.30" y="692.90" font-size="10.3" text-anchor="end" font-weight="normal" >5</text>
<text x="31.30" y="620.00" font-size="10.3" text-anchor="end" font-weight="normal" >10</text>
<text x="31.30" y="547.30" font-size="10.3" text-anchor="end" font-weight="normal" >15</text>
<text x="38.50" y="778.00" font-size="10.3" text-anchor="middle" font-weight="normal" >0</text>
<text x="83.30" y="778.00" font-size="10.3" text-anchor="middle" font-weight="normal" >10</text>
<text x="128.10" y="778.00" font-size="10.3" text-anchor="middle" font-weight="normal" >20</text>
<text x="172.90" y="778.00" font-size="10.3" text-anchor="middle" font-weight="normal" >30</text>
<text x="217.70" y="778.00" font-size="10.3" text-anchor="middle" font-weight="normal" >40</text>
<text x="262.50" y="778.00" font-size="10.3" text-anchor="middle" font-weight="normal" >50</text>
<text x="307.30" y="778.00" font-size="10.3" text-anchor="middle" font-weight="normal" >60</text>
<text transform="translate(14.80,658.80) rotate(-90)" font-size="10.3" text-anchor="middle">Atomic ratio</text>
<text x="177.60" y="798.50" font-size="10.3" text-anchor="middle" font-weight="normal" >MW time (min)</text>
<text x="-0.50" y="545.00" font-size="13" text-anchor="start" font-weight="bold" >c</text>
<path d="M412.12,405.30 L481.93,328.80 L560.39,455.11 L572.37,455.11 L583.39,339.48 L587.60,503.32 L589.90,498.28 L592.52,496.80 L596.56,462.23 L597.99,371.50 L598.86,301.52 L603.70,485.35 L619.01,357.86 L627.10,294.41 L630.75,303.89 L638.53,382.76 L639.32,327.62 L643.21,306.27 L662.49,352.52 L667.56,308.64 L677.40,313.98" fill="none" stroke="#00ffff" stroke-width="1.0" stroke-linejoin="round" />
<circle cx="412.12" cy="405.30" r="2.5" fill="#00ffff"/>
<circle cx="481.93" cy="328.80" r="2.5" fill="#00ffff"/>
<circle cx="560.39" cy="455.11" r="2.5" fill="#00ffff"/>
<circle cx="572.37" cy="455.11" r="2.5" fill="#00ffff"/>
<circle cx="583.39" cy="339.48" r="2.5" fill="#00ffff"/>
<circle cx="587.60" cy="503.32" r="2.5" fill="#00ffff"/>
<circle cx="589.90" cy="498.28" r="2.5" fill="#00ffff"/>
<circle cx="592.52" cy="496.80" r="2.5" fill="#00ffff"/>
<circle cx="596.56" cy="462.23" r="2.5" fill="#00ffff"/>
<circle cx="597.99" cy="371.50" r="2.5" fill="#00ffff"/>
<circle cx="598.86" cy="301.52" r="2.5" fill="#00ffff"/>
<circle cx="603.70" cy="485.35" r="2.5" fill="#00ffff"/>
<circle cx="619.01" cy="357.86" r="2.5" fill="#00ffff"/>
<circle cx="627.10" cy="294.41" r="2.5" fill="#00ffff"/>
<circle cx="630.75" cy="303.89" r="2.5" fill="#00ffff"/>
<circle cx="638.53" cy="382.76" r="2.5" fill="#00ffff"/>
<circle cx="639.32" cy="327.62" r="2.5" fill="#00ffff"/>
<circle cx="643.21" cy="306.27" r="2.5" fill="#00ffff"/>
<circle cx="662.49" cy="352.52" r="2.5" fill="#00ffff"/>
<circle cx="667.56" cy="308.64" r="2.5" fill="#00ffff"/>
<circle cx="677.40" cy="313.98" r="2.5" fill="#00ffff"/>
<rect x="406.55" y="289.00" width="277.75" height="225.75" fill="none" stroke="#262626" stroke-width="1"/>
<line x1="426.40" y1="289.00" x2="426.40" y2="293.50" stroke="#262626" stroke-width="1"/>
<line x1="426.40" y1="514.75" x2="426.40" y2="519.25" stroke="#262626" stroke-width="1"/>
<line x1="466.06" y1="289.00" x2="466.06" y2="293.50" stroke="#262626" stroke-width="1"/>
<line x1="466.06" y1="514.75" x2="466.06" y2="519.25" stroke="#262626" stroke-width="1"/>
<line x1="505.73" y1="289.00" x2="505.73" y2="293.50" stroke="#262626" stroke-width="1"/>
<line x1="505.73" y1="514.75" x2="505.73" y2="519.25" stroke="#262626" stroke-width="1"/>
<line x1="545.39" y1="289.00" x2="545.39" y2="293.50" stroke="#262626" stroke-width="1"/>
<line x1="545.39" y1="514.75" x2="545.39" y2="519.25" stroke="#262626" stroke-width="1"/>
<line x1="585.06" y1="289.00" x2="585.06" y2="293.50" stroke="#262626" stroke-width="1"/>
<line x1="585.06" y1="514.75" x2="585.06" y2="519.25" stroke="#262626" stroke-width="1"/>
<line x1="624.72" y1="289.00" x2="624.72" y2="293.50" stroke="#262626" stroke-width="1"/>
<line x1="624.72" y1="514.75" x2="624.72" y2="519.25" stroke="#262626" stroke-width="1"/>
<line x1="664.39" y1="289.00" x2="664.39" y2="293.50" stroke="#262626" stroke-width="1"/>
<line x1="664.39" y1="514.75" x2="664.39" y2="519.25" stroke="#262626" stroke-width="1"/>
<line x1="402.05" y1="472.90" x2="406.55" y2="472.90" stroke="#262626" stroke-width="1"/>
<line x1="679.80" y1="472.90" x2="684.30" y2="472.90" stroke="#262626" stroke-width="1"/>
<line x1="402.05" y1="413.60" x2="406.55" y2="413.60" stroke="#262626" stroke-width="1"/>
<line x1="679.80" y1="413.60" x2="684.30" y2="413.60" stroke="#262626" stroke-width="1"/>
<line x1="402.05" y1="354.30" x2="406.55" y2="354.30" stroke="#262626" stroke-width="1"/>
<line x1="679.80" y1="354.30" x2="684.30" y2="354.30" stroke="#262626" stroke-width="1"/>
<line x1="402.05" y1="295.00" x2="406.55" y2="295.00" stroke="#262626" stroke-width="1"/>
<line x1="679.80" y1="295.00" x2="684.30" y2="295.00" stroke="#262626" stroke-width="1"/>
<text x="399.10" y="475.90" font-size="10.3" text-anchor="end" font-weight="normal" >10</text>
<text x="399.10" y="416.60" font-size="10.3" text-anchor="end" font-weight="normal" >20</text>
<text x="399.10" y="357.30" font-size="10.3" text-anchor="end" font-weight="normal" >30</text>
<text x="399.10" y="298.00" font-size="10.3" text-anchor="end" font-weight="normal" >40</text>
<text transform="translate(379.20,410.60) rotate(-90)" font-size="10.3" text-anchor="middle">Zn atomic %</text>
<text x="371.50" y="290.30" font-size="13" text-anchor="start" font-weight="bold" >e</text>
<path d="M412.42,727.87 L482.23,748.50 L560.69,729.70 L572.67,723.20 L583.69,746.38 L587.90,702.01 L590.20,706.11 L592.82,710.20 L596.86,729.99 L598.29,743.55 L599.16,749.77 L604.00,714.73 L627.40,751.18 L631.05,749.63 L638.83,740.02 L639.62,747.08 L643.51,749.91 L662.79,746.38 L667.86,749.77 L677.70,749.91" fill="none" stroke="#00ffff" stroke-width="1.0" stroke-linejoin="round" />
<rect x="410.22" y="725.67" width="4.4" height="4.4" fill="#00ffff"/>
<rect x="480.03" y="746.30" width="4.4" height="4.4" fill="#00ffff"/>
<rect x="558.49" y="727.50" width="4.4" height="4.4" fill="#00ffff"/>
<rect x="570.47" y="721.00" width="4.4" height="4.4" fill="#00ffff"/>
<rect x="581.49" y="744.18" width="4.4" height="4.4" fill="#00ffff"/>
<rect x="585.70" y="699.81" width="4.4" height="4.4" fill="#00ffff"/>
<rect x="588.00" y="703.91" width="4.4" height="4.4" fill="#00ffff"/>
<rect x="590.62" y="708.00" width="4.4" height="4.4" fill="#00ffff"/>
<rect x="594.66" y="727.79" width="4.4" height="4.4" fill="#00ffff"/>
<rect x="596.09" y="741.35" width="4.4" height="4.4" fill="#00ffff"/>
<rect x="596.96" y="747.57" width="4.4" height="4.4" fill="#00ffff"/>
<rect x="601.80" y="712.53" width="4.4" height="4.4" fill="#00ffff"/>
<rect x="625.20" y="748.98" width="4.4" height="4.4" fill="#00ffff"/>
<rect x="628.85" y="747.43" width="4.4" height="4.4" fill="#00ffff"/>
<rect x="636.63" y="737.82" width="4.4" height="4.4" fill="#00ffff"/>
<rect x="637.42" y="744.88" width="4.4" height="4.4" fill="#00ffff"/>
<rect x="641.31" y="747.71" width="4.4" height="4.4" fill="#00ffff"/>
<rect x="660.59" y="744.18" width="4.4" height="4.4" fill="#00ffff"/>
<rect x="665.66" y="747.57" width="4.4" height="4.4" fill="#00ffff"/>
<rect x="675.50" y="747.71" width="4.4" height="4.4" fill="#00ffff"/>
<path d="M412.42,753.72 L482.23,757.68 L560.69,709.21 L572.67,715.86 L583.69,757.26 L587.90,558.31 L590.20,596.60 L592.82,600.84 L596.86,698.62 L598.29,751.60 L599.16,761.21 L604.00,653.83 L627.40,760.93 L631.05,761.07 L638.83,751.32 L639.62,758.95 L643.51,760.08 L662.79,754.01 L667.86,760.08 L677.70,758.67" fill="none" stroke="#ff00ff" stroke-width="1.0" stroke-linejoin="round" />
<circle cx="412.42" cy="753.72" r="2.5" fill="#ff00ff"/>
<circle cx="482.23" cy="757.68" r="2.5" fill="#ff00ff"/>
<circle cx="560.69" cy="709.21" r="2.5" fill="#ff00ff"/>
<circle cx="572.67" cy="715.86" r="2.5" fill="#ff00ff"/>
<circle cx="583.69" cy="757.26" r="2.5" fill="#ff00ff"/>
<circle cx="587.90" cy="558.31" r="2.5" fill="#ff00ff"/>
<circle cx="590.20" cy="596.60" r="2.5" fill="#ff00ff"/>
<circle cx="592.82" cy="600.84" r="2.5" fill="#ff00ff"/>
<circle cx="596.86" cy="698.62" r="2.5" fill="#ff00ff"/>
<circle cx="598.29" cy="751.60" r="2.5" fill="#ff00ff"/>
<circle cx="599.16" cy="761.21" r="2.5" fill="#ff00ff"/>
<circle cx="604.00" cy="653.83" r="2.5" fill="#ff00ff"/>
<circle cx="627.40" cy="760.93" r="2.5" fill="#ff00ff"/>
<circle cx="631.05" cy="761.07" r="2.5" fill="#ff00ff"/>
<circle cx="638.83" cy="751.32" r="2.5" fill="#ff00ff"/>
<circle cx="639.62" cy="758.95" r="2.5" fill="#ff00ff"/>
<circle cx="643.51" cy="760.08" r="2.5" fill="#ff00ff"/>
<circle cx="662.79" cy="754.01" r="2.5" fill="#ff00ff"/>
<circle cx="667.86" cy="760.08" r="2.5" fill="#ff00ff"/>
<circle cx="677.70" cy="758.67" r="2.5" fill="#ff00ff"/>
<rect x="406.60" y="540.60" width="277.90" height="225.75" fill="none" stroke="#262626" stroke-width="1"/>
<line x1="426.40" y1="540.60" x2="426.40" y2="545.10" stroke="#262626" stroke-width="1"/>
<line x1="426.40" y1="766.35" x2="426.40" y2="770.85" stroke="#262626" stroke-width="1"/>
<line x1="466.06" y1="540.60" x2="466.06" y2="545.10" stroke="#262626" stroke-width="1"/>
<line x1="466.06" y1="766.35" x2="466.06" y2="770.85" stroke="#262626" stroke-width="1"/>
<line x1="505.73" y1="540.60" x2="505.73" y2="545.10" stroke="#262626" stroke-width="1"/>
<line x1="505.73" y1="766.35" x2="505.73" y2="770.85" stroke="#262626" stroke-width="1"/>
<line x1="545.39" y1="540.60" x2="545.39" y2="545.10" stroke="#262626" stroke-width="1"/>
<line x1="545.39" y1="766.35" x2="545.39" y2="770.85" stroke="#262626" stroke-width="1"/>
<line x1="585.06" y1="540.60" x2="585.06" y2="545.10" stroke="#262626" stroke-width="1"/>
<line x1="585.06" y1="766.35" x2="585.06" y2="770.85" stroke="#262626" stroke-width="1"/>
<line x1="624.72" y1="540.60" x2="624.72" y2="545.10" stroke="#262626" stroke-width="1"/>
<line x1="624.72" y1="766.35" x2="624.72" y2="770.85" stroke="#262626" stroke-width="1"/>
<line x1="664.39" y1="540.60" x2="664.39" y2="545.10" stroke="#262626" stroke-width="1"/>
<line x1="664.39" y1="766.35" x2="664.39" y2="770.85" stroke="#262626" stroke-width="1"/>
<line x1="402.10" y1="766.30" x2="406.60" y2="766.30" stroke="#262626" stroke-width="1"/>
<line x1="680.00" y1="766.30" x2="684.50" y2="766.30" stroke="#262626" stroke-width="1"/>
<line x1="402.10" y1="695.65" x2="406.60" y2="695.65" stroke="#262626" stroke-width="1"/>
<line x1="680.00" y1="695.65" x2="684.50" y2="695.65" stroke="#262626" stroke-width="1"/>
<line x1="402.10" y1="625.00" x2="406.60" y2="625.00" stroke="#262626" stroke-width="1"/>
<line x1="680.00" y1="625.00" x2="684.50" y2="625.00" stroke="#262626" stroke-width="1"/>
<line x1="402.10" y1="554.35" x2="406.60" y2="554.35" stroke="#262626" stroke-width="1"/>
<line x1="680.00" y1="554.35" x2="684.50" y2="554.35" stroke="#262626" stroke-width="1"/>
<text x="399.10" y="769.30" font-size="10.3" text-anchor="end" font-weight="normal" >0</text>
<text x="399.10" y="698.65" font-size="10.3" text-anchor="end" font-weight="normal" >5</text>
<text x="399.10" y="628.00" font-size="10.3" text-anchor="end" font-weight="normal" >10</text>
<text x="399.10" y="557.35" font-size="10.3" text-anchor="end" font-weight="normal" >15</text>
<text x="426.40" y="781.60" font-size="10.3" text-anchor="middle" font-weight="normal" >6.5</text>
<text x="466.06" y="781.60" font-size="10.3" text-anchor="middle" font-weight="normal" >7.0</text>
<text x="505.73" y="781.60" font-size="10.3" text-anchor="middle" font-weight="normal" >7.5</text>
<text x="545.39" y="781.60" font-size="10.3" text-anchor="middle" font-weight="normal" >8.0</text>
<text x="585.06" y="781.60" font-size="10.3" text-anchor="middle" font-weight="normal" >8.5</text>
<text x="624.72" y="781.60" font-size="10.3" text-anchor="middle" font-weight="normal" >9.0</text>
<text x="664.39" y="781.60" font-size="10.3" text-anchor="middle" font-weight="normal" >9.5</text>
<text transform="translate(382.50,660.50) rotate(-90)" font-size="10.3" text-anchor="middle">Atomic ratio</text>
<text x="545.70" y="801.70" font-size="10.3" text-anchor="middle" font-weight="normal" >Solution pH</text>
<text x="370.80" y="546.80" font-size="13" text-anchor="start" font-weight="bold" >f</text>
</g>
</svg>
</body></html>
